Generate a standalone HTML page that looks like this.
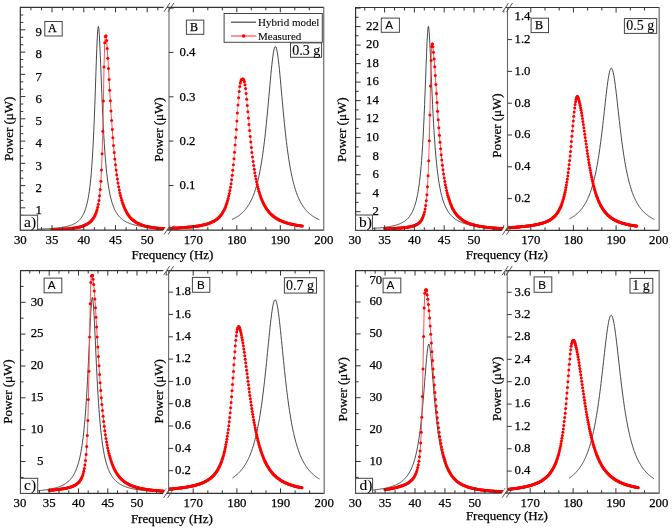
<!DOCTYPE html><html><head><meta charset="utf-8"><style>html,body{margin:0;padding:0;background:#fff;width:672px;height:530px;overflow:hidden}svg{display:block;will-change:transform} text{stroke:#000;stroke-width:0.25px}</style></head><body><svg width="672" height="530" viewBox="0 0 672 530" font-family='"Liberation Serif", serif' fill="#000" stroke-linecap="butt">
<rect width="672" height="530" fill="#fff"/>
<clipPath id="cAa"><rect x="20.3" y="7.3" width="148.7" height="222.8"/></clipPath>
<clipPath id="cBa"><rect x="169" y="7.3" width="154.7" height="222.8"/></clipPath>
<g clip-path="url(#cAa)">
<polyline points="20.3,229.5 20.8,229.5 21.3,229.5 21.8,229.5 22.3,229.5 22.8,229.5 23.3,229.5 23.8,229.5 24.3,229.4 24.8,229.4 25.3,229.4 25.8,229.4 26.3,229.4 26.8,229.4 27.3,229.4 27.8,229.4 28.3,229.4 28.8,229.4 29.3,229.3 29.8,229.3 30.3,229.3 30.8,229.3 31.3,229.3 31.8,229.3 32.3,229.3 32.8,229.3 33.3,229.3 33.8,229.2 34.3,229.2 34.8,229.2 35.3,229.2 35.8,229.2 36.3,229.2 36.8,229.2 37.3,229.1 37.8,229.1 38.3,229.1 38.8,229.1 39.3,229.1 39.8,229 40.3,229 40.8,229 41.3,229 41.8,229 42.3,229 42.8,228.9 43.3,228.9 43.8,228.9 44.3,228.9 44.8,228.8 45.3,228.8 45.8,228.8 46.3,228.8 46.8,228.7 47.3,228.7 47.8,228.7 48.3,228.7 48.8,228.6 49.3,228.6 49.8,228.6 50.3,228.5 50.8,228.5 51.3,228.5 51.8,228.4 52.3,228.4 52.8,228.3 53.3,228.3 53.8,228.3 54.3,228.2 54.8,228.2 55.3,228.1 55.8,228.1 56.3,228 56.8,228 57.3,227.9 57.8,227.9 58.3,227.8 58.8,227.8 59.3,227.7 59.8,227.6 60.3,227.6 60.8,227.5 61.3,227.4 61.8,227.4 62.3,227.3 62.8,227.2 63.3,227.1 63.8,227 64.3,226.9 64.8,226.8 65.3,226.7 65.8,226.6 66.3,226.5 66.8,226.4 67.3,226.3 67.8,226.2 68.3,226 68.8,225.9 69.3,225.8 69.8,225.6 70.3,225.4 70.8,225.3 71.3,225.1 71.8,224.9 72.3,224.7 72.8,224.5 73.3,224.3 73.8,224 74.3,223.8 74.8,223.5 75.3,223.2 75.8,222.9 76.3,222.6 76.8,222.2 77.3,221.9 77.8,221.5 78.3,221 78.8,220.6 79.3,220.1 79.8,219.6 80.3,219 80.8,218.4 81.3,217.7 81.8,217 82.3,216.2 82.8,215.3 83.3,214.4 83.8,213.4 84.3,212.2 84.8,211 85.3,209.6 85.8,208.1 86.3,206.4 86.8,204.5 87.3,202.4 87.8,200.1 88.3,197.5 88.8,194.5 89.3,191.2 89.8,187.4 90.3,183.1 90.8,178.2 91.3,172.7 91.8,166.3 92.3,159 92.8,150.7 93.3,141.2 93.8,130.5 94.3,118.6 94.8,105.4 95.3,91.1 95.8,76.3 96.3,61.7 96.8,48.2 97.3,37.1 97.8,29.6 98.3,26.5 98.4,26.4 98.8,28.3 99.3,34.6 99.8,44.1 100.3,55.5 100.8,68.1 101.3,80.9 101.8,93.4 102.3,105.2 102.8,116.3 103.3,126.3 103.8,135.5 104.3,143.7 104.8,151.1 105.3,157.7 105.8,163.6 106.3,168.9 106.8,173.7 107.3,177.9 107.8,181.8 108.3,185.2 108.8,188.3 109.3,191.1 109.8,193.7 110.3,196 110.8,198.1 111.3,200 111.8,201.8 112.3,203.4 112.8,204.9 113.3,206.2 113.8,207.5 114.3,208.7 114.8,209.7 115.3,210.7 115.8,211.7 116.3,212.5 116.8,213.3 117.3,214.1 117.8,214.8 118.3,215.4 118.8,216 119.3,216.6 119.8,217.1 120.3,217.7 120.8,218.1 121.3,218.6 121.8,219 122.3,219.4 122.8,219.8 123.3,220.2 123.8,220.5 124.3,220.8 124.8,221.1 125.3,221.4 125.8,221.7 126.3,222 126.8,222.2 127.3,222.5 127.8,222.7 128.3,222.9 128.8,223.1 129.3,223.3 129.8,223.5 130.3,223.7 130.8,223.9 131.3,224 131.8,224.2 132.3,224.4 132.8,224.5 133.3,224.7 133.8,224.8 134.3,224.9 134.8,225.1 135.3,225.2 135.8,225.3 136.3,225.4 136.8,225.5 137.3,225.6 137.8,225.7 138.3,225.8 138.8,225.9 139.3,226 139.8,226.1 140.3,226.2 140.8,226.3 141.3,226.4 141.8,226.4 142.3,226.5 142.8,226.6 143.3,226.6 143.8,226.7 144.3,226.8 144.8,226.8 145.3,226.9 145.8,227 146.3,227 146.8,227.1 147.3,227.1 147.8,227.2 148.3,227.3 148.8,227.3 149.3,227.4 149.8,227.4 150.3,227.4 150.8,227.5 151.3,227.5 151.8,227.6 152.3,227.6 152.8,227.7 153.3,227.7 153.8,227.7 154.3,227.8 154.8,227.8 155.3,227.9 155.8,227.9 156.3,227.9 156.8,228 157.3,228 157.8,228 158.3,228.1 158.8,228.1 159.3,228.1 159.8,228.2 160.3,228.2 160.8,228.2 161.3,228.2 161.8,228.3 162.3,228.3 162.8,228.3 163.3,228.3 163.8,228.4 164.3,228.4 164.8,228.4 165.3,228.4 165.8,228.5 166.3,228.5 166.8,228.5 167.3,228.5 167.8,228.5 168.3,228.6 168.8,228.6" fill="none" stroke="#333" stroke-width="0.9" stroke-linejoin="round" />
<polyline points="52,229.5 52.6,229.5 53.3,229.5 53.9,229.5 54.5,229.5 55.2,229.4 55.8,229.4 56.4,229.4 57.1,229.4 57.7,229.4 58.3,229.3 59,229.3 59.6,229.3 60.2,229.3 60.9,229.2 61.5,229.2 62.2,229.2 62.8,229.1 63.4,229.1 64.1,229 64.7,229 65.3,229 66,228.9 66.6,228.9 67.2,228.8 67.9,228.8 68.5,228.7 69.1,228.7 69.8,228.6 70.4,228.5 71,228.5 71.7,228.4 72.3,228.3 72.9,228.2 73.6,228.1 74.2,228 74.8,227.9 75.5,227.8 76.1,227.7 76.7,227.6 77.4,227.5 78,227.3 78.6,227.2 79.3,227 79.9,226.9 80.6,226.7 81.2,226.5 81.8,226.3 82.5,226.1 83.1,225.9 83.7,225.7 84.4,225.4 85,225.1 85.6,224.8 86.3,224.5 86.9,224.2 87.5,223.8 88.2,223.4 88.8,223 89.4,222.5 90.1,222 90.7,221.4 91.3,220.8 92,220.1 92.6,219.3 93.2,218.4 93.9,217.4 94.5,216.3 95.1,215 95.8,213.5 96.4,211.8 97,209.7 97.7,207.3 98.3,204.3 99,200.5 99.6,195.7 100.2,189.5 100.9,181.3 101.5,169.9 102.1,153.8 102.8,131.3 103.4,101 104,67 104.7,42.8 105.3,36.4 105.9,36.1 106,36.1 106.6,40.5 107.2,48.6 107.8,58.2 108.5,68.6 109.1,79.4 109.7,90.3 110.4,100.8 111,111 111.6,120.6 112.3,129.5 112.9,137.8 113.5,145.5 114.2,152.5 114.8,158.9 115.5,164.7 116.1,170 116.7,174.8 117.4,179.1 118,183.1 118.6,186.7 119.3,190 119.9,192.9 120.5,195.6 121.2,198.1 121.8,200.3 122.4,202.4 123.1,204.3 123.7,206 124.3,207.5 125,209 125.6,210.3 126.2,211.5 126.9,212.7 127.5,213.7 128.1,214.7 128.8,215.6 129.4,216.4 130,217.2 130.7,217.9 131.3,218.6 131.9,219.2 132.6,219.7 133.2,220.3 133.9,220.8 134.5,221.3 135.1,221.7 135.8,222.1 136.4,222.5 137,222.9 137.7,223.2 138.3,223.5 138.9,223.8 139.6,224.1 140.2,224.4 140.8,224.6 141.5,224.9 142.1,225.1 142.7,225.3 143.4,225.5 144,225.7 144.6,225.9 145.3,226 145.9,226.2 146.5,226.4 147.2,226.5 147.8,226.6 148.4,226.8 149.1,226.9 149.7,227 150.3,227.1 151,227.2 151.6,227.3 152.3,227.4 152.9,227.5 153.5,227.6 154.2,227.7 154.8,227.8 155.4,227.9 156.1,228 156.7,228 157.3,228.1 158,228.2 158.6,228.2 159.2,228.3 159.9,228.3 160.5,228.4 161.1,228.5 161.8,228.5 162.4,228.6 163,228.6 163.7,228.6 164.3,228.7 164.9,228.7 165.6,228.8 166.2,228.8 166.8,228.8 167.5,228.9 168.1,228.9 168.7,228.9" fill="none" stroke="#ff5050" stroke-width="1.0" stroke-linejoin="round" />
<g fill="#f00"><circle cx="52" cy="229.5" r="1.5"/><circle cx="52.6" cy="229.5" r="1.5"/><circle cx="53.3" cy="229.5" r="1.5"/><circle cx="53.9" cy="229.5" r="1.5"/><circle cx="54.5" cy="229.5" r="1.5"/><circle cx="55.2" cy="229.4" r="1.5"/><circle cx="55.8" cy="229.4" r="1.5"/><circle cx="56.4" cy="229.4" r="1.5"/><circle cx="57.1" cy="229.4" r="1.5"/><circle cx="57.7" cy="229.4" r="1.5"/><circle cx="58.3" cy="229.3" r="1.5"/><circle cx="59" cy="229.3" r="1.5"/><circle cx="59.6" cy="229.3" r="1.5"/><circle cx="60.2" cy="229.3" r="1.5"/><circle cx="60.9" cy="229.2" r="1.5"/><circle cx="61.5" cy="229.2" r="1.5"/><circle cx="62.2" cy="229.2" r="1.5"/><circle cx="62.8" cy="229.1" r="1.5"/><circle cx="63.4" cy="229.1" r="1.5"/><circle cx="64.1" cy="229" r="1.5"/><circle cx="64.7" cy="229" r="1.5"/><circle cx="65.3" cy="229" r="1.5"/><circle cx="66" cy="228.9" r="1.5"/><circle cx="66.6" cy="228.9" r="1.5"/><circle cx="67.2" cy="228.8" r="1.5"/><circle cx="67.9" cy="228.8" r="1.5"/><circle cx="68.5" cy="228.7" r="1.5"/><circle cx="69.1" cy="228.7" r="1.5"/><circle cx="69.8" cy="228.6" r="1.5"/><circle cx="70.4" cy="228.5" r="1.5"/><circle cx="71" cy="228.5" r="1.5"/><circle cx="71.7" cy="228.4" r="1.5"/><circle cx="72.3" cy="228.3" r="1.5"/><circle cx="72.9" cy="228.2" r="1.5"/><circle cx="73.6" cy="228.1" r="1.5"/><circle cx="74.2" cy="228" r="1.5"/><circle cx="74.8" cy="227.9" r="1.5"/><circle cx="75.5" cy="227.8" r="1.5"/><circle cx="76.1" cy="227.7" r="1.5"/><circle cx="76.7" cy="227.6" r="1.5"/><circle cx="77.4" cy="227.5" r="1.5"/><circle cx="78" cy="227.3" r="1.5"/><circle cx="78.6" cy="227.2" r="1.5"/><circle cx="79.3" cy="227" r="1.5"/><circle cx="79.9" cy="226.9" r="1.5"/><circle cx="80.6" cy="226.7" r="1.5"/><circle cx="81.2" cy="226.5" r="1.5"/><circle cx="81.8" cy="226.3" r="1.5"/><circle cx="82.5" cy="226.1" r="1.5"/><circle cx="83.1" cy="225.9" r="1.5"/><circle cx="83.7" cy="225.7" r="1.5"/><circle cx="84.4" cy="225.4" r="1.5"/><circle cx="85" cy="225.1" r="1.5"/><circle cx="85.6" cy="224.8" r="1.5"/><circle cx="86.3" cy="224.5" r="1.5"/><circle cx="86.9" cy="224.2" r="1.5"/><circle cx="87.5" cy="223.8" r="1.5"/><circle cx="88.2" cy="223.4" r="1.5"/><circle cx="88.8" cy="223" r="1.5"/><circle cx="89.4" cy="222.5" r="1.5"/><circle cx="90.1" cy="222" r="1.5"/><circle cx="90.7" cy="221.4" r="1.5"/><circle cx="91.3" cy="220.8" r="1.5"/><circle cx="92" cy="220.1" r="1.5"/><circle cx="92.6" cy="219.3" r="1.5"/><circle cx="93.2" cy="218.4" r="1.5"/><circle cx="93.9" cy="217.4" r="1.5"/><circle cx="94.5" cy="216.3" r="1.5"/><circle cx="95.1" cy="215" r="1.5"/><circle cx="95.8" cy="213.5" r="1.5"/><circle cx="96.4" cy="211.8" r="1.5"/><circle cx="97" cy="209.7" r="1.5"/><circle cx="97.7" cy="207.3" r="1.5"/><circle cx="98.3" cy="204.3" r="1.5"/><circle cx="99" cy="200.5" r="1.5"/><circle cx="99.6" cy="195.7" r="1.5"/><circle cx="100.2" cy="189.5" r="1.5"/><circle cx="100.9" cy="181.3" r="1.5"/><circle cx="101.5" cy="169.9" r="1.5"/><circle cx="102.1" cy="153.8" r="1.5"/><circle cx="102.8" cy="131.3" r="1.5"/><circle cx="103.4" cy="101" r="1.5"/><circle cx="104" cy="67" r="1.5"/><circle cx="104.7" cy="42.8" r="1.5"/><circle cx="105.3" cy="36.4" r="1.5"/><circle cx="105.9" cy="36.1" r="1.5"/><circle cx="106" cy="36.1" r="1.5"/><circle cx="106.6" cy="40.5" r="1.5"/><circle cx="107.2" cy="48.6" r="1.5"/><circle cx="107.8" cy="58.2" r="1.5"/><circle cx="108.5" cy="68.6" r="1.5"/><circle cx="109.1" cy="79.4" r="1.5"/><circle cx="109.7" cy="90.3" r="1.5"/><circle cx="110.4" cy="100.8" r="1.5"/><circle cx="111" cy="111" r="1.5"/><circle cx="111.6" cy="120.6" r="1.5"/><circle cx="112.3" cy="129.5" r="1.5"/><circle cx="112.9" cy="137.8" r="1.5"/><circle cx="113.5" cy="145.5" r="1.5"/><circle cx="114.2" cy="152.5" r="1.5"/><circle cx="114.8" cy="158.9" r="1.5"/><circle cx="115.5" cy="164.7" r="1.5"/><circle cx="116.1" cy="170" r="1.5"/><circle cx="116.7" cy="174.8" r="1.5"/><circle cx="117.4" cy="179.1" r="1.5"/><circle cx="118" cy="183.1" r="1.5"/><circle cx="118.6" cy="186.7" r="1.5"/><circle cx="119.3" cy="190" r="1.5"/><circle cx="119.9" cy="192.9" r="1.5"/><circle cx="120.5" cy="195.6" r="1.5"/><circle cx="121.2" cy="198.1" r="1.5"/><circle cx="121.8" cy="200.3" r="1.5"/><circle cx="122.4" cy="202.4" r="1.5"/><circle cx="123.1" cy="204.3" r="1.5"/><circle cx="123.7" cy="206" r="1.5"/><circle cx="124.3" cy="207.5" r="1.5"/><circle cx="125" cy="209" r="1.5"/><circle cx="125.6" cy="210.3" r="1.5"/><circle cx="126.2" cy="211.5" r="1.5"/><circle cx="126.9" cy="212.7" r="1.5"/><circle cx="127.5" cy="213.7" r="1.5"/><circle cx="128.1" cy="214.7" r="1.5"/><circle cx="128.8" cy="215.6" r="1.5"/><circle cx="129.4" cy="216.4" r="1.5"/><circle cx="130" cy="217.2" r="1.5"/><circle cx="130.7" cy="217.9" r="1.5"/><circle cx="131.3" cy="218.6" r="1.5"/><circle cx="131.9" cy="219.2" r="1.5"/><circle cx="132.6" cy="219.7" r="1.5"/><circle cx="133.2" cy="220.3" r="1.5"/><circle cx="133.9" cy="220.8" r="1.5"/><circle cx="134.5" cy="221.3" r="1.5"/><circle cx="135.1" cy="221.7" r="1.5"/><circle cx="135.8" cy="222.1" r="1.5"/><circle cx="136.4" cy="222.5" r="1.5"/><circle cx="137" cy="222.9" r="1.5"/><circle cx="137.7" cy="223.2" r="1.5"/><circle cx="138.3" cy="223.5" r="1.5"/><circle cx="138.9" cy="223.8" r="1.5"/><circle cx="139.6" cy="224.1" r="1.5"/><circle cx="140.2" cy="224.4" r="1.5"/><circle cx="140.8" cy="224.6" r="1.5"/><circle cx="141.5" cy="224.9" r="1.5"/><circle cx="142.1" cy="225.1" r="1.5"/><circle cx="142.7" cy="225.3" r="1.5"/><circle cx="143.4" cy="225.5" r="1.5"/><circle cx="144" cy="225.7" r="1.5"/><circle cx="144.6" cy="225.9" r="1.5"/><circle cx="145.3" cy="226" r="1.5"/><circle cx="145.9" cy="226.2" r="1.5"/><circle cx="146.5" cy="226.4" r="1.5"/><circle cx="147.2" cy="226.5" r="1.5"/><circle cx="147.8" cy="226.6" r="1.5"/><circle cx="148.4" cy="226.8" r="1.5"/><circle cx="149.1" cy="226.9" r="1.5"/><circle cx="149.7" cy="227" r="1.5"/><circle cx="150.3" cy="227.1" r="1.5"/><circle cx="151" cy="227.2" r="1.5"/><circle cx="151.6" cy="227.3" r="1.5"/><circle cx="152.3" cy="227.4" r="1.5"/><circle cx="152.9" cy="227.5" r="1.5"/><circle cx="153.5" cy="227.6" r="1.5"/><circle cx="154.2" cy="227.7" r="1.5"/><circle cx="154.8" cy="227.8" r="1.5"/><circle cx="155.4" cy="227.9" r="1.5"/><circle cx="156.1" cy="228" r="1.5"/><circle cx="156.7" cy="228" r="1.5"/><circle cx="157.3" cy="228.1" r="1.5"/><circle cx="158" cy="228.2" r="1.5"/><circle cx="158.6" cy="228.2" r="1.5"/><circle cx="159.2" cy="228.3" r="1.5"/><circle cx="159.9" cy="228.3" r="1.5"/><circle cx="160.5" cy="228.4" r="1.5"/><circle cx="161.1" cy="228.5" r="1.5"/><circle cx="161.8" cy="228.5" r="1.5"/><circle cx="162.4" cy="228.6" r="1.5"/><circle cx="163" cy="228.6" r="1.5"/><circle cx="163.7" cy="228.6" r="1.5"/><circle cx="164.3" cy="228.7" r="1.5"/><circle cx="164.9" cy="228.7" r="1.5"/><circle cx="165.6" cy="228.8" r="1.5"/><circle cx="166.2" cy="228.8" r="1.5"/><circle cx="166.8" cy="228.8" r="1.5"/><circle cx="167.5" cy="228.9" r="1.5"/><circle cx="168.1" cy="228.9" r="1.5"/><circle cx="168.7" cy="228.9" r="1.5"/></g>
</g>
<g clip-path="url(#cBa)">
<polyline points="231.9,219.5 232.4,219.3 232.9,219.1 233.4,218.8 233.9,218.6 234.4,218.3 234.9,218 235.4,217.8 235.9,217.5 236.4,217.2 236.9,216.9 237.4,216.6 237.9,216.2 238.4,215.9 238.9,215.5 239.4,215.2 239.9,214.8 240.4,214.4 240.9,214 241.4,213.6 241.9,213.1 242.4,212.7 242.9,212.2 243.4,211.7 243.9,211.2 244.4,210.6 244.9,210 245.4,209.5 245.9,208.8 246.4,208.2 246.9,207.5 247.4,206.8 247.9,206.1 248.4,205.3 248.9,204.5 249.4,203.7 249.9,202.8 250.4,201.9 250.9,200.9 251.4,199.9 251.9,198.8 252.4,197.7 252.9,196.5 253.4,195.3 253.9,194 254.4,192.6 254.9,191.1 255.4,189.6 255.9,188 256.4,186.3 256.9,184.5 257.4,182.6 257.9,180.6 258.4,178.5 258.9,176.3 259.4,173.9 259.9,171.4 260.4,168.8 260.9,166 261.4,163 261.9,159.9 262.4,156.6 262.9,153.1 263.4,149.5 263.9,145.6 264.4,141.5 264.9,137.3 265.4,132.8 265.9,128.1 266.4,123.3 266.9,118.2 267.4,113 267.9,107.7 268.4,102.2 268.9,96.6 269.4,91 269.9,85.4 270.4,79.9 270.9,74.5 271.4,69.3 271.9,64.5 272.4,60.1 272.9,56.2 273.4,52.8 273.9,50.1 274.4,48.1 274.9,46.9 275.4,46.5 275.4,46.5 275.9,46.9 276.4,48.1 276.9,50.1 277.4,52.8 277.9,56.2 278.4,60.1 278.9,64.5 279.4,69.3 279.9,74.5 280.4,79.9 280.9,85.4 281.4,91 281.9,96.6 282.4,102.2 282.9,107.7 283.4,113 283.9,118.2 284.4,123.3 284.9,128.1 285.4,132.8 285.9,137.3 286.4,141.5 286.9,145.6 287.4,149.5 287.9,153.1 288.4,156.6 288.9,159.9 289.4,163 289.9,166 290.4,168.8 290.9,171.4 291.4,173.9 291.9,176.3 292.4,178.5 292.9,180.6 293.4,182.6 293.9,184.5 294.4,186.3 294.9,188 295.4,189.6 295.9,191.1 296.4,192.6 296.9,194 297.4,195.3 297.9,196.5 298.4,197.7 298.9,198.8 299.4,199.9 299.9,200.9 300.4,201.9 300.9,202.8 301.4,203.7 301.9,204.5 302.4,205.3 302.9,206.1 303.4,206.8 303.9,207.5 304.4,208.2 304.9,208.8 305.4,209.5 305.9,210 306.4,210.6 306.9,211.2 307.4,211.7 307.9,212.2 308.4,212.7 308.9,213.1 309.4,213.6 309.9,214 310.4,214.4 310.9,214.8 311.4,215.2 311.9,215.5 312.4,215.9 312.9,216.2 313.4,216.6 313.9,216.9 314.4,217.2 314.9,217.5 315.4,217.8 315.9,218 316.4,218.3 316.9,218.6 317.4,218.8 317.9,219.1 318.4,219.3 318.9,219.5 319.4,219.7" fill="none" stroke="#333" stroke-width="0.9" stroke-linejoin="round" />
<polyline points="169,228.3 169.6,228.3 170.2,228.2 170.7,228.2 171.3,228.2 171.9,228.2 172.5,228.1 173.1,228.1 173.6,228.1 174.2,228.1 174.8,228 175.4,228 176,228 176.5,228 177.1,227.9 177.7,227.9 178.3,227.9 178.9,227.8 179.4,227.8 180,227.8 180.6,227.7 181.2,227.7 181.8,227.6 182.3,227.6 182.9,227.6 183.5,227.5 184.1,227.5 184.7,227.4 185.2,227.4 185.8,227.3 186.4,227.3 187,227.2 187.6,227.2 188.1,227.1 188.7,227.1 189.3,227 189.9,227 190.5,226.9 191,226.9 191.6,226.8 192.2,226.7 192.8,226.7 193.4,226.6 193.9,226.5 194.5,226.5 195.1,226.4 195.7,226.3 196.3,226.2 196.8,226.1 197.4,226 198,225.9 198.6,225.9 199.2,225.8 199.7,225.7 200.3,225.6 200.9,225.4 201.5,225.3 202.1,225.2 202.6,225.1 203.2,225 203.8,224.8 204.4,224.7 205,224.5 205.5,224.4 206.1,224.2 206.7,224.1 207.3,223.9 207.9,223.7 208.4,223.5 209,223.3 209.6,223.1 210.2,222.9 210.8,222.6 211.3,222.4 211.9,222.1 212.5,221.8 213.1,221.6 213.7,221.2 214.2,220.9 214.8,220.6 215.4,220.2 216,219.8 216.6,219.4 217.1,218.9 217.7,218.4 218.3,217.9 218.9,217.4 219.5,216.8 220,216.1 220.6,215.4 221.2,214.7 221.8,213.9 222.4,213 222.9,212.1 223.5,211 224.1,209.9 224.7,208.7 225.3,207.4 225.8,205.9 226.4,204.3 227,202.6 227.6,200.6 228.2,198.5 228.7,196.1 229.3,193.5 229.9,190.6 230.5,187.3 231.1,183.7 231.6,179.7 232.2,175.3 232.8,170.3 233.4,164.8 234,158.8 234.5,152.2 235.1,145.1 235.7,137.4 236.3,129.4 236.9,121.1 237.4,112.9 238,105 238.6,97.7 239.2,91.4 239.8,86.4 240.3,83 240.9,80.8 241.5,79.6 242.1,79.2 242.7,79.1 242.8,79.1 243.2,79.2 243.8,80 244.4,81.8 245,84.7 245.6,88.6 246.1,93.6 246.7,99.3 247.3,105.4 247.9,111.7 248.5,118.1 249,124.4 249.6,130.6 250.2,136.5 250.8,142.1 251.4,147.4 251.9,152.4 252.5,157.1 253.1,161.4 253.7,165.5 254.3,169.3 254.8,172.8 255.4,176 256,179 256.6,181.8 257.2,184.4 257.7,186.8 258.3,189.1 258.9,191.2 259.5,193.1 260.1,194.9 260.6,196.6 261.2,198.2 261.8,199.7 262.4,201.1 263,202.4 263.5,203.6 264.1,204.7 264.7,205.8 265.3,206.8 265.9,207.7 266.4,208.6 267,209.5 267.6,210.3 268.2,211 268.8,211.7 269.3,212.4 269.9,213.1 270.5,213.7 271.1,214.2 271.7,214.8 272.2,215.3 272.8,215.8 273.4,216.3 274,216.7 274.6,217.1 275.1,217.6 275.7,217.9 276.3,218.3 276.9,218.7 277.5,219 278,219.3 278.6,219.6 279.2,219.9 279.8,220.2 280.4,220.5 280.9,220.8 281.5,221 282.1,221.3 282.7,221.5 283.3,221.7 283.8,221.9 284.4,222.1 285,222.3 285.6,222.5 286.2,222.7 286.7,222.9 287.3,223.1 287.9,223.2 288.5,223.4 289.1,223.6 289.6,223.7 290.2,223.9 290.8,224 291.4,224.1 292,224.3 292.5,224.4 293.1,224.5 293.7,224.6 294.3,224.8 294.9,224.9 295.4,225 296,225.1 296.6,225.2 297.2,225.3 297.8,225.4 298.3,225.5 298.9,225.6 299.5,225.6 300.1,225.7 300.7,225.8 301.2,225.9 301.8,226 302.4,226" fill="none" stroke="#ff5050" stroke-width="0.6" stroke-linejoin="round" />
<g fill="#f00"><circle cx="169" cy="228.3" r="1.5"/><circle cx="169.6" cy="228.3" r="1.5"/><circle cx="170.2" cy="228.2" r="1.5"/><circle cx="170.7" cy="228.2" r="1.5"/><circle cx="171.3" cy="228.2" r="1.5"/><circle cx="171.9" cy="228.2" r="1.5"/><circle cx="172.5" cy="228.1" r="1.5"/><circle cx="173.1" cy="228.1" r="1.5"/><circle cx="173.6" cy="228.1" r="1.5"/><circle cx="174.2" cy="228.1" r="1.5"/><circle cx="174.8" cy="228" r="1.5"/><circle cx="175.4" cy="228" r="1.5"/><circle cx="176" cy="228" r="1.5"/><circle cx="176.5" cy="228" r="1.5"/><circle cx="177.1" cy="227.9" r="1.5"/><circle cx="177.7" cy="227.9" r="1.5"/><circle cx="178.3" cy="227.9" r="1.5"/><circle cx="178.9" cy="227.8" r="1.5"/><circle cx="179.4" cy="227.8" r="1.5"/><circle cx="180" cy="227.8" r="1.5"/><circle cx="180.6" cy="227.7" r="1.5"/><circle cx="181.2" cy="227.7" r="1.5"/><circle cx="181.8" cy="227.6" r="1.5"/><circle cx="182.3" cy="227.6" r="1.5"/><circle cx="182.9" cy="227.6" r="1.5"/><circle cx="183.5" cy="227.5" r="1.5"/><circle cx="184.1" cy="227.5" r="1.5"/><circle cx="184.7" cy="227.4" r="1.5"/><circle cx="185.2" cy="227.4" r="1.5"/><circle cx="185.8" cy="227.3" r="1.5"/><circle cx="186.4" cy="227.3" r="1.5"/><circle cx="187" cy="227.2" r="1.5"/><circle cx="187.6" cy="227.2" r="1.5"/><circle cx="188.1" cy="227.1" r="1.5"/><circle cx="188.7" cy="227.1" r="1.5"/><circle cx="189.3" cy="227" r="1.5"/><circle cx="189.9" cy="227" r="1.5"/><circle cx="190.5" cy="226.9" r="1.5"/><circle cx="191" cy="226.9" r="1.5"/><circle cx="191.6" cy="226.8" r="1.5"/><circle cx="192.2" cy="226.7" r="1.5"/><circle cx="192.8" cy="226.7" r="1.5"/><circle cx="193.4" cy="226.6" r="1.5"/><circle cx="193.9" cy="226.5" r="1.5"/><circle cx="194.5" cy="226.5" r="1.5"/><circle cx="195.1" cy="226.4" r="1.5"/><circle cx="195.7" cy="226.3" r="1.5"/><circle cx="196.3" cy="226.2" r="1.5"/><circle cx="196.8" cy="226.1" r="1.5"/><circle cx="197.4" cy="226" r="1.5"/><circle cx="198" cy="225.9" r="1.5"/><circle cx="198.6" cy="225.9" r="1.5"/><circle cx="199.2" cy="225.8" r="1.5"/><circle cx="199.7" cy="225.7" r="1.5"/><circle cx="200.3" cy="225.6" r="1.5"/><circle cx="200.9" cy="225.4" r="1.5"/><circle cx="201.5" cy="225.3" r="1.5"/><circle cx="202.1" cy="225.2" r="1.5"/><circle cx="202.6" cy="225.1" r="1.5"/><circle cx="203.2" cy="225" r="1.5"/><circle cx="203.8" cy="224.8" r="1.5"/><circle cx="204.4" cy="224.7" r="1.5"/><circle cx="205" cy="224.5" r="1.5"/><circle cx="205.5" cy="224.4" r="1.5"/><circle cx="206.1" cy="224.2" r="1.5"/><circle cx="206.7" cy="224.1" r="1.5"/><circle cx="207.3" cy="223.9" r="1.5"/><circle cx="207.9" cy="223.7" r="1.5"/><circle cx="208.4" cy="223.5" r="1.5"/><circle cx="209" cy="223.3" r="1.5"/><circle cx="209.6" cy="223.1" r="1.5"/><circle cx="210.2" cy="222.9" r="1.5"/><circle cx="210.8" cy="222.6" r="1.5"/><circle cx="211.3" cy="222.4" r="1.5"/><circle cx="211.9" cy="222.1" r="1.5"/><circle cx="212.5" cy="221.8" r="1.5"/><circle cx="213.1" cy="221.6" r="1.5"/><circle cx="213.7" cy="221.2" r="1.5"/><circle cx="214.2" cy="220.9" r="1.5"/><circle cx="214.8" cy="220.6" r="1.5"/><circle cx="215.4" cy="220.2" r="1.5"/><circle cx="216" cy="219.8" r="1.5"/><circle cx="216.6" cy="219.4" r="1.5"/><circle cx="217.1" cy="218.9" r="1.5"/><circle cx="217.7" cy="218.4" r="1.5"/><circle cx="218.3" cy="217.9" r="1.5"/><circle cx="218.9" cy="217.4" r="1.5"/><circle cx="219.5" cy="216.8" r="1.5"/><circle cx="220" cy="216.1" r="1.5"/><circle cx="220.6" cy="215.4" r="1.5"/><circle cx="221.2" cy="214.7" r="1.5"/><circle cx="221.8" cy="213.9" r="1.5"/><circle cx="222.4" cy="213" r="1.5"/><circle cx="222.9" cy="212.1" r="1.5"/><circle cx="223.5" cy="211" r="1.5"/><circle cx="224.1" cy="209.9" r="1.5"/><circle cx="224.7" cy="208.7" r="1.5"/><circle cx="225.3" cy="207.4" r="1.5"/><circle cx="225.8" cy="205.9" r="1.5"/><circle cx="226.4" cy="204.3" r="1.5"/><circle cx="227" cy="202.6" r="1.5"/><circle cx="227.6" cy="200.6" r="1.5"/><circle cx="228.2" cy="198.5" r="1.5"/><circle cx="228.7" cy="196.1" r="1.5"/><circle cx="229.3" cy="193.5" r="1.5"/><circle cx="229.9" cy="190.6" r="1.5"/><circle cx="230.5" cy="187.3" r="1.5"/><circle cx="231.1" cy="183.7" r="1.5"/><circle cx="231.6" cy="179.7" r="1.5"/><circle cx="232.2" cy="175.3" r="1.5"/><circle cx="232.8" cy="170.3" r="1.5"/><circle cx="233.4" cy="164.8" r="1.5"/><circle cx="234" cy="158.8" r="1.5"/><circle cx="234.5" cy="152.2" r="1.5"/><circle cx="235.1" cy="145.1" r="1.5"/><circle cx="235.7" cy="137.4" r="1.5"/><circle cx="236.3" cy="129.4" r="1.5"/><circle cx="236.9" cy="121.1" r="1.5"/><circle cx="237.4" cy="112.9" r="1.5"/><circle cx="238" cy="105" r="1.5"/><circle cx="238.6" cy="97.7" r="1.5"/><circle cx="239.2" cy="91.4" r="1.5"/><circle cx="239.8" cy="86.4" r="1.5"/><circle cx="240.3" cy="83" r="1.5"/><circle cx="240.9" cy="80.8" r="1.5"/><circle cx="241.5" cy="79.6" r="1.5"/><circle cx="242.1" cy="79.2" r="1.5"/><circle cx="242.7" cy="79.1" r="1.5"/><circle cx="242.8" cy="79.1" r="1.5"/><circle cx="243.2" cy="79.2" r="1.5"/><circle cx="243.8" cy="80" r="1.5"/><circle cx="244.4" cy="81.8" r="1.5"/><circle cx="245" cy="84.7" r="1.5"/><circle cx="245.6" cy="88.6" r="1.5"/><circle cx="246.1" cy="93.6" r="1.5"/><circle cx="246.7" cy="99.3" r="1.5"/><circle cx="247.3" cy="105.4" r="1.5"/><circle cx="247.9" cy="111.7" r="1.5"/><circle cx="248.5" cy="118.1" r="1.5"/><circle cx="249" cy="124.4" r="1.5"/><circle cx="249.6" cy="130.6" r="1.5"/><circle cx="250.2" cy="136.5" r="1.5"/><circle cx="250.8" cy="142.1" r="1.5"/><circle cx="251.4" cy="147.4" r="1.5"/><circle cx="251.9" cy="152.4" r="1.5"/><circle cx="252.5" cy="157.1" r="1.5"/><circle cx="253.1" cy="161.4" r="1.5"/><circle cx="253.7" cy="165.5" r="1.5"/><circle cx="254.3" cy="169.3" r="1.5"/><circle cx="254.8" cy="172.8" r="1.5"/><circle cx="255.4" cy="176" r="1.5"/><circle cx="256" cy="179" r="1.5"/><circle cx="256.6" cy="181.8" r="1.5"/><circle cx="257.2" cy="184.4" r="1.5"/><circle cx="257.7" cy="186.8" r="1.5"/><circle cx="258.3" cy="189.1" r="1.5"/><circle cx="258.9" cy="191.2" r="1.5"/><circle cx="259.5" cy="193.1" r="1.5"/><circle cx="260.1" cy="194.9" r="1.5"/><circle cx="260.6" cy="196.6" r="1.5"/><circle cx="261.2" cy="198.2" r="1.5"/><circle cx="261.8" cy="199.7" r="1.5"/><circle cx="262.4" cy="201.1" r="1.5"/><circle cx="263" cy="202.4" r="1.5"/><circle cx="263.5" cy="203.6" r="1.5"/><circle cx="264.1" cy="204.7" r="1.5"/><circle cx="264.7" cy="205.8" r="1.5"/><circle cx="265.3" cy="206.8" r="1.5"/><circle cx="265.9" cy="207.7" r="1.5"/><circle cx="266.4" cy="208.6" r="1.5"/><circle cx="267" cy="209.5" r="1.5"/><circle cx="267.6" cy="210.3" r="1.5"/><circle cx="268.2" cy="211" r="1.5"/><circle cx="268.8" cy="211.7" r="1.5"/><circle cx="269.3" cy="212.4" r="1.5"/><circle cx="269.9" cy="213.1" r="1.5"/><circle cx="270.5" cy="213.7" r="1.5"/><circle cx="271.1" cy="214.2" r="1.5"/><circle cx="271.7" cy="214.8" r="1.5"/><circle cx="272.2" cy="215.3" r="1.5"/><circle cx="272.8" cy="215.8" r="1.5"/><circle cx="273.4" cy="216.3" r="1.5"/><circle cx="274" cy="216.7" r="1.5"/><circle cx="274.6" cy="217.1" r="1.5"/><circle cx="275.1" cy="217.6" r="1.5"/><circle cx="275.7" cy="217.9" r="1.5"/><circle cx="276.3" cy="218.3" r="1.5"/><circle cx="276.9" cy="218.7" r="1.5"/><circle cx="277.5" cy="219" r="1.5"/><circle cx="278" cy="219.3" r="1.5"/><circle cx="278.6" cy="219.6" r="1.5"/><circle cx="279.2" cy="219.9" r="1.5"/><circle cx="279.8" cy="220.2" r="1.5"/><circle cx="280.4" cy="220.5" r="1.5"/><circle cx="280.9" cy="220.8" r="1.5"/><circle cx="281.5" cy="221" r="1.5"/><circle cx="282.1" cy="221.3" r="1.5"/><circle cx="282.7" cy="221.5" r="1.5"/><circle cx="283.3" cy="221.7" r="1.5"/><circle cx="283.8" cy="221.9" r="1.5"/><circle cx="284.4" cy="222.1" r="1.5"/><circle cx="285" cy="222.3" r="1.5"/><circle cx="285.6" cy="222.5" r="1.5"/><circle cx="286.2" cy="222.7" r="1.5"/><circle cx="286.7" cy="222.9" r="1.5"/><circle cx="287.3" cy="223.1" r="1.5"/><circle cx="287.9" cy="223.2" r="1.5"/><circle cx="288.5" cy="223.4" r="1.5"/><circle cx="289.1" cy="223.6" r="1.5"/><circle cx="289.6" cy="223.7" r="1.5"/><circle cx="290.2" cy="223.9" r="1.5"/><circle cx="290.8" cy="224" r="1.5"/><circle cx="291.4" cy="224.1" r="1.5"/><circle cx="292" cy="224.3" r="1.5"/><circle cx="292.5" cy="224.4" r="1.5"/><circle cx="293.1" cy="224.5" r="1.5"/><circle cx="293.7" cy="224.6" r="1.5"/><circle cx="294.3" cy="224.8" r="1.5"/><circle cx="294.9" cy="224.9" r="1.5"/><circle cx="295.4" cy="225" r="1.5"/><circle cx="296" cy="225.1" r="1.5"/><circle cx="296.6" cy="225.2" r="1.5"/><circle cx="297.2" cy="225.3" r="1.5"/><circle cx="297.8" cy="225.4" r="1.5"/><circle cx="298.3" cy="225.5" r="1.5"/><circle cx="298.9" cy="225.6" r="1.5"/><circle cx="299.5" cy="225.6" r="1.5"/><circle cx="300.1" cy="225.7" r="1.5"/><circle cx="300.7" cy="225.8" r="1.5"/><circle cx="301.2" cy="225.9" r="1.5"/><circle cx="301.8" cy="226" r="1.5"/><circle cx="302.4" cy="226" r="1.5"/></g>
</g>
<line x1="20.3" y1="7.3" x2="323.7" y2="7.3" stroke="#333" stroke-width="1.2"/>
<line x1="20.3" y1="230.1" x2="323.7" y2="230.1" stroke="#333" stroke-width="1.2"/>
<line x1="20.3" y1="6.7" x2="20.3" y2="230.7" stroke="#333" stroke-width="1.2"/>
<line x1="169" y1="7.3" x2="169" y2="230.1" stroke="#666" stroke-width="1.1"/>
<line x1="323.7" y1="6.7" x2="323.7" y2="230.7" stroke="#777" stroke-width="1.3"/>
<line x1="30.9" y1="230.1" x2="30.9" y2="227.1" stroke="#333" stroke-width="1.0"/>
<line x1="30.9" y1="7.3" x2="30.9" y2="10.3" stroke="#333" stroke-width="1.0"/>
<line x1="41.5" y1="230.1" x2="41.5" y2="227.1" stroke="#333" stroke-width="1.0"/>
<line x1="41.5" y1="7.3" x2="41.5" y2="10.3" stroke="#333" stroke-width="1.0"/>
<line x1="52" y1="230.1" x2="52" y2="225.1" stroke="#333" stroke-width="1.0"/>
<line x1="52" y1="7.3" x2="52" y2="12.3" stroke="#333" stroke-width="1.0"/>
<line x1="62.6" y1="230.1" x2="62.6" y2="227.1" stroke="#333" stroke-width="1.0"/>
<line x1="62.6" y1="7.3" x2="62.6" y2="10.3" stroke="#333" stroke-width="1.0"/>
<line x1="73.2" y1="230.1" x2="73.2" y2="227.1" stroke="#333" stroke-width="1.0"/>
<line x1="73.2" y1="7.3" x2="73.2" y2="10.3" stroke="#333" stroke-width="1.0"/>
<line x1="83.8" y1="230.1" x2="83.8" y2="225.1" stroke="#333" stroke-width="1.0"/>
<line x1="83.8" y1="7.3" x2="83.8" y2="12.3" stroke="#333" stroke-width="1.0"/>
<line x1="94.3" y1="230.1" x2="94.3" y2="227.1" stroke="#333" stroke-width="1.0"/>
<line x1="94.3" y1="7.3" x2="94.3" y2="10.3" stroke="#333" stroke-width="1.0"/>
<line x1="104.9" y1="230.1" x2="104.9" y2="227.1" stroke="#333" stroke-width="1.0"/>
<line x1="104.9" y1="7.3" x2="104.9" y2="10.3" stroke="#333" stroke-width="1.0"/>
<line x1="115.5" y1="230.1" x2="115.5" y2="225.1" stroke="#333" stroke-width="1.0"/>
<line x1="115.5" y1="7.3" x2="115.5" y2="12.3" stroke="#333" stroke-width="1.0"/>
<line x1="126.1" y1="230.1" x2="126.1" y2="227.1" stroke="#333" stroke-width="1.0"/>
<line x1="126.1" y1="7.3" x2="126.1" y2="10.3" stroke="#333" stroke-width="1.0"/>
<line x1="136.6" y1="230.1" x2="136.6" y2="227.1" stroke="#333" stroke-width="1.0"/>
<line x1="136.6" y1="7.3" x2="136.6" y2="10.3" stroke="#333" stroke-width="1.0"/>
<line x1="147.2" y1="230.1" x2="147.2" y2="225.1" stroke="#333" stroke-width="1.0"/>
<line x1="147.2" y1="7.3" x2="147.2" y2="12.3" stroke="#333" stroke-width="1.0"/>
<line x1="157.8" y1="230.1" x2="157.8" y2="227.1" stroke="#333" stroke-width="1.0"/>
<line x1="157.8" y1="7.3" x2="157.8" y2="10.3" stroke="#333" stroke-width="1.0"/>
<text x="20.3" y="243.9" font-size="12.8" text-anchor="middle" >30</text>
<text x="52" y="243.9" font-size="12.8" text-anchor="middle" >35</text>
<text x="83.8" y="243.9" font-size="12.8" text-anchor="middle" >40</text>
<text x="115.5" y="243.9" font-size="12.8" text-anchor="middle" >45</text>
<text x="147.2" y="243.9" font-size="12.8" text-anchor="middle" >50</text>
<line x1="193.3" y1="230.1" x2="193.3" y2="225.1" stroke="#333" stroke-width="1.0"/>
<line x1="193.3" y1="7.3" x2="193.3" y2="12.3" stroke="#333" stroke-width="1.0"/>
<line x1="207.8" y1="230.1" x2="207.8" y2="227.1" stroke="#333" stroke-width="1.0"/>
<line x1="207.8" y1="7.3" x2="207.8" y2="10.3" stroke="#333" stroke-width="1.0"/>
<line x1="222.3" y1="230.1" x2="222.3" y2="227.1" stroke="#333" stroke-width="1.0"/>
<line x1="222.3" y1="7.3" x2="222.3" y2="10.3" stroke="#333" stroke-width="1.0"/>
<line x1="236.8" y1="230.1" x2="236.8" y2="225.1" stroke="#333" stroke-width="1.0"/>
<line x1="236.8" y1="7.3" x2="236.8" y2="12.3" stroke="#333" stroke-width="1.0"/>
<line x1="251.3" y1="230.1" x2="251.3" y2="227.1" stroke="#333" stroke-width="1.0"/>
<line x1="251.3" y1="7.3" x2="251.3" y2="10.3" stroke="#333" stroke-width="1.0"/>
<line x1="265.8" y1="230.1" x2="265.8" y2="227.1" stroke="#333" stroke-width="1.0"/>
<line x1="265.8" y1="7.3" x2="265.8" y2="10.3" stroke="#333" stroke-width="1.0"/>
<line x1="280.3" y1="230.1" x2="280.3" y2="225.1" stroke="#333" stroke-width="1.0"/>
<line x1="280.3" y1="7.3" x2="280.3" y2="12.3" stroke="#333" stroke-width="1.0"/>
<line x1="294.8" y1="230.1" x2="294.8" y2="227.1" stroke="#333" stroke-width="1.0"/>
<line x1="294.8" y1="7.3" x2="294.8" y2="10.3" stroke="#333" stroke-width="1.0"/>
<line x1="309.3" y1="230.1" x2="309.3" y2="227.1" stroke="#333" stroke-width="1.0"/>
<line x1="309.3" y1="7.3" x2="309.3" y2="10.3" stroke="#333" stroke-width="1.0"/>
<text x="193.3" y="243.9" font-size="12.8" text-anchor="middle" >170</text>
<text x="236.8" y="243.9" font-size="12.8" text-anchor="middle" >180</text>
<text x="280.3" y="243.9" font-size="12.8" text-anchor="middle" >190</text>
<text x="323.8" y="243.9" font-size="12.8" text-anchor="middle" >200</text>
<line x1="20.3" y1="222.7" x2="23.3" y2="222.7" stroke="#333" stroke-width="1.0"/>
<line x1="20.3" y1="215.3" x2="23.3" y2="215.3" stroke="#333" stroke-width="1.0"/>
<line x1="20.3" y1="207.8" x2="25.3" y2="207.8" stroke="#333" stroke-width="1.0"/>
<line x1="20.3" y1="200.4" x2="23.3" y2="200.4" stroke="#333" stroke-width="1.0"/>
<line x1="20.3" y1="193" x2="23.3" y2="193" stroke="#333" stroke-width="1.0"/>
<line x1="20.3" y1="185.6" x2="25.3" y2="185.6" stroke="#333" stroke-width="1.0"/>
<line x1="20.3" y1="178.2" x2="23.3" y2="178.2" stroke="#333" stroke-width="1.0"/>
<line x1="20.3" y1="170.8" x2="23.3" y2="170.8" stroke="#333" stroke-width="1.0"/>
<line x1="20.3" y1="163.3" x2="25.3" y2="163.3" stroke="#333" stroke-width="1.0"/>
<line x1="20.3" y1="155.9" x2="23.3" y2="155.9" stroke="#333" stroke-width="1.0"/>
<line x1="20.3" y1="148.5" x2="23.3" y2="148.5" stroke="#333" stroke-width="1.0"/>
<line x1="20.3" y1="141.1" x2="25.3" y2="141.1" stroke="#333" stroke-width="1.0"/>
<line x1="20.3" y1="133.7" x2="23.3" y2="133.7" stroke="#333" stroke-width="1.0"/>
<line x1="20.3" y1="126.3" x2="23.3" y2="126.3" stroke="#333" stroke-width="1.0"/>
<line x1="20.3" y1="118.8" x2="25.3" y2="118.8" stroke="#333" stroke-width="1.0"/>
<line x1="20.3" y1="111.4" x2="23.3" y2="111.4" stroke="#333" stroke-width="1.0"/>
<line x1="20.3" y1="104" x2="23.3" y2="104" stroke="#333" stroke-width="1.0"/>
<line x1="20.3" y1="96.6" x2="25.3" y2="96.6" stroke="#333" stroke-width="1.0"/>
<line x1="20.3" y1="89.2" x2="23.3" y2="89.2" stroke="#333" stroke-width="1.0"/>
<line x1="20.3" y1="81.8" x2="23.3" y2="81.8" stroke="#333" stroke-width="1.0"/>
<line x1="20.3" y1="74.3" x2="25.3" y2="74.3" stroke="#333" stroke-width="1.0"/>
<line x1="20.3" y1="66.9" x2="23.3" y2="66.9" stroke="#333" stroke-width="1.0"/>
<line x1="20.3" y1="59.5" x2="23.3" y2="59.5" stroke="#333" stroke-width="1.0"/>
<line x1="20.3" y1="52.1" x2="25.3" y2="52.1" stroke="#333" stroke-width="1.0"/>
<line x1="20.3" y1="44.7" x2="23.3" y2="44.7" stroke="#333" stroke-width="1.0"/>
<line x1="20.3" y1="37.3" x2="23.3" y2="37.3" stroke="#333" stroke-width="1.0"/>
<line x1="20.3" y1="29.8" x2="25.3" y2="29.8" stroke="#333" stroke-width="1.0"/>
<line x1="20.3" y1="22.4" x2="23.3" y2="22.4" stroke="#333" stroke-width="1.0"/>
<line x1="20.3" y1="15" x2="23.3" y2="15" stroke="#333" stroke-width="1.0"/>
<text x="41.8" y="214.1" font-size="12.8" text-anchor="end" >1</text>
<text x="41.8" y="191.8" font-size="12.8" text-anchor="end" >2</text>
<text x="41.8" y="169.6" font-size="12.8" text-anchor="end" >3</text>
<text x="41.8" y="147.3" font-size="12.8" text-anchor="end" >4</text>
<text x="41.8" y="125" font-size="12.8" text-anchor="end" >5</text>
<text x="41.8" y="102.8" font-size="12.8" text-anchor="end" >6</text>
<text x="41.8" y="80.5" font-size="12.8" text-anchor="end" >7</text>
<text x="41.8" y="58.3" font-size="12.8" text-anchor="end" >8</text>
<text x="41.8" y="36" font-size="12.8" text-anchor="end" >9</text>
<line x1="169" y1="185.5" x2="173.5" y2="185.5" stroke="#333" stroke-width="1.0"/>
<line x1="169" y1="141.1" x2="173.5" y2="141.1" stroke="#333" stroke-width="1.0"/>
<line x1="169" y1="96.8" x2="173.5" y2="96.8" stroke="#333" stroke-width="1.0"/>
<line x1="169" y1="52.4" x2="173.5" y2="52.4" stroke="#333" stroke-width="1.0"/>
<line x1="169" y1="8.1" x2="173.5" y2="8.1" stroke="#333" stroke-width="1.0"/>
<text x="179.5" y="189.4" font-size="12.8" text-anchor="start" >0.1</text>
<text x="179.5" y="145" font-size="12.8" text-anchor="start" >0.2</text>
<text x="179.5" y="100.7" font-size="12.8" text-anchor="start" >0.3</text>
<text x="179.5" y="56.3" font-size="12.8" text-anchor="start" >0.4</text>
<line x1="163" y1="11.3" x2="168" y2="3.3" stroke="#fff" stroke-width="3"/>
<line x1="164" y1="11.8" x2="170" y2="2.8" stroke="#444" stroke-width="0.9"/>
<line x1="168" y1="11.8" x2="174" y2="2.8" stroke="#444" stroke-width="0.9"/>
<line x1="163" y1="234.1" x2="168" y2="226.1" stroke="#fff" stroke-width="3"/>
<line x1="164" y1="234.6" x2="170" y2="225.6" stroke="#444" stroke-width="0.9"/>
<line x1="168" y1="234.6" x2="174" y2="225.6" stroke="#444" stroke-width="0.9"/>
<rect x="44.8" y="21.5" width="17.4" height="14.5" fill="#fff" stroke="#444" stroke-width="1.0"/>
<rect x="186.4" y="20.1" width="17.4" height="14.2" fill="#fff" stroke="#444" stroke-width="1.0"/>
<rect x="20.5" y="215.2" width="17.1" height="14.9" fill="#fff" stroke="#444" stroke-width="1.0"/>
<rect x="290.5" y="42.9" width="31.1" height="14.4" fill="#fff" stroke="#444" stroke-width="1.0"/>
<text x="52.4" y="32.3" font-size="12" text-anchor="middle" font-family='"Liberation Serif", serif'>A</text>
<text x="193.9" y="30.7" font-size="12" text-anchor="middle" font-family='"Liberation Serif", serif'>B</text>
<text x="24" y="226.6" font-size="15.5" text-anchor="start" font-family='"Liberation Serif", serif' style='stroke-width:0.1px'>a)</text>
<text x="306.2" y="54.7" font-size="14" text-anchor="middle" font-family='"Liberation Serif", serif' style='stroke-width:0.1px'>0.3 g</text>
<text x="131.5" y="258.5" font-size="13" text-anchor="start" >Frequency (Hz)</text>
<text transform="translate(12.8,128.8) rotate(-90)" font-size="13" text-anchor="middle">Power (&#956;W)</text>
<text transform="translate(163.3,129.5) rotate(-90)" font-size="13" text-anchor="middle">Power (&#956;W)</text>
<clipPath id="cAb"><rect x="355.6" y="7.5" width="151.9" height="222.8"/></clipPath>
<clipPath id="cBb"><rect x="507.5" y="7.5" width="151.7" height="222.8"/></clipPath>
<g clip-path="url(#cAb)">
<polyline points="355.6,229.1 356.1,229.1 356.6,229.1 357.1,229.1 357.6,229.1 358.1,229 358.6,229 359.1,229 359.6,229 360.1,229 360.6,229 361.1,228.9 361.6,228.9 362.1,228.9 362.6,228.9 363.1,228.9 363.6,228.8 364.1,228.8 364.6,228.8 365.1,228.8 365.6,228.8 366.1,228.7 366.6,228.7 367.1,228.7 367.6,228.7 368.1,228.6 368.6,228.6 369.1,228.6 369.6,228.6 370.1,228.5 370.6,228.5 371.1,228.5 371.6,228.4 372.1,228.4 372.6,228.4 373.1,228.4 373.6,228.3 374.1,228.3 374.6,228.3 375.1,228.2 375.6,228.2 376.1,228.1 376.6,228.1 377.1,228.1 377.6,228 378.1,228 378.6,227.9 379.1,227.9 379.6,227.9 380.1,227.8 380.6,227.8 381.1,227.7 381.6,227.7 382.1,227.6 382.6,227.6 383.1,227.5 383.6,227.4 384.1,227.4 384.6,227.3 385.1,227.3 385.6,227.2 386.1,227.1 386.6,227.1 387.1,227 387.6,226.9 388.1,226.8 388.6,226.8 389.1,226.7 389.6,226.6 390.1,226.5 390.6,226.4 391.1,226.3 391.6,226.2 392.1,226.1 392.6,226 393.1,225.9 393.6,225.8 394.1,225.6 394.6,225.5 395.1,225.4 395.6,225.2 396.1,225.1 396.6,224.9 397.1,224.8 397.6,224.6 398.1,224.4 398.6,224.2 399.1,224.1 399.6,223.9 400.1,223.6 400.6,223.4 401.1,223.2 401.6,222.9 402.1,222.7 402.6,222.4 403.1,222.1 403.6,221.8 404.1,221.5 404.6,221.2 405.1,220.8 405.6,220.4 406.1,220 406.6,219.6 407.1,219.1 407.6,218.6 408.1,218.1 408.6,217.5 409.1,216.9 409.6,216.3 410.1,215.6 410.6,214.9 411.1,214.1 411.6,213.2 412.1,212.3 412.6,211.3 413.1,210.2 413.6,209 414.1,207.7 414.6,206.3 415.1,204.7 415.6,203 416.1,201.2 416.6,199.1 417.1,196.9 417.6,194.4 418.1,191.6 418.6,188.5 419.1,185 419.6,181.2 420.1,176.8 420.6,172 421.1,166.5 421.6,160.4 422.1,153.5 422.6,145.7 423.1,137 423.6,127.2 424.1,116.5 424.6,104.7 425.1,92 425.6,78.8 426.1,65.4 426.6,52.5 427.1,41.2 427.6,32.4 428.1,27.2 428.4,26.3 428.6,26.8 429.1,31.3 429.6,39 430.1,48.8 430.6,59.8 431.1,71.3 431.6,82.9 432.1,94.1 432.6,104.7 433.1,114.7 433.6,123.8 434.1,132.2 434.6,139.8 435.1,146.7 435.6,153 436.1,158.7 436.6,163.8 437.1,168.5 437.6,172.7 438.1,176.5 438.6,180 439.1,183.2 439.6,186.1 440.1,188.7 440.6,191.1 441.1,193.3 441.6,195.4 442.1,197.3 442.6,199 443.1,200.6 443.6,202.1 444.1,203.5 444.6,204.7 445.1,205.9 445.6,207 446.1,208.1 446.6,209 447.1,209.9 447.6,210.8 448.1,211.6 448.6,212.3 449.1,213 449.6,213.7 450.1,214.3 450.6,214.9 451.1,215.4 451.6,216 452.1,216.5 452.6,216.9 453.1,217.4 453.6,217.8 454.1,218.2 454.6,218.6 455.1,219 455.6,219.3 456.1,219.6 456.6,220 457.1,220.3 457.6,220.5 458.1,220.8 458.6,221.1 459.1,221.3 459.6,221.6 460.1,221.8 460.6,222 461.1,222.2 461.6,222.4 462.1,222.6 462.6,222.8 463.1,223 463.6,223.2 464.1,223.4 464.6,223.5 465.1,223.7 465.6,223.8 466.1,224 466.6,224.1 467.1,224.3 467.6,224.4 468.1,224.5 468.6,224.6 469.1,224.8 469.6,224.9 470.1,225 470.6,225.1 471.1,225.2 471.6,225.3 472.1,225.4 472.6,225.5 473.1,225.6 473.6,225.7 474.1,225.8 474.6,225.8 475.1,225.9 475.6,226 476.1,226.1 476.6,226.1 477.1,226.2 477.6,226.3 478.1,226.4 478.6,226.4 479.1,226.5 479.6,226.6 480.1,226.6 480.6,226.7 481.1,226.7 481.6,226.8 482.1,226.8 482.6,226.9 483.1,227 483.6,227 484.1,227.1 484.6,227.1 485.1,227.2 485.6,227.2 486.1,227.2 486.6,227.3 487.1,227.3 487.6,227.4 488.1,227.4 488.6,227.5 489.1,227.5 489.6,227.5 490.1,227.6 490.6,227.6 491.1,227.7 491.6,227.7 492.1,227.7 492.6,227.8 493.1,227.8 493.6,227.8 494.1,227.9 494.6,227.9 495.1,227.9 495.6,227.9 496.1,228 496.6,228 497.1,228 497.6,228.1 498.1,228.1 498.6,228.1 499.1,228.1 499.6,228.2 500.1,228.2 500.6,228.2 501.1,228.2 501.6,228.3 502.1,228.3 502.6,228.3 503.1,228.3 503.6,228.4 504.1,228.4 504.6,228.4 505.1,228.4 505.6,228.4 506.1,228.5 506.6,228.5 507.1,228.5" fill="none" stroke="#333" stroke-width="0.9" stroke-linejoin="round" />
<polyline points="384.6,228.6 385.2,228.6 385.8,228.6 386.4,228.6 387,228.6 387.6,228.6 388.2,228.5 388.8,228.5 389.4,228.5 390,228.5 390.6,228.5 391.2,228.4 391.8,228.4 392.3,228.4 392.9,228.4 393.5,228.3 394.1,228.3 394.7,228.3 395.3,228.3 395.9,228.2 396.5,228.2 397.1,228.2 397.7,228.1 398.3,228.1 398.9,228.1 399.5,228 400.1,228 400.7,227.9 401.3,227.9 401.9,227.8 402.5,227.8 403.1,227.7 403.7,227.7 404.3,227.6 404.9,227.5 405.5,227.5 406.1,227.4 406.7,227.3 407.2,227.2 407.8,227.1 408.4,227 409,226.9 409.6,226.8 410.2,226.7 410.8,226.6 411.4,226.4 412,226.3 412.6,226.1 413.2,226 413.8,225.8 414.4,225.6 415,225.3 415.6,225.1 416.2,224.8 416.8,224.5 417.4,224.1 418,223.7 418.6,223.3 419.2,222.8 419.8,222.2 420.4,221.5 421,220.7 421.6,219.8 422.1,218.8 422.7,217.5 423.3,216 423.9,214.2 424.5,211.9 425.1,209.1 425.7,205.5 426.3,200.8 426.9,194.8 427.5,186.7 428.1,175.7 428.7,160.8 429.3,140.7 429.9,115 430.5,85.9 431.1,60.4 431.7,46.6 432.3,43.9 432.4,43.9 432.9,46.7 433.5,52.3 434.1,59 434.7,66.8 435.3,75.4 435.9,84.4 436.5,93.5 437,102.5 437.6,111.3 438.2,119.8 438.8,127.7 439.4,135.2 440,142.2 440.6,148.7 441.2,154.7 441.8,160.1 442.4,165.2 443,169.8 443.6,174 444.2,177.9 444.8,181.4 445.4,184.7 446,187.6 446.6,190.4 447.2,192.9 447.8,195.2 448.4,197.3 449,199.2 449.6,201 450.2,202.7 450.8,204.2 451.4,205.7 451.9,207 452.5,208.2 453.1,209.3 453.7,210.4 454.3,211.4 454.9,212.3 455.5,213.2 456.1,214 456.7,214.7 457.3,215.4 457.9,216.1 458.5,216.7 459.1,217.3 459.7,217.8 460.3,218.3 460.9,218.8 461.5,219.3 462.1,219.7 462.7,220.1 463.3,220.5 463.9,220.9 464.5,221.2 465.1,221.6 465.7,221.9 466.3,222.2 466.8,222.5 467.4,222.7 468,223 468.6,223.2 469.2,223.5 469.8,223.7 470.4,223.9 471,224.1 471.6,224.3 472.2,224.5 472.8,224.6 473.4,224.8 474,225 474.6,225.1 475.2,225.3 475.8,225.4 476.4,225.6 477,225.7 477.6,225.8 478.2,225.9 478.8,226.1 479.4,226.2 480,226.3 480.6,226.4 481.2,226.5 481.7,226.6 482.3,226.7 482.9,226.8 483.5,226.8 484.1,226.9 484.7,227 485.3,227.1 485.9,227.2 486.5,227.2 487.1,227.3 487.7,227.4 488.3,227.4 488.9,227.5 489.5,227.6 490.1,227.6 490.7,227.7 491.3,227.7 491.9,227.8 492.5,227.8 493.1,227.9 493.7,227.9 494.3,228 494.9,228 495.5,228.1 496.1,228.1 496.6,228.2 497.2,228.2 497.8,228.3 498.4,228.3 499,228.3 499.6,228.4 500.2,228.4 500.8,228.4 501.4,228.5 502,228.5 502.6,228.5 503.2,228.6 503.8,228.6 504.4,228.6 505,228.7 505.6,228.7 506.2,228.7 506.8,228.7 507.4,228.8" fill="none" stroke="#ff5050" stroke-width="1.0" stroke-linejoin="round" />
<g fill="#f00"><circle cx="384.6" cy="228.6" r="1.5"/><circle cx="385.2" cy="228.6" r="1.5"/><circle cx="385.8" cy="228.6" r="1.5"/><circle cx="386.4" cy="228.6" r="1.5"/><circle cx="387" cy="228.6" r="1.5"/><circle cx="387.6" cy="228.6" r="1.5"/><circle cx="388.2" cy="228.5" r="1.5"/><circle cx="388.8" cy="228.5" r="1.5"/><circle cx="389.4" cy="228.5" r="1.5"/><circle cx="390" cy="228.5" r="1.5"/><circle cx="390.6" cy="228.5" r="1.5"/><circle cx="391.2" cy="228.4" r="1.5"/><circle cx="391.8" cy="228.4" r="1.5"/><circle cx="392.3" cy="228.4" r="1.5"/><circle cx="392.9" cy="228.4" r="1.5"/><circle cx="393.5" cy="228.3" r="1.5"/><circle cx="394.1" cy="228.3" r="1.5"/><circle cx="394.7" cy="228.3" r="1.5"/><circle cx="395.3" cy="228.3" r="1.5"/><circle cx="395.9" cy="228.2" r="1.5"/><circle cx="396.5" cy="228.2" r="1.5"/><circle cx="397.1" cy="228.2" r="1.5"/><circle cx="397.7" cy="228.1" r="1.5"/><circle cx="398.3" cy="228.1" r="1.5"/><circle cx="398.9" cy="228.1" r="1.5"/><circle cx="399.5" cy="228" r="1.5"/><circle cx="400.1" cy="228" r="1.5"/><circle cx="400.7" cy="227.9" r="1.5"/><circle cx="401.3" cy="227.9" r="1.5"/><circle cx="401.9" cy="227.8" r="1.5"/><circle cx="402.5" cy="227.8" r="1.5"/><circle cx="403.1" cy="227.7" r="1.5"/><circle cx="403.7" cy="227.7" r="1.5"/><circle cx="404.3" cy="227.6" r="1.5"/><circle cx="404.9" cy="227.5" r="1.5"/><circle cx="405.5" cy="227.5" r="1.5"/><circle cx="406.1" cy="227.4" r="1.5"/><circle cx="406.7" cy="227.3" r="1.5"/><circle cx="407.2" cy="227.2" r="1.5"/><circle cx="407.8" cy="227.1" r="1.5"/><circle cx="408.4" cy="227" r="1.5"/><circle cx="409" cy="226.9" r="1.5"/><circle cx="409.6" cy="226.8" r="1.5"/><circle cx="410.2" cy="226.7" r="1.5"/><circle cx="410.8" cy="226.6" r="1.5"/><circle cx="411.4" cy="226.4" r="1.5"/><circle cx="412" cy="226.3" r="1.5"/><circle cx="412.6" cy="226.1" r="1.5"/><circle cx="413.2" cy="226" r="1.5"/><circle cx="413.8" cy="225.8" r="1.5"/><circle cx="414.4" cy="225.6" r="1.5"/><circle cx="415" cy="225.3" r="1.5"/><circle cx="415.6" cy="225.1" r="1.5"/><circle cx="416.2" cy="224.8" r="1.5"/><circle cx="416.8" cy="224.5" r="1.5"/><circle cx="417.4" cy="224.1" r="1.5"/><circle cx="418" cy="223.7" r="1.5"/><circle cx="418.6" cy="223.3" r="1.5"/><circle cx="419.2" cy="222.8" r="1.5"/><circle cx="419.8" cy="222.2" r="1.5"/><circle cx="420.4" cy="221.5" r="1.5"/><circle cx="421" cy="220.7" r="1.5"/><circle cx="421.6" cy="219.8" r="1.5"/><circle cx="422.1" cy="218.8" r="1.5"/><circle cx="422.7" cy="217.5" r="1.5"/><circle cx="423.3" cy="216" r="1.5"/><circle cx="423.9" cy="214.2" r="1.5"/><circle cx="424.5" cy="211.9" r="1.5"/><circle cx="425.1" cy="209.1" r="1.5"/><circle cx="425.7" cy="205.5" r="1.5"/><circle cx="426.3" cy="200.8" r="1.5"/><circle cx="426.9" cy="194.8" r="1.5"/><circle cx="427.5" cy="186.7" r="1.5"/><circle cx="428.1" cy="175.7" r="1.5"/><circle cx="428.7" cy="160.8" r="1.5"/><circle cx="429.3" cy="140.7" r="1.5"/><circle cx="429.9" cy="115" r="1.5"/><circle cx="430.5" cy="85.9" r="1.5"/><circle cx="431.1" cy="60.4" r="1.5"/><circle cx="431.7" cy="46.6" r="1.5"/><circle cx="432.3" cy="43.9" r="1.5"/><circle cx="432.4" cy="43.9" r="1.5"/><circle cx="432.9" cy="46.7" r="1.5"/><circle cx="433.5" cy="52.3" r="1.5"/><circle cx="434.1" cy="59" r="1.5"/><circle cx="434.7" cy="66.8" r="1.5"/><circle cx="435.3" cy="75.4" r="1.5"/><circle cx="435.9" cy="84.4" r="1.5"/><circle cx="436.5" cy="93.5" r="1.5"/><circle cx="437" cy="102.5" r="1.5"/><circle cx="437.6" cy="111.3" r="1.5"/><circle cx="438.2" cy="119.8" r="1.5"/><circle cx="438.8" cy="127.7" r="1.5"/><circle cx="439.4" cy="135.2" r="1.5"/><circle cx="440" cy="142.2" r="1.5"/><circle cx="440.6" cy="148.7" r="1.5"/><circle cx="441.2" cy="154.7" r="1.5"/><circle cx="441.8" cy="160.1" r="1.5"/><circle cx="442.4" cy="165.2" r="1.5"/><circle cx="443" cy="169.8" r="1.5"/><circle cx="443.6" cy="174" r="1.5"/><circle cx="444.2" cy="177.9" r="1.5"/><circle cx="444.8" cy="181.4" r="1.5"/><circle cx="445.4" cy="184.7" r="1.5"/><circle cx="446" cy="187.6" r="1.5"/><circle cx="446.6" cy="190.4" r="1.5"/><circle cx="447.2" cy="192.9" r="1.5"/><circle cx="447.8" cy="195.2" r="1.5"/><circle cx="448.4" cy="197.3" r="1.5"/><circle cx="449" cy="199.2" r="1.5"/><circle cx="449.6" cy="201" r="1.5"/><circle cx="450.2" cy="202.7" r="1.5"/><circle cx="450.8" cy="204.2" r="1.5"/><circle cx="451.4" cy="205.7" r="1.5"/><circle cx="451.9" cy="207" r="1.5"/><circle cx="452.5" cy="208.2" r="1.5"/><circle cx="453.1" cy="209.3" r="1.5"/><circle cx="453.7" cy="210.4" r="1.5"/><circle cx="454.3" cy="211.4" r="1.5"/><circle cx="454.9" cy="212.3" r="1.5"/><circle cx="455.5" cy="213.2" r="1.5"/><circle cx="456.1" cy="214" r="1.5"/><circle cx="456.7" cy="214.7" r="1.5"/><circle cx="457.3" cy="215.4" r="1.5"/><circle cx="457.9" cy="216.1" r="1.5"/><circle cx="458.5" cy="216.7" r="1.5"/><circle cx="459.1" cy="217.3" r="1.5"/><circle cx="459.7" cy="217.8" r="1.5"/><circle cx="460.3" cy="218.3" r="1.5"/><circle cx="460.9" cy="218.8" r="1.5"/><circle cx="461.5" cy="219.3" r="1.5"/><circle cx="462.1" cy="219.7" r="1.5"/><circle cx="462.7" cy="220.1" r="1.5"/><circle cx="463.3" cy="220.5" r="1.5"/><circle cx="463.9" cy="220.9" r="1.5"/><circle cx="464.5" cy="221.2" r="1.5"/><circle cx="465.1" cy="221.6" r="1.5"/><circle cx="465.7" cy="221.9" r="1.5"/><circle cx="466.3" cy="222.2" r="1.5"/><circle cx="466.8" cy="222.5" r="1.5"/><circle cx="467.4" cy="222.7" r="1.5"/><circle cx="468" cy="223" r="1.5"/><circle cx="468.6" cy="223.2" r="1.5"/><circle cx="469.2" cy="223.5" r="1.5"/><circle cx="469.8" cy="223.7" r="1.5"/><circle cx="470.4" cy="223.9" r="1.5"/><circle cx="471" cy="224.1" r="1.5"/><circle cx="471.6" cy="224.3" r="1.5"/><circle cx="472.2" cy="224.5" r="1.5"/><circle cx="472.8" cy="224.6" r="1.5"/><circle cx="473.4" cy="224.8" r="1.5"/><circle cx="474" cy="225" r="1.5"/><circle cx="474.6" cy="225.1" r="1.5"/><circle cx="475.2" cy="225.3" r="1.5"/><circle cx="475.8" cy="225.4" r="1.5"/><circle cx="476.4" cy="225.6" r="1.5"/><circle cx="477" cy="225.7" r="1.5"/><circle cx="477.6" cy="225.8" r="1.5"/><circle cx="478.2" cy="225.9" r="1.5"/><circle cx="478.8" cy="226.1" r="1.5"/><circle cx="479.4" cy="226.2" r="1.5"/><circle cx="480" cy="226.3" r="1.5"/><circle cx="480.6" cy="226.4" r="1.5"/><circle cx="481.2" cy="226.5" r="1.5"/><circle cx="481.7" cy="226.6" r="1.5"/><circle cx="482.3" cy="226.7" r="1.5"/><circle cx="482.9" cy="226.8" r="1.5"/><circle cx="483.5" cy="226.8" r="1.5"/><circle cx="484.1" cy="226.9" r="1.5"/><circle cx="484.7" cy="227" r="1.5"/><circle cx="485.3" cy="227.1" r="1.5"/><circle cx="485.9" cy="227.2" r="1.5"/><circle cx="486.5" cy="227.2" r="1.5"/><circle cx="487.1" cy="227.3" r="1.5"/><circle cx="487.7" cy="227.4" r="1.5"/><circle cx="488.3" cy="227.4" r="1.5"/><circle cx="488.9" cy="227.5" r="1.5"/><circle cx="489.5" cy="227.6" r="1.5"/><circle cx="490.1" cy="227.6" r="1.5"/><circle cx="490.7" cy="227.7" r="1.5"/><circle cx="491.3" cy="227.7" r="1.5"/><circle cx="491.9" cy="227.8" r="1.5"/><circle cx="492.5" cy="227.8" r="1.5"/><circle cx="493.1" cy="227.9" r="1.5"/><circle cx="493.7" cy="227.9" r="1.5"/><circle cx="494.3" cy="228" r="1.5"/><circle cx="494.9" cy="228" r="1.5"/><circle cx="495.5" cy="228.1" r="1.5"/><circle cx="496.1" cy="228.1" r="1.5"/><circle cx="496.6" cy="228.2" r="1.5"/><circle cx="497.2" cy="228.2" r="1.5"/><circle cx="497.8" cy="228.3" r="1.5"/><circle cx="498.4" cy="228.3" r="1.5"/><circle cx="499" cy="228.3" r="1.5"/><circle cx="499.6" cy="228.4" r="1.5"/><circle cx="500.2" cy="228.4" r="1.5"/><circle cx="500.8" cy="228.4" r="1.5"/><circle cx="501.4" cy="228.5" r="1.5"/><circle cx="502" cy="228.5" r="1.5"/><circle cx="502.6" cy="228.5" r="1.5"/><circle cx="503.2" cy="228.6" r="1.5"/><circle cx="503.8" cy="228.6" r="1.5"/><circle cx="504.4" cy="228.6" r="1.5"/><circle cx="505" cy="228.7" r="1.5"/><circle cx="505.6" cy="228.7" r="1.5"/><circle cx="506.2" cy="228.7" r="1.5"/><circle cx="506.8" cy="228.7" r="1.5"/><circle cx="507.4" cy="228.8" r="1.5"/></g>
</g>
<g clip-path="url(#cBb)">
<polyline points="569.3,218.9 569.8,218.6 570.3,218.4 570.8,218.1 571.3,217.8 571.8,217.5 572.3,217.2 572.8,216.9 573.3,216.6 573.8,216.2 574.3,215.9 574.8,215.5 575.3,215.1 575.8,214.7 576.3,214.3 576.8,213.9 577.3,213.5 577.8,213 578.3,212.6 578.8,212.1 579.3,211.5 579.8,211 580.3,210.5 580.8,209.9 581.3,209.3 581.8,208.7 582.3,208 582.8,207.3 583.3,206.6 583.8,205.9 584.3,205.1 584.8,204.3 585.3,203.5 585.8,202.6 586.3,201.6 586.8,200.7 587.3,199.7 587.8,198.6 588.3,197.5 588.8,196.3 589.3,195.1 589.8,193.8 590.3,192.5 590.8,191 591.3,189.5 591.8,188 592.3,186.3 592.8,184.6 593.3,182.8 593.8,180.9 594.3,178.8 594.8,176.7 595.3,174.5 595.8,172.1 596.3,169.7 596.8,167.1 597.3,164.3 597.8,161.5 598.3,158.5 598.8,155.3 599.3,152 599.8,148.5 600.3,144.9 600.8,141.2 601.3,137.3 601.8,133.3 602.3,129.1 602.8,124.8 603.3,120.4 603.8,115.9 604.3,111.4 604.8,106.9 605.3,102.4 605.8,97.9 606.3,93.5 606.8,89.3 607.3,85.3 607.8,81.6 608.3,78.3 608.8,75.3 609.3,72.8 609.8,70.8 610.3,69.3 610.8,68.4 611.3,68.1 611.3,68.1 611.8,68.4 612.3,69.3 612.8,70.8 613.3,72.8 613.8,75.3 614.3,78.3 614.8,81.6 615.3,85.3 615.8,89.3 616.3,93.5 616.8,97.9 617.3,102.4 617.8,106.9 618.3,111.4 618.8,115.9 619.3,120.4 619.8,124.8 620.3,129.1 620.8,133.3 621.3,137.3 621.8,141.2 622.3,144.9 622.8,148.5 623.3,152 623.8,155.3 624.3,158.5 624.8,161.5 625.3,164.3 625.8,167.1 626.3,169.7 626.8,172.1 627.3,174.5 627.8,176.7 628.3,178.8 628.8,180.9 629.3,182.8 629.8,184.6 630.3,186.3 630.8,188 631.3,189.5 631.8,191 632.3,192.5 632.8,193.8 633.3,195.1 633.8,196.3 634.3,197.5 634.8,198.6 635.3,199.7 635.8,200.7 636.3,201.6 636.8,202.6 637.3,203.5 637.8,204.3 638.3,205.1 638.8,205.9 639.3,206.6 639.8,207.3 640.3,208 640.8,208.7 641.3,209.3 641.8,209.9 642.3,210.5 642.8,211 643.3,211.5 643.8,212.1 644.3,212.6 644.8,213 645.3,213.5 645.8,213.9 646.3,214.3 646.8,214.7 647.3,215.1 647.8,215.5 648.3,215.9 648.8,216.2 649.3,216.6 649.8,216.9 650.3,217.2 650.8,217.5 651.3,217.8 651.8,218.1 652.3,218.4 652.8,218.6 653.3,218.9 653.8,219.1 654.3,219.4" fill="none" stroke="#333" stroke-width="0.9" stroke-linejoin="round" />
<polyline points="507.5,227.7 508,227.7 508.4,227.6 508.9,227.6 509.3,227.6 509.8,227.6 510.3,227.5 510.7,227.5 511.2,227.5 511.6,227.4 512.1,227.4 512.6,227.4 513,227.4 513.5,227.3 513.9,227.3 514.4,227.3 514.9,227.2 515.3,227.2 515.8,227.2 516.2,227.1 516.7,227.1 517.2,227 517.6,227 518.1,227 518.5,226.9 519,226.9 519.5,226.9 519.9,226.8 520.4,226.8 520.8,226.7 521.3,226.7 521.8,226.6 522.2,226.6 522.7,226.5 523.1,226.5 523.6,226.5 524.1,226.4 524.5,226.4 525,226.3 525.4,226.2 525.9,226.2 526.4,226.1 526.8,226.1 527.3,226 527.7,226 528.2,225.9 528.7,225.9 529.1,225.8 529.6,225.7 530,225.7 530.5,225.6 531,225.5 531.4,225.5 531.9,225.4 532.3,225.3 532.8,225.2 533.3,225.2 533.7,225.1 534.2,225 534.6,224.9 535.1,224.8 535.6,224.7 536,224.7 536.5,224.6 536.9,224.5 537.4,224.4 537.9,224.3 538.3,224.2 538.8,224.1 539.2,224 539.7,223.8 540.2,223.7 540.6,223.6 541.1,223.5 541.5,223.4 542,223.2 542.5,223.1 542.9,223 543.4,222.8 543.8,222.7 544.3,222.5 544.8,222.3 545.2,222.2 545.7,222 546.1,221.8 546.6,221.6 547.1,221.4 547.5,221.2 548,220.9 548.4,220.7 548.9,220.5 549.4,220.2 549.8,219.9 550.3,219.7 550.7,219.4 551.2,219 551.7,218.7 552.1,218.4 552.6,218 553,217.6 553.5,217.2 554,216.8 554.4,216.4 554.9,215.9 555.3,215.4 555.8,214.9 556.3,214.3 556.7,213.7 557.2,213.1 557.6,212.4 558.1,211.7 558.6,210.9 559,210.1 559.5,209.2 559.9,208.3 560.4,207.3 560.9,206.2 561.3,205.1 561.8,203.9 562.2,202.6 562.7,201.1 563.2,199.6 563.6,198 564.1,196.2 564.5,194.3 565,192.2 565.5,190 565.9,187.6 566.4,185 566.8,182.2 567.3,179.2 567.8,176 568.2,172.5 568.7,168.8 569.1,164.8 569.6,160.6 570.1,156.1 570.5,151.4 571,146.5 571.4,141.4 571.9,136.3 572.4,131.1 572.8,126 573.3,121 573.7,116.3 574.2,111.9 574.7,108 575.1,104.5 575.6,101.7 576,99.4 576.5,97.8 577,96.9 577.4,96.6 577.4,96.6 577.9,97.2 578.3,98.3 578.8,99.7 579.3,101.5 579.7,103.5 580.2,105.6 580.6,107.9 581.1,110.3 581.6,112.8 582,115.5 582.5,118.4 582.9,121.4 583.4,124.5 583.9,127.7 584.3,130.9 584.8,134.2 585.2,137.5 585.7,140.8 586.2,144.1 586.6,147.3 587.1,150.5 587.5,153.6 588,156.6 588.5,159.5 588.9,162.4 589.4,165.1 589.8,167.7 590.3,170.3 590.8,172.7 591.2,175.1 591.7,177.3 592.1,179.5 592.6,181.5 593.1,183.5 593.5,185.4 594,187.1 594.4,188.8 594.9,190.5 595.4,192 595.8,193.5 596.3,194.9 596.7,196.2 597.2,197.5 597.7,198.7 598.1,199.9 598.6,201 599,202 599.5,203 600,204 600.4,204.9 600.9,205.7 601.3,206.6 601.8,207.4 602.3,208.1 602.7,208.8 603.2,209.5 603.6,210.2 604.1,210.8 604.6,211.4 605,212 605.5,212.5 605.9,213.1 606.4,213.6 606.9,214.1 607.3,214.5 607.8,215 608.2,215.4 608.7,215.8 609.2,216.2 609.6,216.6 610.1,217 610.5,217.3 611,217.7 611.5,218 611.9,218.3 612.4,218.6 612.8,218.9 613.3,219.2 613.8,219.4 614.2,219.7 614.7,220 615.1,220.2 615.6,220.4 616.1,220.7 616.5,220.9 617,221.1 617.4,221.3 617.9,221.5 618.4,221.7 618.8,221.9 619.3,222.1 619.7,222.2 620.2,222.4 620.7,222.6 621.1,222.7 621.6,222.9 622,223 622.5,223.2 623,223.3 623.4,223.4 623.9,223.6 624.3,223.7 624.8,223.8 625.3,223.9 625.7,224.1 626.2,224.2 626.6,224.3 627.1,224.4 627.6,224.5 628,224.6 628.5,224.7 628.9,224.8 629.4,224.9 629.9,225 630.3,225.1 630.8,225.2 631.2,225.2 631.7,225.3 632.2,225.4 632.6,225.5 633.1,225.6 633.5,225.6 634,225.7 634.5,225.8 634.9,225.8 635.4,225.9 635.8,226 636.3,226 636.8,226.1" fill="none" stroke="#ff5050" stroke-width="0.6" stroke-linejoin="round" />
<g fill="#f00"><circle cx="507.5" cy="227.7" r="1.5"/><circle cx="508" cy="227.7" r="1.5"/><circle cx="508.4" cy="227.6" r="1.5"/><circle cx="508.9" cy="227.6" r="1.5"/><circle cx="509.3" cy="227.6" r="1.5"/><circle cx="509.8" cy="227.6" r="1.5"/><circle cx="510.3" cy="227.5" r="1.5"/><circle cx="510.7" cy="227.5" r="1.5"/><circle cx="511.2" cy="227.5" r="1.5"/><circle cx="511.6" cy="227.4" r="1.5"/><circle cx="512.1" cy="227.4" r="1.5"/><circle cx="512.6" cy="227.4" r="1.5"/><circle cx="513" cy="227.4" r="1.5"/><circle cx="513.5" cy="227.3" r="1.5"/><circle cx="513.9" cy="227.3" r="1.5"/><circle cx="514.4" cy="227.3" r="1.5"/><circle cx="514.9" cy="227.2" r="1.5"/><circle cx="515.3" cy="227.2" r="1.5"/><circle cx="515.8" cy="227.2" r="1.5"/><circle cx="516.2" cy="227.1" r="1.5"/><circle cx="516.7" cy="227.1" r="1.5"/><circle cx="517.2" cy="227" r="1.5"/><circle cx="517.6" cy="227" r="1.5"/><circle cx="518.1" cy="227" r="1.5"/><circle cx="518.5" cy="226.9" r="1.5"/><circle cx="519" cy="226.9" r="1.5"/><circle cx="519.5" cy="226.9" r="1.5"/><circle cx="519.9" cy="226.8" r="1.5"/><circle cx="520.4" cy="226.8" r="1.5"/><circle cx="520.8" cy="226.7" r="1.5"/><circle cx="521.3" cy="226.7" r="1.5"/><circle cx="521.8" cy="226.6" r="1.5"/><circle cx="522.2" cy="226.6" r="1.5"/><circle cx="522.7" cy="226.5" r="1.5"/><circle cx="523.1" cy="226.5" r="1.5"/><circle cx="523.6" cy="226.5" r="1.5"/><circle cx="524.1" cy="226.4" r="1.5"/><circle cx="524.5" cy="226.4" r="1.5"/><circle cx="525" cy="226.3" r="1.5"/><circle cx="525.4" cy="226.2" r="1.5"/><circle cx="525.9" cy="226.2" r="1.5"/><circle cx="526.4" cy="226.1" r="1.5"/><circle cx="526.8" cy="226.1" r="1.5"/><circle cx="527.3" cy="226" r="1.5"/><circle cx="527.7" cy="226" r="1.5"/><circle cx="528.2" cy="225.9" r="1.5"/><circle cx="528.7" cy="225.9" r="1.5"/><circle cx="529.1" cy="225.8" r="1.5"/><circle cx="529.6" cy="225.7" r="1.5"/><circle cx="530" cy="225.7" r="1.5"/><circle cx="530.5" cy="225.6" r="1.5"/><circle cx="531" cy="225.5" r="1.5"/><circle cx="531.4" cy="225.5" r="1.5"/><circle cx="531.9" cy="225.4" r="1.5"/><circle cx="532.3" cy="225.3" r="1.5"/><circle cx="532.8" cy="225.2" r="1.5"/><circle cx="533.3" cy="225.2" r="1.5"/><circle cx="533.7" cy="225.1" r="1.5"/><circle cx="534.2" cy="225" r="1.5"/><circle cx="534.6" cy="224.9" r="1.5"/><circle cx="535.1" cy="224.8" r="1.5"/><circle cx="535.6" cy="224.7" r="1.5"/><circle cx="536" cy="224.7" r="1.5"/><circle cx="536.5" cy="224.6" r="1.5"/><circle cx="536.9" cy="224.5" r="1.5"/><circle cx="537.4" cy="224.4" r="1.5"/><circle cx="537.9" cy="224.3" r="1.5"/><circle cx="538.3" cy="224.2" r="1.5"/><circle cx="538.8" cy="224.1" r="1.5"/><circle cx="539.2" cy="224" r="1.5"/><circle cx="539.7" cy="223.8" r="1.5"/><circle cx="540.2" cy="223.7" r="1.5"/><circle cx="540.6" cy="223.6" r="1.5"/><circle cx="541.1" cy="223.5" r="1.5"/><circle cx="541.5" cy="223.4" r="1.5"/><circle cx="542" cy="223.2" r="1.5"/><circle cx="542.5" cy="223.1" r="1.5"/><circle cx="542.9" cy="223" r="1.5"/><circle cx="543.4" cy="222.8" r="1.5"/><circle cx="543.8" cy="222.7" r="1.5"/><circle cx="544.3" cy="222.5" r="1.5"/><circle cx="544.8" cy="222.3" r="1.5"/><circle cx="545.2" cy="222.2" r="1.5"/><circle cx="545.7" cy="222" r="1.5"/><circle cx="546.1" cy="221.8" r="1.5"/><circle cx="546.6" cy="221.6" r="1.5"/><circle cx="547.1" cy="221.4" r="1.5"/><circle cx="547.5" cy="221.2" r="1.5"/><circle cx="548" cy="220.9" r="1.5"/><circle cx="548.4" cy="220.7" r="1.5"/><circle cx="548.9" cy="220.5" r="1.5"/><circle cx="549.4" cy="220.2" r="1.5"/><circle cx="549.8" cy="219.9" r="1.5"/><circle cx="550.3" cy="219.7" r="1.5"/><circle cx="550.7" cy="219.4" r="1.5"/><circle cx="551.2" cy="219" r="1.5"/><circle cx="551.7" cy="218.7" r="1.5"/><circle cx="552.1" cy="218.4" r="1.5"/><circle cx="552.6" cy="218" r="1.5"/><circle cx="553" cy="217.6" r="1.5"/><circle cx="553.5" cy="217.2" r="1.5"/><circle cx="554" cy="216.8" r="1.5"/><circle cx="554.4" cy="216.4" r="1.5"/><circle cx="554.9" cy="215.9" r="1.5"/><circle cx="555.3" cy="215.4" r="1.5"/><circle cx="555.8" cy="214.9" r="1.5"/><circle cx="556.3" cy="214.3" r="1.5"/><circle cx="556.7" cy="213.7" r="1.5"/><circle cx="557.2" cy="213.1" r="1.5"/><circle cx="557.6" cy="212.4" r="1.5"/><circle cx="558.1" cy="211.7" r="1.5"/><circle cx="558.6" cy="210.9" r="1.5"/><circle cx="559" cy="210.1" r="1.5"/><circle cx="559.5" cy="209.2" r="1.5"/><circle cx="559.9" cy="208.3" r="1.5"/><circle cx="560.4" cy="207.3" r="1.5"/><circle cx="560.9" cy="206.2" r="1.5"/><circle cx="561.3" cy="205.1" r="1.5"/><circle cx="561.8" cy="203.9" r="1.5"/><circle cx="562.2" cy="202.6" r="1.5"/><circle cx="562.7" cy="201.1" r="1.5"/><circle cx="563.2" cy="199.6" r="1.5"/><circle cx="563.6" cy="198" r="1.5"/><circle cx="564.1" cy="196.2" r="1.5"/><circle cx="564.5" cy="194.3" r="1.5"/><circle cx="565" cy="192.2" r="1.5"/><circle cx="565.5" cy="190" r="1.5"/><circle cx="565.9" cy="187.6" r="1.5"/><circle cx="566.4" cy="185" r="1.5"/><circle cx="566.8" cy="182.2" r="1.5"/><circle cx="567.3" cy="179.2" r="1.5"/><circle cx="567.8" cy="176" r="1.5"/><circle cx="568.2" cy="172.5" r="1.5"/><circle cx="568.7" cy="168.8" r="1.5"/><circle cx="569.1" cy="164.8" r="1.5"/><circle cx="569.6" cy="160.6" r="1.5"/><circle cx="570.1" cy="156.1" r="1.5"/><circle cx="570.5" cy="151.4" r="1.5"/><circle cx="571" cy="146.5" r="1.5"/><circle cx="571.4" cy="141.4" r="1.5"/><circle cx="571.9" cy="136.3" r="1.5"/><circle cx="572.4" cy="131.1" r="1.5"/><circle cx="572.8" cy="126" r="1.5"/><circle cx="573.3" cy="121" r="1.5"/><circle cx="573.7" cy="116.3" r="1.5"/><circle cx="574.2" cy="111.9" r="1.5"/><circle cx="574.7" cy="108" r="1.5"/><circle cx="575.1" cy="104.5" r="1.5"/><circle cx="575.6" cy="101.7" r="1.5"/><circle cx="576" cy="99.4" r="1.5"/><circle cx="576.5" cy="97.8" r="1.5"/><circle cx="577" cy="96.9" r="1.5"/><circle cx="577.4" cy="96.6" r="1.5"/><circle cx="577.4" cy="96.6" r="1.5"/><circle cx="577.9" cy="97.2" r="1.5"/><circle cx="578.3" cy="98.3" r="1.5"/><circle cx="578.8" cy="99.7" r="1.5"/><circle cx="579.3" cy="101.5" r="1.5"/><circle cx="579.7" cy="103.5" r="1.5"/><circle cx="580.2" cy="105.6" r="1.5"/><circle cx="580.6" cy="107.9" r="1.5"/><circle cx="581.1" cy="110.3" r="1.5"/><circle cx="581.6" cy="112.8" r="1.5"/><circle cx="582" cy="115.5" r="1.5"/><circle cx="582.5" cy="118.4" r="1.5"/><circle cx="582.9" cy="121.4" r="1.5"/><circle cx="583.4" cy="124.5" r="1.5"/><circle cx="583.9" cy="127.7" r="1.5"/><circle cx="584.3" cy="130.9" r="1.5"/><circle cx="584.8" cy="134.2" r="1.5"/><circle cx="585.2" cy="137.5" r="1.5"/><circle cx="585.7" cy="140.8" r="1.5"/><circle cx="586.2" cy="144.1" r="1.5"/><circle cx="586.6" cy="147.3" r="1.5"/><circle cx="587.1" cy="150.5" r="1.5"/><circle cx="587.5" cy="153.6" r="1.5"/><circle cx="588" cy="156.6" r="1.5"/><circle cx="588.5" cy="159.5" r="1.5"/><circle cx="588.9" cy="162.4" r="1.5"/><circle cx="589.4" cy="165.1" r="1.5"/><circle cx="589.8" cy="167.7" r="1.5"/><circle cx="590.3" cy="170.3" r="1.5"/><circle cx="590.8" cy="172.7" r="1.5"/><circle cx="591.2" cy="175.1" r="1.5"/><circle cx="591.7" cy="177.3" r="1.5"/><circle cx="592.1" cy="179.5" r="1.5"/><circle cx="592.6" cy="181.5" r="1.5"/><circle cx="593.1" cy="183.5" r="1.5"/><circle cx="593.5" cy="185.4" r="1.5"/><circle cx="594" cy="187.1" r="1.5"/><circle cx="594.4" cy="188.8" r="1.5"/><circle cx="594.9" cy="190.5" r="1.5"/><circle cx="595.4" cy="192" r="1.5"/><circle cx="595.8" cy="193.5" r="1.5"/><circle cx="596.3" cy="194.9" r="1.5"/><circle cx="596.7" cy="196.2" r="1.5"/><circle cx="597.2" cy="197.5" r="1.5"/><circle cx="597.7" cy="198.7" r="1.5"/><circle cx="598.1" cy="199.9" r="1.5"/><circle cx="598.6" cy="201" r="1.5"/><circle cx="599" cy="202" r="1.5"/><circle cx="599.5" cy="203" r="1.5"/><circle cx="600" cy="204" r="1.5"/><circle cx="600.4" cy="204.9" r="1.5"/><circle cx="600.9" cy="205.7" r="1.5"/><circle cx="601.3" cy="206.6" r="1.5"/><circle cx="601.8" cy="207.4" r="1.5"/><circle cx="602.3" cy="208.1" r="1.5"/><circle cx="602.7" cy="208.8" r="1.5"/><circle cx="603.2" cy="209.5" r="1.5"/><circle cx="603.6" cy="210.2" r="1.5"/><circle cx="604.1" cy="210.8" r="1.5"/><circle cx="604.6" cy="211.4" r="1.5"/><circle cx="605" cy="212" r="1.5"/><circle cx="605.5" cy="212.5" r="1.5"/><circle cx="605.9" cy="213.1" r="1.5"/><circle cx="606.4" cy="213.6" r="1.5"/><circle cx="606.9" cy="214.1" r="1.5"/><circle cx="607.3" cy="214.5" r="1.5"/><circle cx="607.8" cy="215" r="1.5"/><circle cx="608.2" cy="215.4" r="1.5"/><circle cx="608.7" cy="215.8" r="1.5"/><circle cx="609.2" cy="216.2" r="1.5"/><circle cx="609.6" cy="216.6" r="1.5"/><circle cx="610.1" cy="217" r="1.5"/><circle cx="610.5" cy="217.3" r="1.5"/><circle cx="611" cy="217.7" r="1.5"/><circle cx="611.5" cy="218" r="1.5"/><circle cx="611.9" cy="218.3" r="1.5"/><circle cx="612.4" cy="218.6" r="1.5"/><circle cx="612.8" cy="218.9" r="1.5"/><circle cx="613.3" cy="219.2" r="1.5"/><circle cx="613.8" cy="219.4" r="1.5"/><circle cx="614.2" cy="219.7" r="1.5"/><circle cx="614.7" cy="220" r="1.5"/><circle cx="615.1" cy="220.2" r="1.5"/><circle cx="615.6" cy="220.4" r="1.5"/><circle cx="616.1" cy="220.7" r="1.5"/><circle cx="616.5" cy="220.9" r="1.5"/><circle cx="617" cy="221.1" r="1.5"/><circle cx="617.4" cy="221.3" r="1.5"/><circle cx="617.9" cy="221.5" r="1.5"/><circle cx="618.4" cy="221.7" r="1.5"/><circle cx="618.8" cy="221.9" r="1.5"/><circle cx="619.3" cy="222.1" r="1.5"/><circle cx="619.7" cy="222.2" r="1.5"/><circle cx="620.2" cy="222.4" r="1.5"/><circle cx="620.7" cy="222.6" r="1.5"/><circle cx="621.1" cy="222.7" r="1.5"/><circle cx="621.6" cy="222.9" r="1.5"/><circle cx="622" cy="223" r="1.5"/><circle cx="622.5" cy="223.2" r="1.5"/><circle cx="623" cy="223.3" r="1.5"/><circle cx="623.4" cy="223.4" r="1.5"/><circle cx="623.9" cy="223.6" r="1.5"/><circle cx="624.3" cy="223.7" r="1.5"/><circle cx="624.8" cy="223.8" r="1.5"/><circle cx="625.3" cy="223.9" r="1.5"/><circle cx="625.7" cy="224.1" r="1.5"/><circle cx="626.2" cy="224.2" r="1.5"/><circle cx="626.6" cy="224.3" r="1.5"/><circle cx="627.1" cy="224.4" r="1.5"/><circle cx="627.6" cy="224.5" r="1.5"/><circle cx="628" cy="224.6" r="1.5"/><circle cx="628.5" cy="224.7" r="1.5"/><circle cx="628.9" cy="224.8" r="1.5"/><circle cx="629.4" cy="224.9" r="1.5"/><circle cx="629.9" cy="225" r="1.5"/><circle cx="630.3" cy="225.1" r="1.5"/><circle cx="630.8" cy="225.2" r="1.5"/><circle cx="631.2" cy="225.2" r="1.5"/><circle cx="631.7" cy="225.3" r="1.5"/><circle cx="632.2" cy="225.4" r="1.5"/><circle cx="632.6" cy="225.5" r="1.5"/><circle cx="633.1" cy="225.6" r="1.5"/><circle cx="633.5" cy="225.6" r="1.5"/><circle cx="634" cy="225.7" r="1.5"/><circle cx="634.5" cy="225.8" r="1.5"/><circle cx="634.9" cy="225.8" r="1.5"/><circle cx="635.4" cy="225.9" r="1.5"/><circle cx="635.8" cy="226" r="1.5"/><circle cx="636.3" cy="226" r="1.5"/><circle cx="636.8" cy="226.1" r="1.5"/></g>
</g>
<line x1="355.6" y1="7.5" x2="659.2" y2="7.5" stroke="#333" stroke-width="1.2"/>
<line x1="355.6" y1="230.3" x2="659.2" y2="230.3" stroke="#333" stroke-width="1.2"/>
<line x1="355.6" y1="6.9" x2="355.6" y2="230.9" stroke="#333" stroke-width="1.2"/>
<line x1="507.5" y1="7.5" x2="507.5" y2="230.3" stroke="#666" stroke-width="1.1"/>
<line x1="659.2" y1="6.9" x2="659.2" y2="230.9" stroke="#777" stroke-width="1.3"/>
<line x1="364.7" y1="230.3" x2="364.7" y2="227.3" stroke="#333" stroke-width="1.0"/>
<line x1="364.7" y1="7.5" x2="364.7" y2="10.5" stroke="#333" stroke-width="1.0"/>
<line x1="374.7" y1="230.3" x2="374.7" y2="227.3" stroke="#333" stroke-width="1.0"/>
<line x1="374.7" y1="7.5" x2="374.7" y2="10.5" stroke="#333" stroke-width="1.0"/>
<line x1="384.6" y1="230.3" x2="384.6" y2="225.3" stroke="#333" stroke-width="1.0"/>
<line x1="384.6" y1="7.5" x2="384.6" y2="12.5" stroke="#333" stroke-width="1.0"/>
<line x1="394.5" y1="230.3" x2="394.5" y2="227.3" stroke="#333" stroke-width="1.0"/>
<line x1="394.5" y1="7.5" x2="394.5" y2="10.5" stroke="#333" stroke-width="1.0"/>
<line x1="404.5" y1="230.3" x2="404.5" y2="227.3" stroke="#333" stroke-width="1.0"/>
<line x1="404.5" y1="7.5" x2="404.5" y2="10.5" stroke="#333" stroke-width="1.0"/>
<line x1="414.4" y1="230.3" x2="414.4" y2="225.3" stroke="#333" stroke-width="1.0"/>
<line x1="414.4" y1="7.5" x2="414.4" y2="12.5" stroke="#333" stroke-width="1.0"/>
<line x1="424.3" y1="230.3" x2="424.3" y2="227.3" stroke="#333" stroke-width="1.0"/>
<line x1="424.3" y1="7.5" x2="424.3" y2="10.5" stroke="#333" stroke-width="1.0"/>
<line x1="434.3" y1="230.3" x2="434.3" y2="227.3" stroke="#333" stroke-width="1.0"/>
<line x1="434.3" y1="7.5" x2="434.3" y2="10.5" stroke="#333" stroke-width="1.0"/>
<line x1="444.2" y1="230.3" x2="444.2" y2="225.3" stroke="#333" stroke-width="1.0"/>
<line x1="444.2" y1="7.5" x2="444.2" y2="12.5" stroke="#333" stroke-width="1.0"/>
<line x1="454.1" y1="230.3" x2="454.1" y2="227.3" stroke="#333" stroke-width="1.0"/>
<line x1="454.1" y1="7.5" x2="454.1" y2="10.5" stroke="#333" stroke-width="1.0"/>
<line x1="464.1" y1="230.3" x2="464.1" y2="227.3" stroke="#333" stroke-width="1.0"/>
<line x1="464.1" y1="7.5" x2="464.1" y2="10.5" stroke="#333" stroke-width="1.0"/>
<line x1="474" y1="230.3" x2="474" y2="225.3" stroke="#333" stroke-width="1.0"/>
<line x1="474" y1="7.5" x2="474" y2="12.5" stroke="#333" stroke-width="1.0"/>
<line x1="483.9" y1="230.3" x2="483.9" y2="227.3" stroke="#333" stroke-width="1.0"/>
<line x1="483.9" y1="7.5" x2="483.9" y2="10.5" stroke="#333" stroke-width="1.0"/>
<line x1="493.9" y1="230.3" x2="493.9" y2="227.3" stroke="#333" stroke-width="1.0"/>
<line x1="493.9" y1="7.5" x2="493.9" y2="10.5" stroke="#333" stroke-width="1.0"/>
<line x1="503.8" y1="230.3" x2="503.8" y2="225.3" stroke="#333" stroke-width="1.0"/>
<line x1="503.8" y1="7.5" x2="503.8" y2="12.5" stroke="#333" stroke-width="1.0"/>
<text x="354.8" y="244" font-size="12.8" text-anchor="middle" >30</text>
<text x="384.6" y="244" font-size="12.8" text-anchor="middle" >35</text>
<text x="414.4" y="244" font-size="12.8" text-anchor="middle" >40</text>
<text x="444.2" y="244" font-size="12.8" text-anchor="middle" >45</text>
<text x="474" y="244" font-size="12.8" text-anchor="middle" >50</text>
<line x1="530.8" y1="230.3" x2="530.8" y2="225.3" stroke="#333" stroke-width="1.0"/>
<line x1="530.8" y1="7.5" x2="530.8" y2="12.5" stroke="#333" stroke-width="1.0"/>
<line x1="545" y1="230.3" x2="545" y2="227.3" stroke="#333" stroke-width="1.0"/>
<line x1="545" y1="7.5" x2="545" y2="10.5" stroke="#333" stroke-width="1.0"/>
<line x1="559.2" y1="230.3" x2="559.2" y2="227.3" stroke="#333" stroke-width="1.0"/>
<line x1="559.2" y1="7.5" x2="559.2" y2="10.5" stroke="#333" stroke-width="1.0"/>
<line x1="573.4" y1="230.3" x2="573.4" y2="225.3" stroke="#333" stroke-width="1.0"/>
<line x1="573.4" y1="7.5" x2="573.4" y2="12.5" stroke="#333" stroke-width="1.0"/>
<line x1="587.6" y1="230.3" x2="587.6" y2="227.3" stroke="#333" stroke-width="1.0"/>
<line x1="587.6" y1="7.5" x2="587.6" y2="10.5" stroke="#333" stroke-width="1.0"/>
<line x1="601.8" y1="230.3" x2="601.8" y2="227.3" stroke="#333" stroke-width="1.0"/>
<line x1="601.8" y1="7.5" x2="601.8" y2="10.5" stroke="#333" stroke-width="1.0"/>
<line x1="616.1" y1="230.3" x2="616.1" y2="225.3" stroke="#333" stroke-width="1.0"/>
<line x1="616.1" y1="7.5" x2="616.1" y2="12.5" stroke="#333" stroke-width="1.0"/>
<line x1="630.3" y1="230.3" x2="630.3" y2="227.3" stroke="#333" stroke-width="1.0"/>
<line x1="630.3" y1="7.5" x2="630.3" y2="10.5" stroke="#333" stroke-width="1.0"/>
<line x1="644.5" y1="230.3" x2="644.5" y2="227.3" stroke="#333" stroke-width="1.0"/>
<line x1="644.5" y1="7.5" x2="644.5" y2="10.5" stroke="#333" stroke-width="1.0"/>
<text x="530.8" y="244" font-size="12.8" text-anchor="middle" >170</text>
<text x="573.4" y="244" font-size="12.8" text-anchor="middle" >180</text>
<text x="616.1" y="244" font-size="12.8" text-anchor="middle" >190</text>
<text x="658.7" y="244" font-size="12.8" text-anchor="middle" >200</text>
<line x1="355.6" y1="220.9" x2="358.6" y2="220.9" stroke="#333" stroke-width="1.0"/>
<line x1="355.6" y1="211.7" x2="360.6" y2="211.7" stroke="#333" stroke-width="1.0"/>
<line x1="355.6" y1="202.4" x2="358.6" y2="202.4" stroke="#333" stroke-width="1.0"/>
<line x1="355.6" y1="193.2" x2="360.6" y2="193.2" stroke="#333" stroke-width="1.0"/>
<line x1="355.6" y1="183.9" x2="358.6" y2="183.9" stroke="#333" stroke-width="1.0"/>
<line x1="355.6" y1="174.7" x2="360.6" y2="174.7" stroke="#333" stroke-width="1.0"/>
<line x1="355.6" y1="165.4" x2="358.6" y2="165.4" stroke="#333" stroke-width="1.0"/>
<line x1="355.6" y1="156.2" x2="360.6" y2="156.2" stroke="#333" stroke-width="1.0"/>
<line x1="355.6" y1="146.9" x2="358.6" y2="146.9" stroke="#333" stroke-width="1.0"/>
<line x1="355.6" y1="137.6" x2="360.6" y2="137.6" stroke="#333" stroke-width="1.0"/>
<line x1="355.6" y1="128.4" x2="358.6" y2="128.4" stroke="#333" stroke-width="1.0"/>
<line x1="355.6" y1="119.1" x2="360.6" y2="119.1" stroke="#333" stroke-width="1.0"/>
<line x1="355.6" y1="109.9" x2="358.6" y2="109.9" stroke="#333" stroke-width="1.0"/>
<line x1="355.6" y1="100.6" x2="360.6" y2="100.6" stroke="#333" stroke-width="1.0"/>
<line x1="355.6" y1="91.4" x2="358.6" y2="91.4" stroke="#333" stroke-width="1.0"/>
<line x1="355.6" y1="82.1" x2="360.6" y2="82.1" stroke="#333" stroke-width="1.0"/>
<line x1="355.6" y1="72.9" x2="358.6" y2="72.9" stroke="#333" stroke-width="1.0"/>
<line x1="355.6" y1="63.6" x2="360.6" y2="63.6" stroke="#333" stroke-width="1.0"/>
<line x1="355.6" y1="54.4" x2="358.6" y2="54.4" stroke="#333" stroke-width="1.0"/>
<line x1="355.6" y1="45.1" x2="360.6" y2="45.1" stroke="#333" stroke-width="1.0"/>
<line x1="355.6" y1="35.8" x2="358.6" y2="35.8" stroke="#333" stroke-width="1.0"/>
<line x1="355.6" y1="26.6" x2="360.6" y2="26.6" stroke="#333" stroke-width="1.0"/>
<line x1="355.6" y1="17.3" x2="358.6" y2="17.3" stroke="#333" stroke-width="1.0"/>
<line x1="355.6" y1="8.1" x2="360.6" y2="8.1" stroke="#333" stroke-width="1.0"/>
<text x="378.8" y="215" font-size="12.8" text-anchor="end" >2</text>
<text x="378.8" y="196.5" font-size="12.8" text-anchor="end" >4</text>
<text x="378.8" y="178" font-size="12.8" text-anchor="end" >6</text>
<text x="378.8" y="159.5" font-size="12.8" text-anchor="end" >8</text>
<text x="378.8" y="140.9" font-size="12.8" text-anchor="end" >10</text>
<text x="378.8" y="122.4" font-size="12.8" text-anchor="end" >12</text>
<text x="378.8" y="103.9" font-size="12.8" text-anchor="end" >14</text>
<text x="378.8" y="85.4" font-size="12.8" text-anchor="end" >16</text>
<text x="378.8" y="66.9" font-size="12.8" text-anchor="end" >18</text>
<text x="378.8" y="48.4" font-size="12.8" text-anchor="end" >20</text>
<text x="378.8" y="29.9" font-size="12.8" text-anchor="end" >22</text>
<line x1="507.5" y1="198.6" x2="512" y2="198.6" stroke="#333" stroke-width="1.0"/>
<line x1="507.5" y1="166.8" x2="512" y2="166.8" stroke="#333" stroke-width="1.0"/>
<line x1="507.5" y1="135" x2="512" y2="135" stroke="#333" stroke-width="1.0"/>
<line x1="507.5" y1="103.2" x2="512" y2="103.2" stroke="#333" stroke-width="1.0"/>
<line x1="507.5" y1="71.4" x2="512" y2="71.4" stroke="#333" stroke-width="1.0"/>
<line x1="507.5" y1="39.6" x2="512" y2="39.6" stroke="#333" stroke-width="1.0"/>
<text x="514.5" y="201.9" font-size="12.8" text-anchor="start" >0.2</text>
<text x="514.5" y="170.1" font-size="12.8" text-anchor="start" >0.4</text>
<text x="514.5" y="138.3" font-size="12.8" text-anchor="start" >0.6</text>
<text x="514.5" y="106.5" font-size="12.8" text-anchor="start" >0.8</text>
<text x="514.5" y="74.7" font-size="12.8" text-anchor="start" >1.0</text>
<text x="514.5" y="42.9" font-size="12.8" text-anchor="start" >1.2</text>
<text x="514.5" y="19.9" font-size="12.8" text-anchor="start" >1.4</text>
<line x1="501.5" y1="11.5" x2="506.5" y2="3.5" stroke="#fff" stroke-width="3"/>
<line x1="502.5" y1="12" x2="508.5" y2="3" stroke="#444" stroke-width="0.9"/>
<line x1="506.5" y1="12" x2="512.5" y2="3" stroke="#444" stroke-width="0.9"/>
<line x1="501.5" y1="234.3" x2="506.5" y2="226.3" stroke="#fff" stroke-width="3"/>
<line x1="502.5" y1="234.8" x2="508.5" y2="225.8" stroke="#444" stroke-width="0.9"/>
<line x1="506.5" y1="234.8" x2="512.5" y2="225.8" stroke="#444" stroke-width="0.9"/>
<rect x="381.3" y="18.1" width="18.1" height="14.2" fill="#fff" stroke="#444" stroke-width="1.0"/>
<rect x="531.1" y="18.2" width="17.4" height="14.4" fill="#fff" stroke="#444" stroke-width="1.0"/>
<rect x="355.6" y="215" width="16.8" height="15.3" fill="#fff" stroke="#444" stroke-width="1.0"/>
<rect x="624.4" y="18.6" width="32.3" height="14.8" fill="#fff" stroke="#444" stroke-width="1.0"/>
<text x="389.2" y="28.7" font-size="11.7" text-anchor="middle" font-family='"Liberation Sans", sans-serif' style='stroke-width:0.1px'>A</text>
<text x="539" y="28.7" font-size="12" text-anchor="middle" font-family='"Liberation Serif", serif'>B</text>
<text x="358.9" y="226.8" font-size="15.5" text-anchor="start" font-family='"Liberation Serif", serif' style='stroke-width:0.1px'>b)</text>
<text x="640.2" y="30.4" font-size="14" text-anchor="middle" font-family='"Liberation Serif", serif' style='stroke-width:0.1px'>0.5 g</text>
<text x="465.8" y="258.5" font-size="13" text-anchor="start" >Frequency (Hz)</text>
<text transform="translate(346.2,129.7) rotate(-90)" font-size="13" text-anchor="middle">Power (&#956;W)</text>
<text transform="translate(500.9,125.5) rotate(-90)" font-size="13" text-anchor="middle">Power (&#956;W)</text>
<clipPath id="cAc"><rect x="20.5" y="270.6" width="148.1" height="222.8"/></clipPath>
<clipPath id="cBc"><rect x="168.6" y="270.6" width="155.6" height="222.8"/></clipPath>
<g clip-path="url(#cAc)">
<polyline points="20.5,491.8 21,491.8 21.5,491.8 22,491.8 22.5,491.7 23,491.7 23.5,491.7 24,491.7 24.5,491.6 25,491.6 25.5,491.6 26,491.6 26.5,491.5 27,491.5 27.5,491.5 28,491.5 28.5,491.4 29,491.4 29.5,491.4 30,491.3 30.5,491.3 31,491.3 31.5,491.2 32,491.2 32.5,491.2 33,491.1 33.5,491.1 34,491.1 34.5,491 35,491 35.5,490.9 36,490.9 36.5,490.9 37,490.8 37.5,490.8 38,490.7 38.5,490.7 39,490.6 39.5,490.6 40,490.5 40.5,490.5 41,490.4 41.5,490.4 42,490.3 42.5,490.3 43,490.2 43.5,490.1 44,490.1 44.5,490 45,489.9 45.5,489.9 46,489.8 46.5,489.7 47,489.7 47.5,489.6 48,489.5 48.5,489.4 49,489.3 49.5,489.2 50,489.2 50.5,489.1 51,489 51.5,488.9 52,488.8 52.5,488.6 53,488.5 53.5,488.4 54,488.3 54.5,488.2 55,488 55.5,487.9 56,487.8 56.5,487.6 57,487.5 57.5,487.3 58,487.1 58.5,487 59,486.8 59.5,486.6 60,486.4 60.5,486.2 61,486 61.5,485.8 62,485.5 62.5,485.3 63,485.1 63.5,484.8 64,484.5 64.5,484.2 65,483.9 65.5,483.6 66,483.3 66.5,482.9 67,482.5 67.5,482.1 68,481.7 68.5,481.3 69,480.8 69.5,480.3 70,479.8 70.5,479.2 71,478.6 71.5,478 72,477.3 72.5,476.6 73,475.9 73.5,475.1 74,474.2 74.5,473.3 75,472.3 75.5,471.2 76,470.1 76.5,468.8 77,467.5 77.5,466 78,464.5 78.5,462.8 79,460.9 79.5,458.9 80,456.7 80.5,454.3 81,451.7 81.5,448.8 82,445.6 82.5,442.1 83,438.3 83.5,434.1 84,429.4 84.5,424.2 85,418.5 85.5,412.3 86,405.3 86.5,397.7 87,389.4 87.5,380.4 88,370.6 88.5,360.3 89,349.6 89.5,338.7 90,327.9 90.5,317.9 91,309.1 91.5,302.3 92,298.2 92.3,297.2 92.5,297.4 93,300.3 93.5,306.1 94,314.2 94.5,323.8 95,334.3 95.5,345.2 96,356.1 96.5,366.6 97,376.6 97.5,385.9 98,394.5 98.5,402.4 99,409.6 99.5,416.1 100,422 100.5,427.4 101,432.3 101.5,436.7 102,440.6 102.5,444.3 103,447.6 103.5,450.5 104,453.3 104.5,455.8 105,458 105.5,460.1 106,462 106.5,463.8 107,465.4 107.5,466.9 108,468.3 108.5,469.6 109,470.8 109.5,471.9 110,472.9 110.5,473.8 111,474.7 111.5,475.6 112,476.3 112.5,477.1 113,477.8 113.5,478.4 114,479 114.5,479.6 115,480.1 115.5,480.6 116,481.1 116.5,481.5 117,482 117.5,482.4 118,482.7 118.5,483.1 119,483.5 119.5,483.8 120,484.1 120.5,484.4 121,484.7 121.5,484.9 122,485.2 122.5,485.5 123,485.7 123.5,485.9 124,486.1 124.5,486.3 125,486.5 125.5,486.7 126,486.9 126.5,487.1 127,487.2 127.5,487.4 128,487.6 128.5,487.7 129,487.8 129.5,488 130,488.1 130.5,488.2 131,488.4 131.5,488.5 132,488.6 132.5,488.7 133,488.8 133.5,488.9 134,489 134.5,489.1 135,489.2 135.5,489.3 136,489.4 136.5,489.5 137,489.5 137.5,489.6 138,489.7 138.5,489.8 139,489.9 139.5,489.9 140,490 140.5,490.1 141,490.1 141.5,490.2 142,490.2 142.5,490.3 143,490.4 143.5,490.4 144,490.5 144.5,490.5 145,490.6 145.5,490.6 146,490.7 146.5,490.7 147,490.8 147.5,490.8 148,490.8 148.5,490.9 149,490.9 149.5,491 150,491 150.5,491.1 151,491.1 151.5,491.1 152,491.2 152.5,491.2 153,491.2 153.5,491.3 154,491.3 154.5,491.3 155,491.4 155.5,491.4 156,491.4 156.5,491.4 157,491.5 157.5,491.5 158,491.5 158.5,491.6 159,491.6 159.5,491.6 160,491.6 160.5,491.7 161,491.7 161.5,491.7 162,491.7 162.5,491.7 163,491.8 163.5,491.8 164,491.8 164.5,491.8 165,491.9 165.5,491.9 166,491.9 166.5,491.9 167,491.9 167.5,491.9 168,492 168.5,492" fill="none" stroke="#333" stroke-width="0.9" stroke-linejoin="round" />
<polyline points="49.2,490.3 49.8,490.2 50.4,490.2 51,490.1 51.6,490.1 52.2,490 52.8,490 53.3,489.9 53.9,489.9 54.5,489.8 55.1,489.7 55.7,489.7 56.3,489.6 56.9,489.6 57.4,489.5 58,489.4 58.6,489.4 59.2,489.3 59.8,489.2 60.4,489.1 61,489.1 61.5,489 62.1,488.9 62.7,488.8 63.3,488.7 63.9,488.6 64.5,488.5 65,488.4 65.6,488.3 66.2,488.2 66.8,488 67.4,487.9 68,487.8 68.6,487.6 69.1,487.5 69.7,487.3 70.3,487.1 70.9,486.9 71.5,486.7 72.1,486.5 72.6,486.3 73.2,486 73.8,485.8 74.4,485.5 75,485.2 75.6,484.8 76.2,484.5 76.7,484 77.3,483.6 77.9,483.1 78.5,482.5 79.1,481.9 79.7,481.1 80.3,480.3 80.8,479.4 81.4,478.2 82,476.9 82.6,475.4 83.2,473.5 83.8,471.3 84.3,468.5 84.9,464.9 85.5,460.4 86.1,454.5 86.7,446.5 87.3,435.6 87.9,420.5 88.4,399.6 89,371.3 89.6,337 90.2,303.7 90.8,282.5 91.4,275.9 92,275.3 92.4,275.3 92.5,275.7 93.1,279.2 93.7,284.4 94.3,291 94.9,298.9 95.5,307.7 96,317.2 96.6,327.1 97.2,337 97.8,346.9 98.4,356.5 99,365.7 99.6,374.5 100.1,382.8 100.7,390.5 101.3,397.7 101.9,404.4 102.5,410.5 103.1,416.2 103.7,421.4 104.2,426.3 104.8,430.7 105.4,434.8 106,438.5 106.6,441.9 107.2,445.1 107.7,448 108.3,450.7 108.9,453.2 109.5,455.5 110.1,457.6 110.7,459.6 111.3,461.4 111.8,463.1 112.4,464.6 113,466.1 113.6,467.5 114.2,468.7 114.8,469.9 115.4,471 115.9,472 116.5,473 117.1,473.9 117.7,474.8 118.3,475.6 118.9,476.3 119.4,477 120,477.7 120.6,478.3 121.2,478.9 121.8,479.5 122.4,480 123,480.5 123.5,481 124.1,481.4 124.7,481.9 125.3,482.3 125.9,482.7 126.5,483 127.1,483.4 127.6,483.7 128.2,484 128.8,484.3 129.4,484.6 130,484.9 130.6,485.2 131.1,485.4 131.7,485.7 132.3,485.9 132.9,486.1 133.5,486.3 134.1,486.5 134.7,486.7 135.2,486.9 135.8,487.1 136.4,487.3 137,487.4 137.6,487.6 138.2,487.7 138.8,487.9 139.3,488 139.9,488.2 140.5,488.3 141.1,488.4 141.7,488.5 142.3,488.7 142.8,488.8 143.4,488.9 144,489 144.6,489.1 145.2,489.2 145.8,489.3 146.4,489.4 146.9,489.5 147.5,489.6 148.1,489.6 148.7,489.7 149.3,489.8 149.9,489.9 150.5,490 151,490 151.6,490.1 152.2,490.2 152.8,490.2 153.4,490.3 154,490.4 154.5,490.4 155.1,490.5 155.7,490.5 156.3,490.6 156.9,490.6 157.5,490.7 158.1,490.7 158.6,490.8 159.2,490.8 159.8,490.9 160.4,490.9 161,491 161.6,491 162.2,491.1 162.7,491.1 163.3,491.1 163.9,491.2 164.5,491.2 165.1,491.3 165.7,491.3 166.2,491.3 166.8,491.4 167.4,491.4 168,491.4 168.6,491.5" fill="none" stroke="#ff5050" stroke-width="1.0" stroke-linejoin="round" />
<g fill="#f00"><circle cx="49.2" cy="490.3" r="1.5"/><circle cx="49.8" cy="490.2" r="1.5"/><circle cx="50.4" cy="490.2" r="1.5"/><circle cx="51" cy="490.1" r="1.5"/><circle cx="51.6" cy="490.1" r="1.5"/><circle cx="52.2" cy="490" r="1.5"/><circle cx="52.8" cy="490" r="1.5"/><circle cx="53.3" cy="489.9" r="1.5"/><circle cx="53.9" cy="489.9" r="1.5"/><circle cx="54.5" cy="489.8" r="1.5"/><circle cx="55.1" cy="489.7" r="1.5"/><circle cx="55.7" cy="489.7" r="1.5"/><circle cx="56.3" cy="489.6" r="1.5"/><circle cx="56.9" cy="489.6" r="1.5"/><circle cx="57.4" cy="489.5" r="1.5"/><circle cx="58" cy="489.4" r="1.5"/><circle cx="58.6" cy="489.4" r="1.5"/><circle cx="59.2" cy="489.3" r="1.5"/><circle cx="59.8" cy="489.2" r="1.5"/><circle cx="60.4" cy="489.1" r="1.5"/><circle cx="61" cy="489.1" r="1.5"/><circle cx="61.5" cy="489" r="1.5"/><circle cx="62.1" cy="488.9" r="1.5"/><circle cx="62.7" cy="488.8" r="1.5"/><circle cx="63.3" cy="488.7" r="1.5"/><circle cx="63.9" cy="488.6" r="1.5"/><circle cx="64.5" cy="488.5" r="1.5"/><circle cx="65" cy="488.4" r="1.5"/><circle cx="65.6" cy="488.3" r="1.5"/><circle cx="66.2" cy="488.2" r="1.5"/><circle cx="66.8" cy="488" r="1.5"/><circle cx="67.4" cy="487.9" r="1.5"/><circle cx="68" cy="487.8" r="1.5"/><circle cx="68.6" cy="487.6" r="1.5"/><circle cx="69.1" cy="487.5" r="1.5"/><circle cx="69.7" cy="487.3" r="1.5"/><circle cx="70.3" cy="487.1" r="1.5"/><circle cx="70.9" cy="486.9" r="1.5"/><circle cx="71.5" cy="486.7" r="1.5"/><circle cx="72.1" cy="486.5" r="1.5"/><circle cx="72.6" cy="486.3" r="1.5"/><circle cx="73.2" cy="486" r="1.5"/><circle cx="73.8" cy="485.8" r="1.5"/><circle cx="74.4" cy="485.5" r="1.5"/><circle cx="75" cy="485.2" r="1.5"/><circle cx="75.6" cy="484.8" r="1.5"/><circle cx="76.2" cy="484.5" r="1.5"/><circle cx="76.7" cy="484" r="1.5"/><circle cx="77.3" cy="483.6" r="1.5"/><circle cx="77.9" cy="483.1" r="1.5"/><circle cx="78.5" cy="482.5" r="1.5"/><circle cx="79.1" cy="481.9" r="1.5"/><circle cx="79.7" cy="481.1" r="1.5"/><circle cx="80.3" cy="480.3" r="1.5"/><circle cx="80.8" cy="479.4" r="1.5"/><circle cx="81.4" cy="478.2" r="1.5"/><circle cx="82" cy="476.9" r="1.5"/><circle cx="82.6" cy="475.4" r="1.5"/><circle cx="83.2" cy="473.5" r="1.5"/><circle cx="83.8" cy="471.3" r="1.5"/><circle cx="84.3" cy="468.5" r="1.5"/><circle cx="84.9" cy="464.9" r="1.5"/><circle cx="85.5" cy="460.4" r="1.5"/><circle cx="86.1" cy="454.5" r="1.5"/><circle cx="86.7" cy="446.5" r="1.5"/><circle cx="87.3" cy="435.6" r="1.5"/><circle cx="87.9" cy="420.5" r="1.5"/><circle cx="88.4" cy="399.6" r="1.5"/><circle cx="89" cy="371.3" r="1.5"/><circle cx="89.6" cy="337" r="1.5"/><circle cx="90.2" cy="303.7" r="1.5"/><circle cx="90.8" cy="282.5" r="1.5"/><circle cx="91.4" cy="275.9" r="1.5"/><circle cx="92" cy="275.3" r="1.5"/><circle cx="92.4" cy="275.3" r="1.5"/><circle cx="92.5" cy="275.7" r="1.5"/><circle cx="93.1" cy="279.2" r="1.5"/><circle cx="93.7" cy="284.4" r="1.5"/><circle cx="94.3" cy="291" r="1.5"/><circle cx="94.9" cy="298.9" r="1.5"/><circle cx="95.5" cy="307.7" r="1.5"/><circle cx="96" cy="317.2" r="1.5"/><circle cx="96.6" cy="327.1" r="1.5"/><circle cx="97.2" cy="337" r="1.5"/><circle cx="97.8" cy="346.9" r="1.5"/><circle cx="98.4" cy="356.5" r="1.5"/><circle cx="99" cy="365.7" r="1.5"/><circle cx="99.6" cy="374.5" r="1.5"/><circle cx="100.1" cy="382.8" r="1.5"/><circle cx="100.7" cy="390.5" r="1.5"/><circle cx="101.3" cy="397.7" r="1.5"/><circle cx="101.9" cy="404.4" r="1.5"/><circle cx="102.5" cy="410.5" r="1.5"/><circle cx="103.1" cy="416.2" r="1.5"/><circle cx="103.7" cy="421.4" r="1.5"/><circle cx="104.2" cy="426.3" r="1.5"/><circle cx="104.8" cy="430.7" r="1.5"/><circle cx="105.4" cy="434.8" r="1.5"/><circle cx="106" cy="438.5" r="1.5"/><circle cx="106.6" cy="441.9" r="1.5"/><circle cx="107.2" cy="445.1" r="1.5"/><circle cx="107.7" cy="448" r="1.5"/><circle cx="108.3" cy="450.7" r="1.5"/><circle cx="108.9" cy="453.2" r="1.5"/><circle cx="109.5" cy="455.5" r="1.5"/><circle cx="110.1" cy="457.6" r="1.5"/><circle cx="110.7" cy="459.6" r="1.5"/><circle cx="111.3" cy="461.4" r="1.5"/><circle cx="111.8" cy="463.1" r="1.5"/><circle cx="112.4" cy="464.6" r="1.5"/><circle cx="113" cy="466.1" r="1.5"/><circle cx="113.6" cy="467.5" r="1.5"/><circle cx="114.2" cy="468.7" r="1.5"/><circle cx="114.8" cy="469.9" r="1.5"/><circle cx="115.4" cy="471" r="1.5"/><circle cx="115.9" cy="472" r="1.5"/><circle cx="116.5" cy="473" r="1.5"/><circle cx="117.1" cy="473.9" r="1.5"/><circle cx="117.7" cy="474.8" r="1.5"/><circle cx="118.3" cy="475.6" r="1.5"/><circle cx="118.9" cy="476.3" r="1.5"/><circle cx="119.4" cy="477" r="1.5"/><circle cx="120" cy="477.7" r="1.5"/><circle cx="120.6" cy="478.3" r="1.5"/><circle cx="121.2" cy="478.9" r="1.5"/><circle cx="121.8" cy="479.5" r="1.5"/><circle cx="122.4" cy="480" r="1.5"/><circle cx="123" cy="480.5" r="1.5"/><circle cx="123.5" cy="481" r="1.5"/><circle cx="124.1" cy="481.4" r="1.5"/><circle cx="124.7" cy="481.9" r="1.5"/><circle cx="125.3" cy="482.3" r="1.5"/><circle cx="125.9" cy="482.7" r="1.5"/><circle cx="126.5" cy="483" r="1.5"/><circle cx="127.1" cy="483.4" r="1.5"/><circle cx="127.6" cy="483.7" r="1.5"/><circle cx="128.2" cy="484" r="1.5"/><circle cx="128.8" cy="484.3" r="1.5"/><circle cx="129.4" cy="484.6" r="1.5"/><circle cx="130" cy="484.9" r="1.5"/><circle cx="130.6" cy="485.2" r="1.5"/><circle cx="131.1" cy="485.4" r="1.5"/><circle cx="131.7" cy="485.7" r="1.5"/><circle cx="132.3" cy="485.9" r="1.5"/><circle cx="132.9" cy="486.1" r="1.5"/><circle cx="133.5" cy="486.3" r="1.5"/><circle cx="134.1" cy="486.5" r="1.5"/><circle cx="134.7" cy="486.7" r="1.5"/><circle cx="135.2" cy="486.9" r="1.5"/><circle cx="135.8" cy="487.1" r="1.5"/><circle cx="136.4" cy="487.3" r="1.5"/><circle cx="137" cy="487.4" r="1.5"/><circle cx="137.6" cy="487.6" r="1.5"/><circle cx="138.2" cy="487.7" r="1.5"/><circle cx="138.8" cy="487.9" r="1.5"/><circle cx="139.3" cy="488" r="1.5"/><circle cx="139.9" cy="488.2" r="1.5"/><circle cx="140.5" cy="488.3" r="1.5"/><circle cx="141.1" cy="488.4" r="1.5"/><circle cx="141.7" cy="488.5" r="1.5"/><circle cx="142.3" cy="488.7" r="1.5"/><circle cx="142.8" cy="488.8" r="1.5"/><circle cx="143.4" cy="488.9" r="1.5"/><circle cx="144" cy="489" r="1.5"/><circle cx="144.6" cy="489.1" r="1.5"/><circle cx="145.2" cy="489.2" r="1.5"/><circle cx="145.8" cy="489.3" r="1.5"/><circle cx="146.4" cy="489.4" r="1.5"/><circle cx="146.9" cy="489.5" r="1.5"/><circle cx="147.5" cy="489.6" r="1.5"/><circle cx="148.1" cy="489.6" r="1.5"/><circle cx="148.7" cy="489.7" r="1.5"/><circle cx="149.3" cy="489.8" r="1.5"/><circle cx="149.9" cy="489.9" r="1.5"/><circle cx="150.5" cy="490" r="1.5"/><circle cx="151" cy="490" r="1.5"/><circle cx="151.6" cy="490.1" r="1.5"/><circle cx="152.2" cy="490.2" r="1.5"/><circle cx="152.8" cy="490.2" r="1.5"/><circle cx="153.4" cy="490.3" r="1.5"/><circle cx="154" cy="490.4" r="1.5"/><circle cx="154.5" cy="490.4" r="1.5"/><circle cx="155.1" cy="490.5" r="1.5"/><circle cx="155.7" cy="490.5" r="1.5"/><circle cx="156.3" cy="490.6" r="1.5"/><circle cx="156.9" cy="490.6" r="1.5"/><circle cx="157.5" cy="490.7" r="1.5"/><circle cx="158.1" cy="490.7" r="1.5"/><circle cx="158.6" cy="490.8" r="1.5"/><circle cx="159.2" cy="490.8" r="1.5"/><circle cx="159.8" cy="490.9" r="1.5"/><circle cx="160.4" cy="490.9" r="1.5"/><circle cx="161" cy="491" r="1.5"/><circle cx="161.6" cy="491" r="1.5"/><circle cx="162.2" cy="491.1" r="1.5"/><circle cx="162.7" cy="491.1" r="1.5"/><circle cx="163.3" cy="491.1" r="1.5"/><circle cx="163.9" cy="491.2" r="1.5"/><circle cx="164.5" cy="491.2" r="1.5"/><circle cx="165.1" cy="491.3" r="1.5"/><circle cx="165.7" cy="491.3" r="1.5"/><circle cx="166.2" cy="491.3" r="1.5"/><circle cx="166.8" cy="491.4" r="1.5"/><circle cx="167.4" cy="491.4" r="1.5"/><circle cx="168" cy="491.4" r="1.5"/><circle cx="168.6" cy="491.5" r="1.5"/></g>
</g>
<g clip-path="url(#cBc)">
<polyline points="232.5,477.9 233,477.6 233.5,477.2 234,476.9 234.5,476.5 235,476.1 235.5,475.7 236,475.3 236.5,474.9 237,474.5 237.5,474 238,473.6 238.5,473.1 239,472.6 239.5,472.1 240,471.6 240.5,471 241,470.4 241.5,469.8 242,469.2 242.5,468.6 243,467.9 243.5,467.2 244,466.5 244.5,465.7 245,465 245.5,464.2 246,463.3 246.5,462.4 247,461.5 247.5,460.6 248,459.6 248.5,458.5 249,457.4 249.5,456.3 250,455.1 250.5,453.9 251,452.6 251.5,451.2 252,449.8 252.5,448.3 253,446.7 253.5,445.1 254,443.4 254.5,441.6 255,439.7 255.5,437.8 256,435.7 256.5,433.6 257,431.3 257.5,428.9 258,426.4 258.5,423.8 259,421.1 259.5,418.2 260,415.2 260.5,412 261,408.7 261.5,405.3 262,401.7 262.5,397.9 263,394 263.5,390 264,385.7 264.5,381.4 265,376.9 265.5,372.2 266,367.4 266.5,362.5 267,357.6 267.5,352.6 268,347.5 268.5,342.5 269,337.4 269.5,332.5 270,327.8 270.5,323.2 271,318.8 271.5,314.8 272,311.2 272.5,307.9 273,305.2 273.5,303 274,301.3 274.5,300.3 275,299.8 275.1,299.8 275.5,300 276,300.8 276.5,302.2 277,304.2 277.5,306.8 278,309.8 278.5,313.3 279,317.2 279.5,321.4 280,325.9 280.5,330.6 281,335.5 281.5,340.4 282,345.5 282.5,350.5 283,355.6 283.5,360.6 284,365.5 284.5,370.3 285,375 285.5,379.6 286,384 286.5,388.3 287,392.4 287.5,396.4 288,400.2 288.5,403.9 289,407.4 289.5,410.7 290,413.9 290.5,417 291,419.9 291.5,422.7 292,425.4 292.5,427.9 293,430.4 293.5,432.7 294,434.9 294.5,437 295,439 295.5,440.9 296,442.7 296.5,444.4 297,446.1 297.5,447.7 298,449.2 298.5,450.6 299,452 299.5,453.3 300,454.6 300.5,455.8 301,457 301.5,458.1 302,459.1 302.5,460.2 303,461.1 303.5,462.1 304,463 304.5,463.8 305,464.6 305.5,465.4 306,466.2 306.5,466.9 307,467.6 307.5,468.3 308,469 308.5,469.6 309,470.2 309.5,470.8 310,471.3 310.5,471.9 311,472.4 311.5,472.9 312,473.4 312.5,473.9 313,474.3 313.5,474.8 314,475.2 314.5,475.6 315,476 315.5,476.4 316,476.7 316.5,477.1 317,477.4 317.5,477.8 318,478.1 318.5,478.4 319,478.7 319.5,479" fill="none" stroke="#333" stroke-width="0.9" stroke-linejoin="round" />
<polyline points="168.6,489.2 169.1,489.1 169.5,489.1 170,489.1 170.5,489 170.9,489 171.4,488.9 171.9,488.9 172.4,488.8 172.8,488.8 173.3,488.8 173.8,488.7 174.2,488.7 174.7,488.6 175.2,488.6 175.6,488.5 176.1,488.5 176.6,488.4 177.1,488.4 177.5,488.3 178,488.3 178.5,488.2 178.9,488.1 179.4,488.1 179.9,488 180.3,488 180.8,487.9 181.3,487.9 181.8,487.8 182.2,487.7 182.7,487.7 183.2,487.6 183.6,487.5 184.1,487.5 184.6,487.4 185,487.3 185.5,487.2 186,487.2 186.5,487.1 186.9,487 187.4,486.9 187.9,486.8 188.3,486.8 188.8,486.7 189.3,486.6 189.7,486.5 190.2,486.4 190.7,486.3 191.2,486.2 191.6,486.1 192.1,486 192.6,485.9 193,485.8 193.5,485.7 194,485.6 194.4,485.5 194.9,485.3 195.4,485.2 195.9,485.1 196.3,485 196.8,484.8 197.3,484.7 197.7,484.6 198.2,484.4 198.7,484.3 199.1,484.1 199.6,483.9 200.1,483.8 200.6,483.6 201,483.4 201.5,483.3 202,483.1 202.4,482.9 202.9,482.7 203.4,482.5 203.8,482.3 204.3,482 204.8,481.8 205.3,481.6 205.7,481.3 206.2,481.1 206.7,480.8 207.1,480.5 207.6,480.3 208.1,480 208.5,479.6 209,479.3 209.5,479 210,478.6 210.4,478.3 210.9,477.9 211.4,477.5 211.8,477.1 212.3,476.6 212.8,476.2 213.2,475.7 213.7,475.2 214.2,474.7 214.7,474.1 215.1,473.5 215.6,472.9 216.1,472.3 216.5,471.6 217,470.9 217.5,470.2 217.9,469.4 218.4,468.5 218.9,467.6 219.4,466.7 219.8,465.7 220.3,464.6 220.8,463.5 221.2,462.3 221.7,461 222.2,459.6 222.6,458.2 223.1,456.6 223.6,454.9 224.1,453.1 224.5,451.2 225,449.1 225.5,446.9 225.9,444.5 226.4,441.9 226.9,439.2 227.3,436.2 227.8,433 228.3,429.5 228.8,425.7 229.2,421.7 229.7,417.4 230.2,412.7 230.6,407.7 231.1,402.4 231.6,396.7 232,390.8 232.5,384.5 233,378 233.5,371.4 233.9,364.7 234.4,358.1 234.9,351.7 235.3,345.7 235.8,340.3 236.3,335.8 236.7,332.1 237.2,329.6 237.7,327.9 238.2,327.1 238.6,326.8 238.9,326.8 239.1,327 239.6,327.9 240,329.3 240.5,331.1 241,333 241.4,335.1 241.9,337.5 242.4,340 242.9,342.8 243.3,345.8 243.8,349 244.3,352.3 244.7,355.7 245.2,359.2 245.7,362.8 246.1,366.5 246.6,370.2 247.1,373.8 247.6,377.5 248,381.2 248.5,384.8 249,388.4 249.4,391.9 249.9,395.4 250.4,398.8 250.8,402.1 251.3,405.3 251.8,408.4 252.3,411.4 252.7,414.3 253.2,417.1 253.7,419.9 254.1,422.5 254.6,425 255.1,427.5 255.5,429.8 256,432.1 256.5,434.3 257,436.3 257.4,438.3 257.9,440.3 258.4,442.1 258.8,443.9 259.3,445.6 259.8,447.2 260.3,448.7 260.7,450.2 261.2,451.7 261.7,453 262.1,454.4 262.6,455.6 263.1,456.8 263.5,458 264,459.1 264.5,460.2 265,461.2 265.4,462.2 265.9,463.1 266.4,464.1 266.8,464.9 267.3,465.8 267.8,466.6 268.2,467.3 268.7,468.1 269.2,468.8 269.7,469.5 270.1,470.2 270.6,470.8 271.1,471.4 271.5,472 272,472.6 272.5,473.1 272.9,473.7 273.4,474.2 273.9,474.7 274.4,475.2 274.8,475.6 275.3,476.1 275.8,476.5 276.2,476.9 276.7,477.3 277.2,477.7 277.6,478.1 278.1,478.4 278.6,478.8 279.1,479.1 279.5,479.4 280,479.8 280.5,480.1 280.9,480.4 281.4,480.7 281.9,480.9 282.3,481.2 282.8,481.5 283.3,481.7 283.8,482 284.2,482.2 284.7,482.4 285.2,482.7 285.6,482.9 286.1,483.1 286.6,483.3 287,483.5 287.5,483.7 288,483.9 288.5,484.1 288.9,484.3 289.4,484.4 289.9,484.6 290.3,484.8 290.8,484.9 291.3,485.1 291.7,485.2 292.2,485.4 292.7,485.5 293.2,485.7 293.6,485.8 294.1,485.9 294.6,486.1 295,486.2 295.5,486.3 296,486.4 296.4,486.5 296.9,486.7 297.4,486.8 297.9,486.9 298.3,487 298.8,487.1 299.3,487.2 299.7,487.3 300.2,487.4 300.7,487.5 301.1,487.6 301.6,487.7 302.1,487.7" fill="none" stroke="#ff5050" stroke-width="0.6" stroke-linejoin="round" />
<g fill="#f00"><circle cx="168.6" cy="489.2" r="1.5"/><circle cx="169.1" cy="489.1" r="1.5"/><circle cx="169.5" cy="489.1" r="1.5"/><circle cx="170" cy="489.1" r="1.5"/><circle cx="170.5" cy="489" r="1.5"/><circle cx="170.9" cy="489" r="1.5"/><circle cx="171.4" cy="488.9" r="1.5"/><circle cx="171.9" cy="488.9" r="1.5"/><circle cx="172.4" cy="488.8" r="1.5"/><circle cx="172.8" cy="488.8" r="1.5"/><circle cx="173.3" cy="488.8" r="1.5"/><circle cx="173.8" cy="488.7" r="1.5"/><circle cx="174.2" cy="488.7" r="1.5"/><circle cx="174.7" cy="488.6" r="1.5"/><circle cx="175.2" cy="488.6" r="1.5"/><circle cx="175.6" cy="488.5" r="1.5"/><circle cx="176.1" cy="488.5" r="1.5"/><circle cx="176.6" cy="488.4" r="1.5"/><circle cx="177.1" cy="488.4" r="1.5"/><circle cx="177.5" cy="488.3" r="1.5"/><circle cx="178" cy="488.3" r="1.5"/><circle cx="178.5" cy="488.2" r="1.5"/><circle cx="178.9" cy="488.1" r="1.5"/><circle cx="179.4" cy="488.1" r="1.5"/><circle cx="179.9" cy="488" r="1.5"/><circle cx="180.3" cy="488" r="1.5"/><circle cx="180.8" cy="487.9" r="1.5"/><circle cx="181.3" cy="487.9" r="1.5"/><circle cx="181.8" cy="487.8" r="1.5"/><circle cx="182.2" cy="487.7" r="1.5"/><circle cx="182.7" cy="487.7" r="1.5"/><circle cx="183.2" cy="487.6" r="1.5"/><circle cx="183.6" cy="487.5" r="1.5"/><circle cx="184.1" cy="487.5" r="1.5"/><circle cx="184.6" cy="487.4" r="1.5"/><circle cx="185" cy="487.3" r="1.5"/><circle cx="185.5" cy="487.2" r="1.5"/><circle cx="186" cy="487.2" r="1.5"/><circle cx="186.5" cy="487.1" r="1.5"/><circle cx="186.9" cy="487" r="1.5"/><circle cx="187.4" cy="486.9" r="1.5"/><circle cx="187.9" cy="486.8" r="1.5"/><circle cx="188.3" cy="486.8" r="1.5"/><circle cx="188.8" cy="486.7" r="1.5"/><circle cx="189.3" cy="486.6" r="1.5"/><circle cx="189.7" cy="486.5" r="1.5"/><circle cx="190.2" cy="486.4" r="1.5"/><circle cx="190.7" cy="486.3" r="1.5"/><circle cx="191.2" cy="486.2" r="1.5"/><circle cx="191.6" cy="486.1" r="1.5"/><circle cx="192.1" cy="486" r="1.5"/><circle cx="192.6" cy="485.9" r="1.5"/><circle cx="193" cy="485.8" r="1.5"/><circle cx="193.5" cy="485.7" r="1.5"/><circle cx="194" cy="485.6" r="1.5"/><circle cx="194.4" cy="485.5" r="1.5"/><circle cx="194.9" cy="485.3" r="1.5"/><circle cx="195.4" cy="485.2" r="1.5"/><circle cx="195.9" cy="485.1" r="1.5"/><circle cx="196.3" cy="485" r="1.5"/><circle cx="196.8" cy="484.8" r="1.5"/><circle cx="197.3" cy="484.7" r="1.5"/><circle cx="197.7" cy="484.6" r="1.5"/><circle cx="198.2" cy="484.4" r="1.5"/><circle cx="198.7" cy="484.3" r="1.5"/><circle cx="199.1" cy="484.1" r="1.5"/><circle cx="199.6" cy="483.9" r="1.5"/><circle cx="200.1" cy="483.8" r="1.5"/><circle cx="200.6" cy="483.6" r="1.5"/><circle cx="201" cy="483.4" r="1.5"/><circle cx="201.5" cy="483.3" r="1.5"/><circle cx="202" cy="483.1" r="1.5"/><circle cx="202.4" cy="482.9" r="1.5"/><circle cx="202.9" cy="482.7" r="1.5"/><circle cx="203.4" cy="482.5" r="1.5"/><circle cx="203.8" cy="482.3" r="1.5"/><circle cx="204.3" cy="482" r="1.5"/><circle cx="204.8" cy="481.8" r="1.5"/><circle cx="205.3" cy="481.6" r="1.5"/><circle cx="205.7" cy="481.3" r="1.5"/><circle cx="206.2" cy="481.1" r="1.5"/><circle cx="206.7" cy="480.8" r="1.5"/><circle cx="207.1" cy="480.5" r="1.5"/><circle cx="207.6" cy="480.3" r="1.5"/><circle cx="208.1" cy="480" r="1.5"/><circle cx="208.5" cy="479.6" r="1.5"/><circle cx="209" cy="479.3" r="1.5"/><circle cx="209.5" cy="479" r="1.5"/><circle cx="210" cy="478.6" r="1.5"/><circle cx="210.4" cy="478.3" r="1.5"/><circle cx="210.9" cy="477.9" r="1.5"/><circle cx="211.4" cy="477.5" r="1.5"/><circle cx="211.8" cy="477.1" r="1.5"/><circle cx="212.3" cy="476.6" r="1.5"/><circle cx="212.8" cy="476.2" r="1.5"/><circle cx="213.2" cy="475.7" r="1.5"/><circle cx="213.7" cy="475.2" r="1.5"/><circle cx="214.2" cy="474.7" r="1.5"/><circle cx="214.7" cy="474.1" r="1.5"/><circle cx="215.1" cy="473.5" r="1.5"/><circle cx="215.6" cy="472.9" r="1.5"/><circle cx="216.1" cy="472.3" r="1.5"/><circle cx="216.5" cy="471.6" r="1.5"/><circle cx="217" cy="470.9" r="1.5"/><circle cx="217.5" cy="470.2" r="1.5"/><circle cx="217.9" cy="469.4" r="1.5"/><circle cx="218.4" cy="468.5" r="1.5"/><circle cx="218.9" cy="467.6" r="1.5"/><circle cx="219.4" cy="466.7" r="1.5"/><circle cx="219.8" cy="465.7" r="1.5"/><circle cx="220.3" cy="464.6" r="1.5"/><circle cx="220.8" cy="463.5" r="1.5"/><circle cx="221.2" cy="462.3" r="1.5"/><circle cx="221.7" cy="461" r="1.5"/><circle cx="222.2" cy="459.6" r="1.5"/><circle cx="222.6" cy="458.2" r="1.5"/><circle cx="223.1" cy="456.6" r="1.5"/><circle cx="223.6" cy="454.9" r="1.5"/><circle cx="224.1" cy="453.1" r="1.5"/><circle cx="224.5" cy="451.2" r="1.5"/><circle cx="225" cy="449.1" r="1.5"/><circle cx="225.5" cy="446.9" r="1.5"/><circle cx="225.9" cy="444.5" r="1.5"/><circle cx="226.4" cy="441.9" r="1.5"/><circle cx="226.9" cy="439.2" r="1.5"/><circle cx="227.3" cy="436.2" r="1.5"/><circle cx="227.8" cy="433" r="1.5"/><circle cx="228.3" cy="429.5" r="1.5"/><circle cx="228.8" cy="425.7" r="1.5"/><circle cx="229.2" cy="421.7" r="1.5"/><circle cx="229.7" cy="417.4" r="1.5"/><circle cx="230.2" cy="412.7" r="1.5"/><circle cx="230.6" cy="407.7" r="1.5"/><circle cx="231.1" cy="402.4" r="1.5"/><circle cx="231.6" cy="396.7" r="1.5"/><circle cx="232" cy="390.8" r="1.5"/><circle cx="232.5" cy="384.5" r="1.5"/><circle cx="233" cy="378" r="1.5"/><circle cx="233.5" cy="371.4" r="1.5"/><circle cx="233.9" cy="364.7" r="1.5"/><circle cx="234.4" cy="358.1" r="1.5"/><circle cx="234.9" cy="351.7" r="1.5"/><circle cx="235.3" cy="345.7" r="1.5"/><circle cx="235.8" cy="340.3" r="1.5"/><circle cx="236.3" cy="335.8" r="1.5"/><circle cx="236.7" cy="332.1" r="1.5"/><circle cx="237.2" cy="329.6" r="1.5"/><circle cx="237.7" cy="327.9" r="1.5"/><circle cx="238.2" cy="327.1" r="1.5"/><circle cx="238.6" cy="326.8" r="1.5"/><circle cx="238.9" cy="326.8" r="1.5"/><circle cx="239.1" cy="327" r="1.5"/><circle cx="239.6" cy="327.9" r="1.5"/><circle cx="240" cy="329.3" r="1.5"/><circle cx="240.5" cy="331.1" r="1.5"/><circle cx="241" cy="333" r="1.5"/><circle cx="241.4" cy="335.1" r="1.5"/><circle cx="241.9" cy="337.5" r="1.5"/><circle cx="242.4" cy="340" r="1.5"/><circle cx="242.9" cy="342.8" r="1.5"/><circle cx="243.3" cy="345.8" r="1.5"/><circle cx="243.8" cy="349" r="1.5"/><circle cx="244.3" cy="352.3" r="1.5"/><circle cx="244.7" cy="355.7" r="1.5"/><circle cx="245.2" cy="359.2" r="1.5"/><circle cx="245.7" cy="362.8" r="1.5"/><circle cx="246.1" cy="366.5" r="1.5"/><circle cx="246.6" cy="370.2" r="1.5"/><circle cx="247.1" cy="373.8" r="1.5"/><circle cx="247.6" cy="377.5" r="1.5"/><circle cx="248" cy="381.2" r="1.5"/><circle cx="248.5" cy="384.8" r="1.5"/><circle cx="249" cy="388.4" r="1.5"/><circle cx="249.4" cy="391.9" r="1.5"/><circle cx="249.9" cy="395.4" r="1.5"/><circle cx="250.4" cy="398.8" r="1.5"/><circle cx="250.8" cy="402.1" r="1.5"/><circle cx="251.3" cy="405.3" r="1.5"/><circle cx="251.8" cy="408.4" r="1.5"/><circle cx="252.3" cy="411.4" r="1.5"/><circle cx="252.7" cy="414.3" r="1.5"/><circle cx="253.2" cy="417.1" r="1.5"/><circle cx="253.7" cy="419.9" r="1.5"/><circle cx="254.1" cy="422.5" r="1.5"/><circle cx="254.6" cy="425" r="1.5"/><circle cx="255.1" cy="427.5" r="1.5"/><circle cx="255.5" cy="429.8" r="1.5"/><circle cx="256" cy="432.1" r="1.5"/><circle cx="256.5" cy="434.3" r="1.5"/><circle cx="257" cy="436.3" r="1.5"/><circle cx="257.4" cy="438.3" r="1.5"/><circle cx="257.9" cy="440.3" r="1.5"/><circle cx="258.4" cy="442.1" r="1.5"/><circle cx="258.8" cy="443.9" r="1.5"/><circle cx="259.3" cy="445.6" r="1.5"/><circle cx="259.8" cy="447.2" r="1.5"/><circle cx="260.3" cy="448.7" r="1.5"/><circle cx="260.7" cy="450.2" r="1.5"/><circle cx="261.2" cy="451.7" r="1.5"/><circle cx="261.7" cy="453" r="1.5"/><circle cx="262.1" cy="454.4" r="1.5"/><circle cx="262.6" cy="455.6" r="1.5"/><circle cx="263.1" cy="456.8" r="1.5"/><circle cx="263.5" cy="458" r="1.5"/><circle cx="264" cy="459.1" r="1.5"/><circle cx="264.5" cy="460.2" r="1.5"/><circle cx="265" cy="461.2" r="1.5"/><circle cx="265.4" cy="462.2" r="1.5"/><circle cx="265.9" cy="463.1" r="1.5"/><circle cx="266.4" cy="464.1" r="1.5"/><circle cx="266.8" cy="464.9" r="1.5"/><circle cx="267.3" cy="465.8" r="1.5"/><circle cx="267.8" cy="466.6" r="1.5"/><circle cx="268.2" cy="467.3" r="1.5"/><circle cx="268.7" cy="468.1" r="1.5"/><circle cx="269.2" cy="468.8" r="1.5"/><circle cx="269.7" cy="469.5" r="1.5"/><circle cx="270.1" cy="470.2" r="1.5"/><circle cx="270.6" cy="470.8" r="1.5"/><circle cx="271.1" cy="471.4" r="1.5"/><circle cx="271.5" cy="472" r="1.5"/><circle cx="272" cy="472.6" r="1.5"/><circle cx="272.5" cy="473.1" r="1.5"/><circle cx="272.9" cy="473.7" r="1.5"/><circle cx="273.4" cy="474.2" r="1.5"/><circle cx="273.9" cy="474.7" r="1.5"/><circle cx="274.4" cy="475.2" r="1.5"/><circle cx="274.8" cy="475.6" r="1.5"/><circle cx="275.3" cy="476.1" r="1.5"/><circle cx="275.8" cy="476.5" r="1.5"/><circle cx="276.2" cy="476.9" r="1.5"/><circle cx="276.7" cy="477.3" r="1.5"/><circle cx="277.2" cy="477.7" r="1.5"/><circle cx="277.6" cy="478.1" r="1.5"/><circle cx="278.1" cy="478.4" r="1.5"/><circle cx="278.6" cy="478.8" r="1.5"/><circle cx="279.1" cy="479.1" r="1.5"/><circle cx="279.5" cy="479.4" r="1.5"/><circle cx="280" cy="479.8" r="1.5"/><circle cx="280.5" cy="480.1" r="1.5"/><circle cx="280.9" cy="480.4" r="1.5"/><circle cx="281.4" cy="480.7" r="1.5"/><circle cx="281.9" cy="480.9" r="1.5"/><circle cx="282.3" cy="481.2" r="1.5"/><circle cx="282.8" cy="481.5" r="1.5"/><circle cx="283.3" cy="481.7" r="1.5"/><circle cx="283.8" cy="482" r="1.5"/><circle cx="284.2" cy="482.2" r="1.5"/><circle cx="284.7" cy="482.4" r="1.5"/><circle cx="285.2" cy="482.7" r="1.5"/><circle cx="285.6" cy="482.9" r="1.5"/><circle cx="286.1" cy="483.1" r="1.5"/><circle cx="286.6" cy="483.3" r="1.5"/><circle cx="287" cy="483.5" r="1.5"/><circle cx="287.5" cy="483.7" r="1.5"/><circle cx="288" cy="483.9" r="1.5"/><circle cx="288.5" cy="484.1" r="1.5"/><circle cx="288.9" cy="484.3" r="1.5"/><circle cx="289.4" cy="484.4" r="1.5"/><circle cx="289.9" cy="484.6" r="1.5"/><circle cx="290.3" cy="484.8" r="1.5"/><circle cx="290.8" cy="484.9" r="1.5"/><circle cx="291.3" cy="485.1" r="1.5"/><circle cx="291.7" cy="485.2" r="1.5"/><circle cx="292.2" cy="485.4" r="1.5"/><circle cx="292.7" cy="485.5" r="1.5"/><circle cx="293.2" cy="485.7" r="1.5"/><circle cx="293.6" cy="485.8" r="1.5"/><circle cx="294.1" cy="485.9" r="1.5"/><circle cx="294.6" cy="486.1" r="1.5"/><circle cx="295" cy="486.2" r="1.5"/><circle cx="295.5" cy="486.3" r="1.5"/><circle cx="296" cy="486.4" r="1.5"/><circle cx="296.4" cy="486.5" r="1.5"/><circle cx="296.9" cy="486.7" r="1.5"/><circle cx="297.4" cy="486.8" r="1.5"/><circle cx="297.9" cy="486.9" r="1.5"/><circle cx="298.3" cy="487" r="1.5"/><circle cx="298.8" cy="487.1" r="1.5"/><circle cx="299.3" cy="487.2" r="1.5"/><circle cx="299.7" cy="487.3" r="1.5"/><circle cx="300.2" cy="487.4" r="1.5"/><circle cx="300.7" cy="487.5" r="1.5"/><circle cx="301.1" cy="487.6" r="1.5"/><circle cx="301.6" cy="487.7" r="1.5"/><circle cx="302.1" cy="487.7" r="1.5"/></g>
</g>
<line x1="20.5" y1="270.6" x2="324.2" y2="270.6" stroke="#333" stroke-width="1.2"/>
<line x1="20.5" y1="493.4" x2="324.2" y2="493.4" stroke="#333" stroke-width="1.2"/>
<line x1="20.5" y1="270" x2="20.5" y2="494" stroke="#333" stroke-width="1.2"/>
<line x1="168.6" y1="270.6" x2="168.6" y2="493.4" stroke="#666" stroke-width="1.1"/>
<line x1="324.2" y1="270" x2="324.2" y2="494" stroke="#777" stroke-width="1.3"/>
<line x1="29.8" y1="493.4" x2="29.8" y2="490.4" stroke="#333" stroke-width="1.0"/>
<line x1="29.8" y1="270.6" x2="29.8" y2="273.6" stroke="#333" stroke-width="1.0"/>
<line x1="39.5" y1="493.4" x2="39.5" y2="490.4" stroke="#333" stroke-width="1.0"/>
<line x1="39.5" y1="270.6" x2="39.5" y2="273.6" stroke="#333" stroke-width="1.0"/>
<line x1="49.2" y1="493.4" x2="49.2" y2="488.4" stroke="#333" stroke-width="1.0"/>
<line x1="49.2" y1="270.6" x2="49.2" y2="275.6" stroke="#333" stroke-width="1.0"/>
<line x1="59" y1="493.4" x2="59" y2="490.4" stroke="#333" stroke-width="1.0"/>
<line x1="59" y1="270.6" x2="59" y2="273.6" stroke="#333" stroke-width="1.0"/>
<line x1="68.8" y1="493.4" x2="68.8" y2="490.4" stroke="#333" stroke-width="1.0"/>
<line x1="68.8" y1="270.6" x2="68.8" y2="273.6" stroke="#333" stroke-width="1.0"/>
<line x1="78.5" y1="493.4" x2="78.5" y2="488.4" stroke="#333" stroke-width="1.0"/>
<line x1="78.5" y1="270.6" x2="78.5" y2="275.6" stroke="#333" stroke-width="1.0"/>
<line x1="88.2" y1="493.4" x2="88.2" y2="490.4" stroke="#333" stroke-width="1.0"/>
<line x1="88.2" y1="270.6" x2="88.2" y2="273.6" stroke="#333" stroke-width="1.0"/>
<line x1="98" y1="493.4" x2="98" y2="490.4" stroke="#333" stroke-width="1.0"/>
<line x1="98" y1="270.6" x2="98" y2="273.6" stroke="#333" stroke-width="1.0"/>
<line x1="107.8" y1="493.4" x2="107.8" y2="488.4" stroke="#333" stroke-width="1.0"/>
<line x1="107.8" y1="270.6" x2="107.8" y2="275.6" stroke="#333" stroke-width="1.0"/>
<line x1="117.5" y1="493.4" x2="117.5" y2="490.4" stroke="#333" stroke-width="1.0"/>
<line x1="117.5" y1="270.6" x2="117.5" y2="273.6" stroke="#333" stroke-width="1.0"/>
<line x1="127.2" y1="493.4" x2="127.2" y2="490.4" stroke="#333" stroke-width="1.0"/>
<line x1="127.2" y1="270.6" x2="127.2" y2="273.6" stroke="#333" stroke-width="1.0"/>
<line x1="137" y1="493.4" x2="137" y2="488.4" stroke="#333" stroke-width="1.0"/>
<line x1="137" y1="270.6" x2="137" y2="275.6" stroke="#333" stroke-width="1.0"/>
<line x1="146.8" y1="493.4" x2="146.8" y2="490.4" stroke="#333" stroke-width="1.0"/>
<line x1="146.8" y1="270.6" x2="146.8" y2="273.6" stroke="#333" stroke-width="1.0"/>
<line x1="156.5" y1="493.4" x2="156.5" y2="490.4" stroke="#333" stroke-width="1.0"/>
<line x1="156.5" y1="270.6" x2="156.5" y2="273.6" stroke="#333" stroke-width="1.0"/>
<line x1="166.2" y1="493.4" x2="166.2" y2="488.4" stroke="#333" stroke-width="1.0"/>
<line x1="166.2" y1="270.6" x2="166.2" y2="275.6" stroke="#333" stroke-width="1.0"/>
<text x="20" y="507.4" font-size="12.8" text-anchor="middle" >30</text>
<text x="49.2" y="507.4" font-size="12.8" text-anchor="middle" >35</text>
<text x="78.5" y="507.4" font-size="12.8" text-anchor="middle" >40</text>
<text x="107.8" y="507.4" font-size="12.8" text-anchor="middle" >45</text>
<text x="137" y="507.4" font-size="12.8" text-anchor="middle" >50</text>
<line x1="193.2" y1="493.4" x2="193.2" y2="488.4" stroke="#333" stroke-width="1.0"/>
<line x1="193.2" y1="270.6" x2="193.2" y2="275.6" stroke="#333" stroke-width="1.0"/>
<line x1="207.8" y1="493.4" x2="207.8" y2="490.4" stroke="#333" stroke-width="1.0"/>
<line x1="207.8" y1="270.6" x2="207.8" y2="273.6" stroke="#333" stroke-width="1.0"/>
<line x1="222.3" y1="493.4" x2="222.3" y2="490.4" stroke="#333" stroke-width="1.0"/>
<line x1="222.3" y1="270.6" x2="222.3" y2="273.6" stroke="#333" stroke-width="1.0"/>
<line x1="236.9" y1="493.4" x2="236.9" y2="488.4" stroke="#333" stroke-width="1.0"/>
<line x1="236.9" y1="270.6" x2="236.9" y2="275.6" stroke="#333" stroke-width="1.0"/>
<line x1="251.4" y1="493.4" x2="251.4" y2="490.4" stroke="#333" stroke-width="1.0"/>
<line x1="251.4" y1="270.6" x2="251.4" y2="273.6" stroke="#333" stroke-width="1.0"/>
<line x1="266" y1="493.4" x2="266" y2="490.4" stroke="#333" stroke-width="1.0"/>
<line x1="266" y1="270.6" x2="266" y2="273.6" stroke="#333" stroke-width="1.0"/>
<line x1="280.5" y1="493.4" x2="280.5" y2="488.4" stroke="#333" stroke-width="1.0"/>
<line x1="280.5" y1="270.6" x2="280.5" y2="275.6" stroke="#333" stroke-width="1.0"/>
<line x1="295.1" y1="493.4" x2="295.1" y2="490.4" stroke="#333" stroke-width="1.0"/>
<line x1="295.1" y1="270.6" x2="295.1" y2="273.6" stroke="#333" stroke-width="1.0"/>
<line x1="309.7" y1="493.4" x2="309.7" y2="490.4" stroke="#333" stroke-width="1.0"/>
<line x1="309.7" y1="270.6" x2="309.7" y2="273.6" stroke="#333" stroke-width="1.0"/>
<text x="193.2" y="507.4" font-size="12.8" text-anchor="middle" >170</text>
<text x="236.9" y="507.4" font-size="12.8" text-anchor="middle" >180</text>
<text x="280.5" y="507.4" font-size="12.8" text-anchor="middle" >190</text>
<text x="324.2" y="507.4" font-size="12.8" text-anchor="middle" >200</text>
<line x1="20.5" y1="477.5" x2="23.5" y2="477.5" stroke="#333" stroke-width="1.0"/>
<line x1="20.5" y1="461.5" x2="25.5" y2="461.5" stroke="#333" stroke-width="1.0"/>
<line x1="20.5" y1="445.6" x2="23.5" y2="445.6" stroke="#333" stroke-width="1.0"/>
<line x1="20.5" y1="429.7" x2="25.5" y2="429.7" stroke="#333" stroke-width="1.0"/>
<line x1="20.5" y1="413.8" x2="23.5" y2="413.8" stroke="#333" stroke-width="1.0"/>
<line x1="20.5" y1="397.8" x2="25.5" y2="397.8" stroke="#333" stroke-width="1.0"/>
<line x1="20.5" y1="381.9" x2="23.5" y2="381.9" stroke="#333" stroke-width="1.0"/>
<line x1="20.5" y1="366" x2="25.5" y2="366" stroke="#333" stroke-width="1.0"/>
<line x1="20.5" y1="350.1" x2="23.5" y2="350.1" stroke="#333" stroke-width="1.0"/>
<line x1="20.5" y1="334.1" x2="25.5" y2="334.1" stroke="#333" stroke-width="1.0"/>
<line x1="20.5" y1="318.2" x2="23.5" y2="318.2" stroke="#333" stroke-width="1.0"/>
<line x1="20.5" y1="302.3" x2="25.5" y2="302.3" stroke="#333" stroke-width="1.0"/>
<line x1="20.5" y1="286.4" x2="23.5" y2="286.4" stroke="#333" stroke-width="1.0"/>
<text x="43.5" y="464.8" font-size="12.8" text-anchor="end" >5</text>
<text x="43.5" y="433" font-size="12.8" text-anchor="end" >10</text>
<text x="43.5" y="401.1" font-size="12.8" text-anchor="end" >15</text>
<text x="43.5" y="369.3" font-size="12.8" text-anchor="end" >20</text>
<text x="43.5" y="337.4" font-size="12.8" text-anchor="end" >25</text>
<text x="43.5" y="305.6" font-size="12.8" text-anchor="end" >30</text>
<line x1="168.6" y1="470.7" x2="173.1" y2="470.7" stroke="#333" stroke-width="1.0"/>
<line x1="168.6" y1="448.4" x2="173.1" y2="448.4" stroke="#333" stroke-width="1.0"/>
<line x1="168.6" y1="426" x2="173.1" y2="426" stroke="#333" stroke-width="1.0"/>
<line x1="168.6" y1="403.7" x2="173.1" y2="403.7" stroke="#333" stroke-width="1.0"/>
<line x1="168.6" y1="381.4" x2="173.1" y2="381.4" stroke="#333" stroke-width="1.0"/>
<line x1="168.6" y1="359.1" x2="173.1" y2="359.1" stroke="#333" stroke-width="1.0"/>
<line x1="168.6" y1="336.8" x2="173.1" y2="336.8" stroke="#333" stroke-width="1.0"/>
<line x1="168.6" y1="314.4" x2="173.1" y2="314.4" stroke="#333" stroke-width="1.0"/>
<line x1="168.6" y1="292.1" x2="173.1" y2="292.1" stroke="#333" stroke-width="1.0"/>
<text x="175" y="474" font-size="12.8" text-anchor="start" >0.2</text>
<text x="175" y="451.7" font-size="12.8" text-anchor="start" >0.4</text>
<text x="175" y="429.3" font-size="12.8" text-anchor="start" >0.6</text>
<text x="175" y="407" font-size="12.8" text-anchor="start" >0.8</text>
<text x="175" y="384.7" font-size="12.8" text-anchor="start" >1.0</text>
<text x="175" y="362.4" font-size="12.8" text-anchor="start" >1.2</text>
<text x="175" y="340.1" font-size="12.8" text-anchor="start" >1.4</text>
<text x="175" y="317.7" font-size="12.8" text-anchor="start" >1.6</text>
<text x="175" y="295.4" font-size="12.8" text-anchor="start" >1.8</text>
<line x1="162.6" y1="274.6" x2="167.6" y2="266.6" stroke="#fff" stroke-width="3"/>
<line x1="163.6" y1="275.1" x2="169.6" y2="266.1" stroke="#444" stroke-width="0.9"/>
<line x1="167.6" y1="275.1" x2="173.6" y2="266.1" stroke="#444" stroke-width="0.9"/>
<line x1="162.6" y1="497.4" x2="167.6" y2="489.4" stroke="#fff" stroke-width="3"/>
<line x1="163.6" y1="497.9" x2="169.6" y2="488.9" stroke="#444" stroke-width="0.9"/>
<line x1="167.6" y1="497.9" x2="173.6" y2="488.9" stroke="#444" stroke-width="0.9"/>
<rect x="44.1" y="278.1" width="17.7" height="14.7" fill="#fff" stroke="#444" stroke-width="1.0"/>
<rect x="192.4" y="277.4" width="17.4" height="14.9" fill="#fff" stroke="#444" stroke-width="1.0"/>
<rect x="20.5" y="478.3" width="17.2" height="15.1" fill="#fff" stroke="#444" stroke-width="1.0"/>
<rect x="284.4" y="277.7" width="32.1" height="15.4" fill="#fff" stroke="#444" stroke-width="1.0"/>
<text x="51.6" y="289.2" font-size="11.7" text-anchor="middle" font-family='"Liberation Sans", sans-serif' style='stroke-width:0.1px'>A</text>
<text x="200.8" y="288.7" font-size="11.7" text-anchor="middle" font-family='"Liberation Sans", sans-serif' style='stroke-width:0.1px'>B</text>
<text x="24.1" y="489.7" font-size="15.5" text-anchor="start" font-family='"Liberation Serif", serif' style='stroke-width:0.1px'>c)</text>
<text x="300.1" y="289.5" font-size="14" text-anchor="middle" font-family='"Liberation Serif", serif' style='stroke-width:0.1px'>0.7 g</text>
<text x="130.9" y="523" font-size="13" text-anchor="start" >Frequency (Hz)</text>
<text transform="translate(12,391.5) rotate(-90)" font-size="13" text-anchor="middle">Power (&#956;W)</text>
<text transform="translate(162.8,391.3) rotate(-90)" font-size="13" text-anchor="middle">Power (&#956;W)</text>
<clipPath id="cAd"><rect x="355.6" y="270.6" width="151.6" height="222.6"/></clipPath>
<clipPath id="cBd"><rect x="507.2" y="270.6" width="152" height="222.6"/></clipPath>
<g clip-path="url(#cAd)">
<polyline points="355.6,491.4 356.1,491.4 356.6,491.3 357.1,491.3 357.6,491.3 358.1,491.3 358.6,491.2 359.1,491.2 359.6,491.2 360.1,491.1 360.6,491.1 361.1,491.1 361.6,491.1 362.1,491 362.6,491 363.1,491 363.6,490.9 364.1,490.9 364.6,490.8 365.1,490.8 365.6,490.8 366.1,490.7 366.6,490.7 367.1,490.7 367.6,490.6 368.1,490.6 368.6,490.5 369.1,490.5 369.6,490.4 370.1,490.4 370.6,490.3 371.1,490.3 371.6,490.2 372.1,490.2 372.6,490.1 373.1,490.1 373.6,490 374.1,490 374.6,489.9 375.1,489.9 375.6,489.8 376.1,489.7 376.6,489.7 377.1,489.6 377.6,489.5 378.1,489.5 378.6,489.4 379.1,489.3 379.6,489.2 380.1,489.2 380.6,489.1 381.1,489 381.6,488.9 382.1,488.8 382.6,488.7 383.1,488.7 383.6,488.6 384.1,488.5 384.6,488.4 385.1,488.3 385.6,488.1 386.1,488 386.6,487.9 387.1,487.8 387.6,487.7 388.1,487.6 388.6,487.4 389.1,487.3 389.6,487.1 390.1,487 390.6,486.8 391.1,486.7 391.6,486.5 392.1,486.4 392.6,486.2 393.1,486 393.6,485.8 394.1,485.6 394.6,485.4 395.1,485.2 395.6,485 396.1,484.8 396.6,484.5 397.1,484.3 397.6,484 398.1,483.8 398.6,483.5 399.1,483.2 399.6,482.9 400.1,482.6 400.6,482.2 401.1,481.9 401.6,481.5 402.1,481.1 402.6,480.7 403.1,480.3 403.6,479.8 404.1,479.4 404.6,478.9 405.1,478.4 405.6,477.8 406.1,477.2 406.6,476.6 407.1,476 407.6,475.3 408.1,474.6 408.6,473.8 409.1,473 409.6,472.1 410.1,471.2 410.6,470.2 411.1,469.2 411.6,468.1 412.1,466.9 412.6,465.6 413.1,464.3 413.6,462.9 414.1,461.3 414.6,459.6 415.1,457.9 415.6,455.9 416.1,453.9 416.6,451.7 417.1,449.3 417.6,446.7 418.1,443.9 418.6,440.9 419.1,437.7 419.6,434.2 420.1,430.4 420.6,426.3 421.1,421.9 421.6,417.3 422.1,412.2 422.6,406.9 423.1,401.3 423.6,395.3 424.1,389.2 424.6,382.8 425.1,376.4 425.6,370.1 426.1,363.9 426.6,358.2 427.1,353.1 427.6,348.9 428.1,345.8 428.6,344.2 428.8,344 429.1,344.4 429.6,346.2 430.1,349.3 430.6,353.5 431.1,358.4 431.6,364 432.1,369.9 432.6,376.1 433.1,382.3 433.6,388.4 434.1,394.4 434.6,400.2 435.1,405.7 435.6,411 436.1,415.9 436.6,420.5 437.1,424.8 437.6,428.9 438.1,432.6 438.6,436.1 439.1,439.4 439.6,442.4 440.1,445.2 440.6,447.8 441.1,450.2 441.6,452.5 442.1,454.6 442.6,456.5 443.1,458.3 443.6,460 444.1,461.6 444.6,463.1 445.1,464.5 445.6,465.8 446.1,467 446.6,468.1 447.1,469.2 447.6,470.2 448.1,471.1 448.6,472 449.1,472.9 449.6,473.7 450.1,474.4 450.6,475.1 451.1,475.8 451.6,476.4 452.1,477 452.6,477.6 453.1,478.1 453.6,478.7 454.1,479.1 454.6,479.6 455.1,480 455.6,480.5 456.1,480.9 456.6,481.3 457.1,481.6 457.6,482 458.1,482.3 458.6,482.6 459.1,482.9 459.6,483.2 460.1,483.5 460.6,483.8 461.1,484 461.6,484.3 462.1,484.5 462.6,484.8 463.1,485 463.6,485.2 464.1,485.4 464.6,485.6 465.1,485.8 465.6,486 466.1,486.1 466.6,486.3 467.1,486.5 467.6,486.6 468.1,486.8 468.6,486.9 469.1,487.1 469.6,487.2 470.1,487.4 470.6,487.5 471.1,487.6 471.6,487.7 472.1,487.8 472.6,488 473.1,488.1 473.6,488.2 474.1,488.3 474.6,488.4 475.1,488.5 475.6,488.6 476.1,488.7 476.6,488.8 477.1,488.8 477.6,488.9 478.1,489 478.6,489.1 479.1,489.2 479.6,489.2 480.1,489.3 480.6,489.4 481.1,489.5 481.6,489.5 482.1,489.6 482.6,489.7 483.1,489.7 483.6,489.8 484.1,489.8 484.6,489.9 485.1,489.9 485.6,490 486.1,490.1 486.6,490.1 487.1,490.2 487.6,490.2 488.1,490.3 488.6,490.3 489.1,490.4 489.6,490.4 490.1,490.4 490.6,490.5 491.1,490.5 491.6,490.6 492.1,490.6 492.6,490.7 493.1,490.7 493.6,490.7 494.1,490.8 494.6,490.8 495.1,490.8 495.6,490.9 496.1,490.9 496.6,490.9 497.1,491 497.6,491 498.1,491 498.6,491.1 499.1,491.1 499.6,491.1 500.1,491.2 500.6,491.2 501.1,491.2 501.6,491.2 502.1,491.3 502.6,491.3 503.1,491.3 503.6,491.4 504.1,491.4 504.6,491.4 505.1,491.4 505.6,491.4 506.1,491.5 506.6,491.5 507.1,491.5" fill="none" stroke="#333" stroke-width="0.9" stroke-linejoin="round" />
<polyline points="384.9,489.6 385.5,489.5 386.1,489.5 386.7,489.4 387.3,489.3 387.9,489.2 388.5,489.1 389.1,489 389.7,488.9 390.3,488.8 390.9,488.6 391.5,488.5 392.1,488.4 392.7,488.3 393.3,488.2 393.9,488 394.5,487.9 395.1,487.8 395.7,487.6 396.3,487.5 396.9,487.3 397.4,487.2 398,487 398.6,486.8 399.2,486.7 399.8,486.5 400.4,486.3 401,486.1 401.6,485.9 402.2,485.7 402.8,485.5 403.4,485.2 404,485 404.6,484.7 405.2,484.5 405.8,484.2 406.4,483.9 407,483.6 407.6,483.2 408.2,482.9 408.8,482.5 409.3,482.1 409.9,481.6 410.5,481.1 411.1,480.6 411.7,480 412.3,479.4 412.9,478.7 413.5,477.9 414.1,477 414.7,475.9 415.3,474.8 415.9,473.4 416.5,471.8 417.1,469.9 417.7,467.6 418.3,464.8 418.9,461.3 419.5,456.8 420.1,450.9 420.7,443 421.2,432.2 421.8,417.3 422.4,396.6 423,369 423.6,336.6 424.2,308.1 424.8,293.3 425.4,290 426,289.8 426.4,289.8 426.6,290.8 427.2,294.7 427.8,299.2 428.4,304.4 429,310.8 429.6,318 430.2,325.9 430.8,334.3 431.4,343 432,351.8 432.6,360.5 433.1,369.1 433.7,377.3 434.3,385.1 434.9,392.6 435.5,399.6 436.1,406.1 436.7,412.2 437.3,417.8 437.9,423 438.5,427.8 439.1,432.3 439.7,436.4 440.3,440.1 440.9,443.6 441.5,446.8 442.1,449.7 442.7,452.4 443.3,454.9 443.9,457.2 444.5,459.3 445,461.2 445.6,463.1 446.2,464.7 446.8,466.3 447.4,467.7 448,469.1 448.6,470.3 449.2,471.5 449.8,472.6 450.4,473.6 451,474.5 451.6,475.4 452.2,476.2 452.8,477 453.4,477.7 454,478.4 454.6,479 455.2,479.6 455.8,480.2 456.4,480.7 456.9,481.3 457.5,481.7 458.1,482.2 458.7,482.6 459.3,483 459.9,483.4 460.5,483.8 461.1,484.1 461.7,484.4 462.3,484.7 462.9,485 463.5,485.3 464.1,485.6 464.7,485.8 465.3,486.1 465.9,486.3 466.5,486.5 467.1,486.7 467.7,486.9 468.3,487.1 468.8,487.3 469.4,487.5 470,487.7 470.6,487.8 471.2,488 471.8,488.1 472.4,488.3 473,488.4 473.6,488.6 474.2,488.7 474.8,488.8 475.4,488.9 476,489 476.6,489.1 477.2,489.3 477.8,489.4 478.4,489.5 479,489.5 479.6,489.6 480.2,489.7 480.7,489.8 481.3,489.9 481.9,490 482.5,490.1 483.1,490.1 483.7,490.2 484.3,490.3 484.9,490.3 485.5,490.4 486.1,490.5 486.7,490.5 487.3,490.6 487.9,490.6 488.5,490.7 489.1,490.8 489.7,490.8 490.3,490.9 490.9,490.9 491.5,491 492.1,491 492.6,491 493.2,491.1 493.8,491.1 494.4,491.2 495,491.2 495.6,491.3 496.2,491.3 496.8,491.3 497.4,491.4 498,491.4 498.6,491.4 499.2,491.5 499.8,491.5 500.4,491.5 501,491.6 501.6,491.6 502.2,491.6 502.8,491.7 503.4,491.7 504,491.7 504.5,491.7 505.1,491.8 505.7,491.8 506.3,491.8 506.9,491.8" fill="none" stroke="#ff5050" stroke-width="1.0" stroke-linejoin="round" />
<g fill="#f00"><circle cx="384.9" cy="489.6" r="1.5"/><circle cx="385.5" cy="489.5" r="1.5"/><circle cx="386.1" cy="489.5" r="1.5"/><circle cx="386.7" cy="489.4" r="1.5"/><circle cx="387.3" cy="489.3" r="1.5"/><circle cx="387.9" cy="489.2" r="1.5"/><circle cx="388.5" cy="489.1" r="1.5"/><circle cx="389.1" cy="489" r="1.5"/><circle cx="389.7" cy="488.9" r="1.5"/><circle cx="390.3" cy="488.8" r="1.5"/><circle cx="390.9" cy="488.6" r="1.5"/><circle cx="391.5" cy="488.5" r="1.5"/><circle cx="392.1" cy="488.4" r="1.5"/><circle cx="392.7" cy="488.3" r="1.5"/><circle cx="393.3" cy="488.2" r="1.5"/><circle cx="393.9" cy="488" r="1.5"/><circle cx="394.5" cy="487.9" r="1.5"/><circle cx="395.1" cy="487.8" r="1.5"/><circle cx="395.7" cy="487.6" r="1.5"/><circle cx="396.3" cy="487.5" r="1.5"/><circle cx="396.9" cy="487.3" r="1.5"/><circle cx="397.4" cy="487.2" r="1.5"/><circle cx="398" cy="487" r="1.5"/><circle cx="398.6" cy="486.8" r="1.5"/><circle cx="399.2" cy="486.7" r="1.5"/><circle cx="399.8" cy="486.5" r="1.5"/><circle cx="400.4" cy="486.3" r="1.5"/><circle cx="401" cy="486.1" r="1.5"/><circle cx="401.6" cy="485.9" r="1.5"/><circle cx="402.2" cy="485.7" r="1.5"/><circle cx="402.8" cy="485.5" r="1.5"/><circle cx="403.4" cy="485.2" r="1.5"/><circle cx="404" cy="485" r="1.5"/><circle cx="404.6" cy="484.7" r="1.5"/><circle cx="405.2" cy="484.5" r="1.5"/><circle cx="405.8" cy="484.2" r="1.5"/><circle cx="406.4" cy="483.9" r="1.5"/><circle cx="407" cy="483.6" r="1.5"/><circle cx="407.6" cy="483.2" r="1.5"/><circle cx="408.2" cy="482.9" r="1.5"/><circle cx="408.8" cy="482.5" r="1.5"/><circle cx="409.3" cy="482.1" r="1.5"/><circle cx="409.9" cy="481.6" r="1.5"/><circle cx="410.5" cy="481.1" r="1.5"/><circle cx="411.1" cy="480.6" r="1.5"/><circle cx="411.7" cy="480" r="1.5"/><circle cx="412.3" cy="479.4" r="1.5"/><circle cx="412.9" cy="478.7" r="1.5"/><circle cx="413.5" cy="477.9" r="1.5"/><circle cx="414.1" cy="477" r="1.5"/><circle cx="414.7" cy="475.9" r="1.5"/><circle cx="415.3" cy="474.8" r="1.5"/><circle cx="415.9" cy="473.4" r="1.5"/><circle cx="416.5" cy="471.8" r="1.5"/><circle cx="417.1" cy="469.9" r="1.5"/><circle cx="417.7" cy="467.6" r="1.5"/><circle cx="418.3" cy="464.8" r="1.5"/><circle cx="418.9" cy="461.3" r="1.5"/><circle cx="419.5" cy="456.8" r="1.5"/><circle cx="420.1" cy="450.9" r="1.5"/><circle cx="420.7" cy="443" r="1.5"/><circle cx="421.2" cy="432.2" r="1.5"/><circle cx="421.8" cy="417.3" r="1.5"/><circle cx="422.4" cy="396.6" r="1.5"/><circle cx="423" cy="369" r="1.5"/><circle cx="423.6" cy="336.6" r="1.5"/><circle cx="424.2" cy="308.1" r="1.5"/><circle cx="424.8" cy="293.3" r="1.5"/><circle cx="425.4" cy="290" r="1.5"/><circle cx="426" cy="289.8" r="1.5"/><circle cx="426.4" cy="289.8" r="1.5"/><circle cx="426.6" cy="290.8" r="1.5"/><circle cx="427.2" cy="294.7" r="1.5"/><circle cx="427.8" cy="299.2" r="1.5"/><circle cx="428.4" cy="304.4" r="1.5"/><circle cx="429" cy="310.8" r="1.5"/><circle cx="429.6" cy="318" r="1.5"/><circle cx="430.2" cy="325.9" r="1.5"/><circle cx="430.8" cy="334.3" r="1.5"/><circle cx="431.4" cy="343" r="1.5"/><circle cx="432" cy="351.8" r="1.5"/><circle cx="432.6" cy="360.5" r="1.5"/><circle cx="433.1" cy="369.1" r="1.5"/><circle cx="433.7" cy="377.3" r="1.5"/><circle cx="434.3" cy="385.1" r="1.5"/><circle cx="434.9" cy="392.6" r="1.5"/><circle cx="435.5" cy="399.6" r="1.5"/><circle cx="436.1" cy="406.1" r="1.5"/><circle cx="436.7" cy="412.2" r="1.5"/><circle cx="437.3" cy="417.8" r="1.5"/><circle cx="437.9" cy="423" r="1.5"/><circle cx="438.5" cy="427.8" r="1.5"/><circle cx="439.1" cy="432.3" r="1.5"/><circle cx="439.7" cy="436.4" r="1.5"/><circle cx="440.3" cy="440.1" r="1.5"/><circle cx="440.9" cy="443.6" r="1.5"/><circle cx="441.5" cy="446.8" r="1.5"/><circle cx="442.1" cy="449.7" r="1.5"/><circle cx="442.7" cy="452.4" r="1.5"/><circle cx="443.3" cy="454.9" r="1.5"/><circle cx="443.9" cy="457.2" r="1.5"/><circle cx="444.5" cy="459.3" r="1.5"/><circle cx="445" cy="461.2" r="1.5"/><circle cx="445.6" cy="463.1" r="1.5"/><circle cx="446.2" cy="464.7" r="1.5"/><circle cx="446.8" cy="466.3" r="1.5"/><circle cx="447.4" cy="467.7" r="1.5"/><circle cx="448" cy="469.1" r="1.5"/><circle cx="448.6" cy="470.3" r="1.5"/><circle cx="449.2" cy="471.5" r="1.5"/><circle cx="449.8" cy="472.6" r="1.5"/><circle cx="450.4" cy="473.6" r="1.5"/><circle cx="451" cy="474.5" r="1.5"/><circle cx="451.6" cy="475.4" r="1.5"/><circle cx="452.2" cy="476.2" r="1.5"/><circle cx="452.8" cy="477" r="1.5"/><circle cx="453.4" cy="477.7" r="1.5"/><circle cx="454" cy="478.4" r="1.5"/><circle cx="454.6" cy="479" r="1.5"/><circle cx="455.2" cy="479.6" r="1.5"/><circle cx="455.8" cy="480.2" r="1.5"/><circle cx="456.4" cy="480.7" r="1.5"/><circle cx="456.9" cy="481.3" r="1.5"/><circle cx="457.5" cy="481.7" r="1.5"/><circle cx="458.1" cy="482.2" r="1.5"/><circle cx="458.7" cy="482.6" r="1.5"/><circle cx="459.3" cy="483" r="1.5"/><circle cx="459.9" cy="483.4" r="1.5"/><circle cx="460.5" cy="483.8" r="1.5"/><circle cx="461.1" cy="484.1" r="1.5"/><circle cx="461.7" cy="484.4" r="1.5"/><circle cx="462.3" cy="484.7" r="1.5"/><circle cx="462.9" cy="485" r="1.5"/><circle cx="463.5" cy="485.3" r="1.5"/><circle cx="464.1" cy="485.6" r="1.5"/><circle cx="464.7" cy="485.8" r="1.5"/><circle cx="465.3" cy="486.1" r="1.5"/><circle cx="465.9" cy="486.3" r="1.5"/><circle cx="466.5" cy="486.5" r="1.5"/><circle cx="467.1" cy="486.7" r="1.5"/><circle cx="467.7" cy="486.9" r="1.5"/><circle cx="468.3" cy="487.1" r="1.5"/><circle cx="468.8" cy="487.3" r="1.5"/><circle cx="469.4" cy="487.5" r="1.5"/><circle cx="470" cy="487.7" r="1.5"/><circle cx="470.6" cy="487.8" r="1.5"/><circle cx="471.2" cy="488" r="1.5"/><circle cx="471.8" cy="488.1" r="1.5"/><circle cx="472.4" cy="488.3" r="1.5"/><circle cx="473" cy="488.4" r="1.5"/><circle cx="473.6" cy="488.6" r="1.5"/><circle cx="474.2" cy="488.7" r="1.5"/><circle cx="474.8" cy="488.8" r="1.5"/><circle cx="475.4" cy="488.9" r="1.5"/><circle cx="476" cy="489" r="1.5"/><circle cx="476.6" cy="489.1" r="1.5"/><circle cx="477.2" cy="489.3" r="1.5"/><circle cx="477.8" cy="489.4" r="1.5"/><circle cx="478.4" cy="489.5" r="1.5"/><circle cx="479" cy="489.5" r="1.5"/><circle cx="479.6" cy="489.6" r="1.5"/><circle cx="480.2" cy="489.7" r="1.5"/><circle cx="480.7" cy="489.8" r="1.5"/><circle cx="481.3" cy="489.9" r="1.5"/><circle cx="481.9" cy="490" r="1.5"/><circle cx="482.5" cy="490.1" r="1.5"/><circle cx="483.1" cy="490.1" r="1.5"/><circle cx="483.7" cy="490.2" r="1.5"/><circle cx="484.3" cy="490.3" r="1.5"/><circle cx="484.9" cy="490.3" r="1.5"/><circle cx="485.5" cy="490.4" r="1.5"/><circle cx="486.1" cy="490.5" r="1.5"/><circle cx="486.7" cy="490.5" r="1.5"/><circle cx="487.3" cy="490.6" r="1.5"/><circle cx="487.9" cy="490.6" r="1.5"/><circle cx="488.5" cy="490.7" r="1.5"/><circle cx="489.1" cy="490.8" r="1.5"/><circle cx="489.7" cy="490.8" r="1.5"/><circle cx="490.3" cy="490.9" r="1.5"/><circle cx="490.9" cy="490.9" r="1.5"/><circle cx="491.5" cy="491" r="1.5"/><circle cx="492.1" cy="491" r="1.5"/><circle cx="492.6" cy="491" r="1.5"/><circle cx="493.2" cy="491.1" r="1.5"/><circle cx="493.8" cy="491.1" r="1.5"/><circle cx="494.4" cy="491.2" r="1.5"/><circle cx="495" cy="491.2" r="1.5"/><circle cx="495.6" cy="491.3" r="1.5"/><circle cx="496.2" cy="491.3" r="1.5"/><circle cx="496.8" cy="491.3" r="1.5"/><circle cx="497.4" cy="491.4" r="1.5"/><circle cx="498" cy="491.4" r="1.5"/><circle cx="498.6" cy="491.4" r="1.5"/><circle cx="499.2" cy="491.5" r="1.5"/><circle cx="499.8" cy="491.5" r="1.5"/><circle cx="500.4" cy="491.5" r="1.5"/><circle cx="501" cy="491.6" r="1.5"/><circle cx="501.6" cy="491.6" r="1.5"/><circle cx="502.2" cy="491.6" r="1.5"/><circle cx="502.8" cy="491.7" r="1.5"/><circle cx="503.4" cy="491.7" r="1.5"/><circle cx="504" cy="491.7" r="1.5"/><circle cx="504.5" cy="491.7" r="1.5"/><circle cx="505.1" cy="491.8" r="1.5"/><circle cx="505.7" cy="491.8" r="1.5"/><circle cx="506.3" cy="491.8" r="1.5"/><circle cx="506.9" cy="491.8" r="1.5"/></g>
</g>
<g clip-path="url(#cBd)">
<polyline points="569,478.2 569.5,477.9 570,477.6 570.5,477.2 571,476.8 571.5,476.4 572,476 572.5,475.6 573,475.2 573.5,474.8 574,474.3 574.5,473.9 575,473.4 575.5,472.9 576,472.3 576.5,471.8 577,471.2 577.5,470.7 578,470.1 578.5,469.4 579,468.8 579.5,468.1 580,467.4 580.5,466.7 581,465.9 581.5,465.1 582,464.3 582.5,463.5 583,462.6 583.5,461.6 584,460.7 584.5,459.7 585,458.6 585.5,457.5 586,456.4 586.5,455.2 587,453.9 587.5,452.6 588,451.3 588.5,449.9 589,448.4 589.5,446.8 590,445.2 590.5,443.5 591,441.7 591.5,439.8 592,437.9 592.5,435.8 593,433.7 593.5,431.5 594,429.1 594.5,426.7 595,424.1 595.5,421.4 596,418.6 596.5,415.7 597,412.6 597.5,409.4 598,406.1 598.5,402.7 599,399.1 599.5,395.4 600,391.5 600.5,387.5 601,383.4 601.5,379.2 602,374.9 602.5,370.6 603,366.1 603.5,361.7 604,357.2 604.5,352.7 605,348.3 605.5,344 606,339.8 606.5,335.8 607,332 607.5,328.5 608,325.3 608.5,322.5 609,320.1 609.5,318.2 610,316.7 610.5,315.8 611,315.3 611.1,315.3 611.5,315.4 612,316.1 612.5,317.2 613,318.9 613.5,321 614,323.6 614.5,326.6 615,329.9 615.5,333.5 616,337.4 616.5,341.5 617,345.7 617.5,350.1 618,354.5 618.5,359 619,363.5 619.5,367.9 620,372.3 620.5,376.7 621,380.9 621.5,385.1 622,389.1 622.5,393.1 623,396.9 623.5,400.5 624,404.1 624.5,407.5 625,410.7 625.5,413.9 626,416.9 626.5,419.7 627,422.5 627.5,425.1 628,427.7 628.5,430.1 629,432.4 629.5,434.6 630,436.7 630.5,438.7 631,440.6 631.5,442.4 632,444.2 632.5,445.8 633,447.4 633.5,449 634,450.4 634.5,451.8 635,453.2 635.5,454.4 636,455.7 636.5,456.8 637,458 637.5,459 638,460.1 638.5,461.1 639,462 639.5,462.9 640,463.8 640.5,464.6 641,465.5 641.5,466.2 642,467 642.5,467.7 643,468.4 643.5,469.1 644,469.7 644.5,470.3 645,470.9 645.5,471.5 646,472 646.5,472.6 647,473.1 647.5,473.6 648,474 648.5,474.5 649,475 649.5,475.4 650,475.8 650.5,476.2 651,476.6 651.5,477 652,477.3 652.5,477.7 653,478 653.5,478.4 654,478.7" fill="none" stroke="#333" stroke-width="0.9" stroke-linejoin="round" />
<polyline points="507.2,489.4 507.7,489.4 508.1,489.3 508.6,489.3 509,489.2 509.5,489.2 510,489.1 510.4,489.1 510.9,489 511.3,489 511.8,488.9 512.3,488.8 512.7,488.8 513.2,488.7 513.6,488.7 514.1,488.6 514.6,488.6 515,488.5 515.5,488.4 515.9,488.4 516.4,488.3 516.9,488.2 517.3,488.2 517.8,488.1 518.2,488 518.7,488 519.2,487.9 519.6,487.8 520.1,487.7 520.5,487.7 521,487.6 521.5,487.5 521.9,487.4 522.4,487.3 522.8,487.2 523.3,487.1 523.8,487.1 524.2,487 524.7,486.9 525.1,486.8 525.6,486.7 526.1,486.6 526.5,486.5 527,486.3 527.4,486.2 527.9,486.1 528.4,486 528.8,485.9 529.3,485.8 529.7,485.6 530.2,485.5 530.7,485.4 531.1,485.2 531.6,485.1 532,484.9 532.5,484.8 533,484.6 533.4,484.5 533.9,484.3 534.3,484.2 534.8,484 535.3,483.8 535.7,483.6 536.2,483.4 536.6,483.3 537.1,483.1 537.6,482.9 538,482.6 538.5,482.4 538.9,482.2 539.4,482 539.9,481.7 540.3,481.5 540.8,481.2 541.2,480.9 541.7,480.7 542.2,480.4 542.6,480.1 543.1,479.8 543.5,479.4 544,479.1 544.5,478.8 544.9,478.4 545.4,478 545.8,477.6 546.3,477.2 546.8,476.8 547.2,476.3 547.7,475.9 548.1,475.4 548.6,474.9 549.1,474.4 549.5,473.8 550,473.2 550.4,472.6 550.9,472 551.4,471.3 551.8,470.6 552.3,469.9 552.7,469.1 553.2,468.3 553.7,467.4 554.1,466.5 554.6,465.5 555,464.5 555.5,463.4 556,462.2 556.4,461 556.9,459.7 557.3,458.4 557.8,456.9 558.3,455.3 558.7,453.7 559.2,451.9 559.6,450 560.1,447.9 560.6,445.8 561,443.4 561.5,440.9 561.9,438.3 562.4,435.4 562.9,432.3 563.3,429 563.8,425.4 564.2,421.6 564.7,417.6 565.2,413.2 565.6,408.6 566.1,403.7 566.5,398.5 567,393.1 567.5,387.5 567.9,381.7 568.4,375.8 568.8,370 569.3,364.3 569.8,358.9 570.2,354 570.7,349.7 571.1,346.3 571.6,343.8 572.1,342.1 572.5,341.1 573,340.6 573.4,340.4 573.7,340.4 573.9,340.5 574.4,341.2 574.8,342.4 575.3,343.8 575.7,345.5 576.2,347.4 576.7,349.5 577.1,351.7 577.6,354.2 578,356.8 578.5,359.5 579,362.4 579.4,365.4 579.9,368.5 580.3,371.6 580.8,374.8 581.3,378 581.7,381.3 582.2,384.5 582.6,387.7 583.1,390.9 583.6,394.1 584,397.2 584.5,400.3 584.9,403.3 585.4,406.2 585.9,409.1 586.3,411.9 586.8,414.6 587.2,417.2 587.7,419.7 588.2,422.2 588.6,424.6 589.1,426.9 589.5,429.1 590,431.2 590.5,433.3 590.9,435.3 591.4,437.2 591.8,439.1 592.3,440.8 592.8,442.5 593.2,444.2 593.7,445.7 594.1,447.3 594.6,448.7 595.1,450.1 595.5,451.5 596,452.8 596.4,454 596.9,455.2 597.4,456.3 597.8,457.4 598.3,458.5 598.7,459.5 599.2,460.5 599.7,461.5 600.1,462.4 600.6,463.2 601,464.1 601.5,464.9 602,465.7 602.4,466.4 602.9,467.2 603.3,467.9 603.8,468.5 604.3,469.2 604.7,469.8 605.2,470.4 605.6,471 606.1,471.6 606.6,472.1 607,472.6 607.5,473.2 607.9,473.6 608.4,474.1 608.9,474.6 609.3,475 609.8,475.5 610.2,475.9 610.7,476.3 611.2,476.7 611.6,477 612.1,477.4 612.5,477.8 613,478.1 613.5,478.4 613.9,478.8 614.4,479.1 614.8,479.4 615.3,479.7 615.8,480 616.2,480.2 616.7,480.5 617.1,480.8 617.6,481 618.1,481.3 618.5,481.5 619,481.7 619.4,482 619.9,482.2 620.4,482.4 620.8,482.6 621.3,482.8 621.7,483 622.2,483.2 622.7,483.4 623.1,483.6 623.6,483.8 624,483.9 624.5,484.1 625,484.3 625.4,484.4 625.9,484.6 626.3,484.7 626.8,484.9 627.3,485 627.7,485.2 628.2,485.3 628.6,485.4 629.1,485.6 629.6,485.7 630,485.8 630.5,486 630.9,486.1 631.4,486.2 631.9,486.3 632.3,486.4 632.8,486.5 633.2,486.6 633.7,486.7 634.2,486.8 634.6,486.9 635.1,487 635.5,487.1 636,487.2 636.5,487.3 636.9,487.4 637.4,487.5 637.8,487.6 638.3,487.7" fill="none" stroke="#ff5050" stroke-width="0.6" stroke-linejoin="round" />
<g fill="#f00"><circle cx="507.2" cy="489.4" r="1.5"/><circle cx="507.7" cy="489.4" r="1.5"/><circle cx="508.1" cy="489.3" r="1.5"/><circle cx="508.6" cy="489.3" r="1.5"/><circle cx="509" cy="489.2" r="1.5"/><circle cx="509.5" cy="489.2" r="1.5"/><circle cx="510" cy="489.1" r="1.5"/><circle cx="510.4" cy="489.1" r="1.5"/><circle cx="510.9" cy="489" r="1.5"/><circle cx="511.3" cy="489" r="1.5"/><circle cx="511.8" cy="488.9" r="1.5"/><circle cx="512.3" cy="488.8" r="1.5"/><circle cx="512.7" cy="488.8" r="1.5"/><circle cx="513.2" cy="488.7" r="1.5"/><circle cx="513.6" cy="488.7" r="1.5"/><circle cx="514.1" cy="488.6" r="1.5"/><circle cx="514.6" cy="488.6" r="1.5"/><circle cx="515" cy="488.5" r="1.5"/><circle cx="515.5" cy="488.4" r="1.5"/><circle cx="515.9" cy="488.4" r="1.5"/><circle cx="516.4" cy="488.3" r="1.5"/><circle cx="516.9" cy="488.2" r="1.5"/><circle cx="517.3" cy="488.2" r="1.5"/><circle cx="517.8" cy="488.1" r="1.5"/><circle cx="518.2" cy="488" r="1.5"/><circle cx="518.7" cy="488" r="1.5"/><circle cx="519.2" cy="487.9" r="1.5"/><circle cx="519.6" cy="487.8" r="1.5"/><circle cx="520.1" cy="487.7" r="1.5"/><circle cx="520.5" cy="487.7" r="1.5"/><circle cx="521" cy="487.6" r="1.5"/><circle cx="521.5" cy="487.5" r="1.5"/><circle cx="521.9" cy="487.4" r="1.5"/><circle cx="522.4" cy="487.3" r="1.5"/><circle cx="522.8" cy="487.2" r="1.5"/><circle cx="523.3" cy="487.1" r="1.5"/><circle cx="523.8" cy="487.1" r="1.5"/><circle cx="524.2" cy="487" r="1.5"/><circle cx="524.7" cy="486.9" r="1.5"/><circle cx="525.1" cy="486.8" r="1.5"/><circle cx="525.6" cy="486.7" r="1.5"/><circle cx="526.1" cy="486.6" r="1.5"/><circle cx="526.5" cy="486.5" r="1.5"/><circle cx="527" cy="486.3" r="1.5"/><circle cx="527.4" cy="486.2" r="1.5"/><circle cx="527.9" cy="486.1" r="1.5"/><circle cx="528.4" cy="486" r="1.5"/><circle cx="528.8" cy="485.9" r="1.5"/><circle cx="529.3" cy="485.8" r="1.5"/><circle cx="529.7" cy="485.6" r="1.5"/><circle cx="530.2" cy="485.5" r="1.5"/><circle cx="530.7" cy="485.4" r="1.5"/><circle cx="531.1" cy="485.2" r="1.5"/><circle cx="531.6" cy="485.1" r="1.5"/><circle cx="532" cy="484.9" r="1.5"/><circle cx="532.5" cy="484.8" r="1.5"/><circle cx="533" cy="484.6" r="1.5"/><circle cx="533.4" cy="484.5" r="1.5"/><circle cx="533.9" cy="484.3" r="1.5"/><circle cx="534.3" cy="484.2" r="1.5"/><circle cx="534.8" cy="484" r="1.5"/><circle cx="535.3" cy="483.8" r="1.5"/><circle cx="535.7" cy="483.6" r="1.5"/><circle cx="536.2" cy="483.4" r="1.5"/><circle cx="536.6" cy="483.3" r="1.5"/><circle cx="537.1" cy="483.1" r="1.5"/><circle cx="537.6" cy="482.9" r="1.5"/><circle cx="538" cy="482.6" r="1.5"/><circle cx="538.5" cy="482.4" r="1.5"/><circle cx="538.9" cy="482.2" r="1.5"/><circle cx="539.4" cy="482" r="1.5"/><circle cx="539.9" cy="481.7" r="1.5"/><circle cx="540.3" cy="481.5" r="1.5"/><circle cx="540.8" cy="481.2" r="1.5"/><circle cx="541.2" cy="480.9" r="1.5"/><circle cx="541.7" cy="480.7" r="1.5"/><circle cx="542.2" cy="480.4" r="1.5"/><circle cx="542.6" cy="480.1" r="1.5"/><circle cx="543.1" cy="479.8" r="1.5"/><circle cx="543.5" cy="479.4" r="1.5"/><circle cx="544" cy="479.1" r="1.5"/><circle cx="544.5" cy="478.8" r="1.5"/><circle cx="544.9" cy="478.4" r="1.5"/><circle cx="545.4" cy="478" r="1.5"/><circle cx="545.8" cy="477.6" r="1.5"/><circle cx="546.3" cy="477.2" r="1.5"/><circle cx="546.8" cy="476.8" r="1.5"/><circle cx="547.2" cy="476.3" r="1.5"/><circle cx="547.7" cy="475.9" r="1.5"/><circle cx="548.1" cy="475.4" r="1.5"/><circle cx="548.6" cy="474.9" r="1.5"/><circle cx="549.1" cy="474.4" r="1.5"/><circle cx="549.5" cy="473.8" r="1.5"/><circle cx="550" cy="473.2" r="1.5"/><circle cx="550.4" cy="472.6" r="1.5"/><circle cx="550.9" cy="472" r="1.5"/><circle cx="551.4" cy="471.3" r="1.5"/><circle cx="551.8" cy="470.6" r="1.5"/><circle cx="552.3" cy="469.9" r="1.5"/><circle cx="552.7" cy="469.1" r="1.5"/><circle cx="553.2" cy="468.3" r="1.5"/><circle cx="553.7" cy="467.4" r="1.5"/><circle cx="554.1" cy="466.5" r="1.5"/><circle cx="554.6" cy="465.5" r="1.5"/><circle cx="555" cy="464.5" r="1.5"/><circle cx="555.5" cy="463.4" r="1.5"/><circle cx="556" cy="462.2" r="1.5"/><circle cx="556.4" cy="461" r="1.5"/><circle cx="556.9" cy="459.7" r="1.5"/><circle cx="557.3" cy="458.4" r="1.5"/><circle cx="557.8" cy="456.9" r="1.5"/><circle cx="558.3" cy="455.3" r="1.5"/><circle cx="558.7" cy="453.7" r="1.5"/><circle cx="559.2" cy="451.9" r="1.5"/><circle cx="559.6" cy="450" r="1.5"/><circle cx="560.1" cy="447.9" r="1.5"/><circle cx="560.6" cy="445.8" r="1.5"/><circle cx="561" cy="443.4" r="1.5"/><circle cx="561.5" cy="440.9" r="1.5"/><circle cx="561.9" cy="438.3" r="1.5"/><circle cx="562.4" cy="435.4" r="1.5"/><circle cx="562.9" cy="432.3" r="1.5"/><circle cx="563.3" cy="429" r="1.5"/><circle cx="563.8" cy="425.4" r="1.5"/><circle cx="564.2" cy="421.6" r="1.5"/><circle cx="564.7" cy="417.6" r="1.5"/><circle cx="565.2" cy="413.2" r="1.5"/><circle cx="565.6" cy="408.6" r="1.5"/><circle cx="566.1" cy="403.7" r="1.5"/><circle cx="566.5" cy="398.5" r="1.5"/><circle cx="567" cy="393.1" r="1.5"/><circle cx="567.5" cy="387.5" r="1.5"/><circle cx="567.9" cy="381.7" r="1.5"/><circle cx="568.4" cy="375.8" r="1.5"/><circle cx="568.8" cy="370" r="1.5"/><circle cx="569.3" cy="364.3" r="1.5"/><circle cx="569.8" cy="358.9" r="1.5"/><circle cx="570.2" cy="354" r="1.5"/><circle cx="570.7" cy="349.7" r="1.5"/><circle cx="571.1" cy="346.3" r="1.5"/><circle cx="571.6" cy="343.8" r="1.5"/><circle cx="572.1" cy="342.1" r="1.5"/><circle cx="572.5" cy="341.1" r="1.5"/><circle cx="573" cy="340.6" r="1.5"/><circle cx="573.4" cy="340.4" r="1.5"/><circle cx="573.7" cy="340.4" r="1.5"/><circle cx="573.9" cy="340.5" r="1.5"/><circle cx="574.4" cy="341.2" r="1.5"/><circle cx="574.8" cy="342.4" r="1.5"/><circle cx="575.3" cy="343.8" r="1.5"/><circle cx="575.7" cy="345.5" r="1.5"/><circle cx="576.2" cy="347.4" r="1.5"/><circle cx="576.7" cy="349.5" r="1.5"/><circle cx="577.1" cy="351.7" r="1.5"/><circle cx="577.6" cy="354.2" r="1.5"/><circle cx="578" cy="356.8" r="1.5"/><circle cx="578.5" cy="359.5" r="1.5"/><circle cx="579" cy="362.4" r="1.5"/><circle cx="579.4" cy="365.4" r="1.5"/><circle cx="579.9" cy="368.5" r="1.5"/><circle cx="580.3" cy="371.6" r="1.5"/><circle cx="580.8" cy="374.8" r="1.5"/><circle cx="581.3" cy="378" r="1.5"/><circle cx="581.7" cy="381.3" r="1.5"/><circle cx="582.2" cy="384.5" r="1.5"/><circle cx="582.6" cy="387.7" r="1.5"/><circle cx="583.1" cy="390.9" r="1.5"/><circle cx="583.6" cy="394.1" r="1.5"/><circle cx="584" cy="397.2" r="1.5"/><circle cx="584.5" cy="400.3" r="1.5"/><circle cx="584.9" cy="403.3" r="1.5"/><circle cx="585.4" cy="406.2" r="1.5"/><circle cx="585.9" cy="409.1" r="1.5"/><circle cx="586.3" cy="411.9" r="1.5"/><circle cx="586.8" cy="414.6" r="1.5"/><circle cx="587.2" cy="417.2" r="1.5"/><circle cx="587.7" cy="419.7" r="1.5"/><circle cx="588.2" cy="422.2" r="1.5"/><circle cx="588.6" cy="424.6" r="1.5"/><circle cx="589.1" cy="426.9" r="1.5"/><circle cx="589.5" cy="429.1" r="1.5"/><circle cx="590" cy="431.2" r="1.5"/><circle cx="590.5" cy="433.3" r="1.5"/><circle cx="590.9" cy="435.3" r="1.5"/><circle cx="591.4" cy="437.2" r="1.5"/><circle cx="591.8" cy="439.1" r="1.5"/><circle cx="592.3" cy="440.8" r="1.5"/><circle cx="592.8" cy="442.5" r="1.5"/><circle cx="593.2" cy="444.2" r="1.5"/><circle cx="593.7" cy="445.7" r="1.5"/><circle cx="594.1" cy="447.3" r="1.5"/><circle cx="594.6" cy="448.7" r="1.5"/><circle cx="595.1" cy="450.1" r="1.5"/><circle cx="595.5" cy="451.5" r="1.5"/><circle cx="596" cy="452.8" r="1.5"/><circle cx="596.4" cy="454" r="1.5"/><circle cx="596.9" cy="455.2" r="1.5"/><circle cx="597.4" cy="456.3" r="1.5"/><circle cx="597.8" cy="457.4" r="1.5"/><circle cx="598.3" cy="458.5" r="1.5"/><circle cx="598.7" cy="459.5" r="1.5"/><circle cx="599.2" cy="460.5" r="1.5"/><circle cx="599.7" cy="461.5" r="1.5"/><circle cx="600.1" cy="462.4" r="1.5"/><circle cx="600.6" cy="463.2" r="1.5"/><circle cx="601" cy="464.1" r="1.5"/><circle cx="601.5" cy="464.9" r="1.5"/><circle cx="602" cy="465.7" r="1.5"/><circle cx="602.4" cy="466.4" r="1.5"/><circle cx="602.9" cy="467.2" r="1.5"/><circle cx="603.3" cy="467.9" r="1.5"/><circle cx="603.8" cy="468.5" r="1.5"/><circle cx="604.3" cy="469.2" r="1.5"/><circle cx="604.7" cy="469.8" r="1.5"/><circle cx="605.2" cy="470.4" r="1.5"/><circle cx="605.6" cy="471" r="1.5"/><circle cx="606.1" cy="471.6" r="1.5"/><circle cx="606.6" cy="472.1" r="1.5"/><circle cx="607" cy="472.6" r="1.5"/><circle cx="607.5" cy="473.2" r="1.5"/><circle cx="607.9" cy="473.6" r="1.5"/><circle cx="608.4" cy="474.1" r="1.5"/><circle cx="608.9" cy="474.6" r="1.5"/><circle cx="609.3" cy="475" r="1.5"/><circle cx="609.8" cy="475.5" r="1.5"/><circle cx="610.2" cy="475.9" r="1.5"/><circle cx="610.7" cy="476.3" r="1.5"/><circle cx="611.2" cy="476.7" r="1.5"/><circle cx="611.6" cy="477" r="1.5"/><circle cx="612.1" cy="477.4" r="1.5"/><circle cx="612.5" cy="477.8" r="1.5"/><circle cx="613" cy="478.1" r="1.5"/><circle cx="613.5" cy="478.4" r="1.5"/><circle cx="613.9" cy="478.8" r="1.5"/><circle cx="614.4" cy="479.1" r="1.5"/><circle cx="614.8" cy="479.4" r="1.5"/><circle cx="615.3" cy="479.7" r="1.5"/><circle cx="615.8" cy="480" r="1.5"/><circle cx="616.2" cy="480.2" r="1.5"/><circle cx="616.7" cy="480.5" r="1.5"/><circle cx="617.1" cy="480.8" r="1.5"/><circle cx="617.6" cy="481" r="1.5"/><circle cx="618.1" cy="481.3" r="1.5"/><circle cx="618.5" cy="481.5" r="1.5"/><circle cx="619" cy="481.7" r="1.5"/><circle cx="619.4" cy="482" r="1.5"/><circle cx="619.9" cy="482.2" r="1.5"/><circle cx="620.4" cy="482.4" r="1.5"/><circle cx="620.8" cy="482.6" r="1.5"/><circle cx="621.3" cy="482.8" r="1.5"/><circle cx="621.7" cy="483" r="1.5"/><circle cx="622.2" cy="483.2" r="1.5"/><circle cx="622.7" cy="483.4" r="1.5"/><circle cx="623.1" cy="483.6" r="1.5"/><circle cx="623.6" cy="483.8" r="1.5"/><circle cx="624" cy="483.9" r="1.5"/><circle cx="624.5" cy="484.1" r="1.5"/><circle cx="625" cy="484.3" r="1.5"/><circle cx="625.4" cy="484.4" r="1.5"/><circle cx="625.9" cy="484.6" r="1.5"/><circle cx="626.3" cy="484.7" r="1.5"/><circle cx="626.8" cy="484.9" r="1.5"/><circle cx="627.3" cy="485" r="1.5"/><circle cx="627.7" cy="485.2" r="1.5"/><circle cx="628.2" cy="485.3" r="1.5"/><circle cx="628.6" cy="485.4" r="1.5"/><circle cx="629.1" cy="485.6" r="1.5"/><circle cx="629.6" cy="485.7" r="1.5"/><circle cx="630" cy="485.8" r="1.5"/><circle cx="630.5" cy="486" r="1.5"/><circle cx="630.9" cy="486.1" r="1.5"/><circle cx="631.4" cy="486.2" r="1.5"/><circle cx="631.9" cy="486.3" r="1.5"/><circle cx="632.3" cy="486.4" r="1.5"/><circle cx="632.8" cy="486.5" r="1.5"/><circle cx="633.2" cy="486.6" r="1.5"/><circle cx="633.7" cy="486.7" r="1.5"/><circle cx="634.2" cy="486.8" r="1.5"/><circle cx="634.6" cy="486.9" r="1.5"/><circle cx="635.1" cy="487" r="1.5"/><circle cx="635.5" cy="487.1" r="1.5"/><circle cx="636" cy="487.2" r="1.5"/><circle cx="636.5" cy="487.3" r="1.5"/><circle cx="636.9" cy="487.4" r="1.5"/><circle cx="637.4" cy="487.5" r="1.5"/><circle cx="637.8" cy="487.6" r="1.5"/><circle cx="638.3" cy="487.7" r="1.5"/></g>
</g>
<line x1="355.6" y1="270.6" x2="659.2" y2="270.6" stroke="#333" stroke-width="1.2"/>
<line x1="355.6" y1="493.2" x2="659.2" y2="493.2" stroke="#333" stroke-width="1.2"/>
<line x1="355.6" y1="270" x2="355.6" y2="493.8" stroke="#333" stroke-width="1.2"/>
<line x1="507.2" y1="270.6" x2="507.2" y2="493.2" stroke="#666" stroke-width="1.1"/>
<line x1="659.2" y1="270" x2="659.2" y2="493.8" stroke="#777" stroke-width="1.3"/>
<line x1="365.2" y1="493.2" x2="365.2" y2="490.2" stroke="#333" stroke-width="1.0"/>
<line x1="365.2" y1="270.6" x2="365.2" y2="273.6" stroke="#333" stroke-width="1.0"/>
<line x1="375.1" y1="493.2" x2="375.1" y2="490.2" stroke="#333" stroke-width="1.0"/>
<line x1="375.1" y1="270.6" x2="375.1" y2="273.6" stroke="#333" stroke-width="1.0"/>
<line x1="385.1" y1="493.2" x2="385.1" y2="488.2" stroke="#333" stroke-width="1.0"/>
<line x1="385.1" y1="270.6" x2="385.1" y2="275.6" stroke="#333" stroke-width="1.0"/>
<line x1="395.1" y1="493.2" x2="395.1" y2="490.2" stroke="#333" stroke-width="1.0"/>
<line x1="395.1" y1="270.6" x2="395.1" y2="273.6" stroke="#333" stroke-width="1.0"/>
<line x1="405" y1="493.2" x2="405" y2="490.2" stroke="#333" stroke-width="1.0"/>
<line x1="405" y1="270.6" x2="405" y2="273.6" stroke="#333" stroke-width="1.0"/>
<line x1="415" y1="493.2" x2="415" y2="488.2" stroke="#333" stroke-width="1.0"/>
<line x1="415" y1="270.6" x2="415" y2="275.6" stroke="#333" stroke-width="1.0"/>
<line x1="425" y1="493.2" x2="425" y2="490.2" stroke="#333" stroke-width="1.0"/>
<line x1="425" y1="270.6" x2="425" y2="273.6" stroke="#333" stroke-width="1.0"/>
<line x1="434.9" y1="493.2" x2="434.9" y2="490.2" stroke="#333" stroke-width="1.0"/>
<line x1="434.9" y1="270.6" x2="434.9" y2="273.6" stroke="#333" stroke-width="1.0"/>
<line x1="444.9" y1="493.2" x2="444.9" y2="488.2" stroke="#333" stroke-width="1.0"/>
<line x1="444.9" y1="270.6" x2="444.9" y2="275.6" stroke="#333" stroke-width="1.0"/>
<line x1="454.9" y1="493.2" x2="454.9" y2="490.2" stroke="#333" stroke-width="1.0"/>
<line x1="454.9" y1="270.6" x2="454.9" y2="273.6" stroke="#333" stroke-width="1.0"/>
<line x1="464.8" y1="493.2" x2="464.8" y2="490.2" stroke="#333" stroke-width="1.0"/>
<line x1="464.8" y1="270.6" x2="464.8" y2="273.6" stroke="#333" stroke-width="1.0"/>
<line x1="474.8" y1="493.2" x2="474.8" y2="488.2" stroke="#333" stroke-width="1.0"/>
<line x1="474.8" y1="270.6" x2="474.8" y2="275.6" stroke="#333" stroke-width="1.0"/>
<line x1="484.8" y1="493.2" x2="484.8" y2="490.2" stroke="#333" stroke-width="1.0"/>
<line x1="484.8" y1="270.6" x2="484.8" y2="273.6" stroke="#333" stroke-width="1.0"/>
<line x1="494.7" y1="493.2" x2="494.7" y2="490.2" stroke="#333" stroke-width="1.0"/>
<line x1="494.7" y1="270.6" x2="494.7" y2="273.6" stroke="#333" stroke-width="1.0"/>
<line x1="504.7" y1="493.2" x2="504.7" y2="488.2" stroke="#333" stroke-width="1.0"/>
<line x1="504.7" y1="270.6" x2="504.7" y2="275.6" stroke="#333" stroke-width="1.0"/>
<text x="355.2" y="507.4" font-size="12.8" text-anchor="middle" >30</text>
<text x="385.1" y="507.4" font-size="12.8" text-anchor="middle" >35</text>
<text x="415" y="507.4" font-size="12.8" text-anchor="middle" >40</text>
<text x="444.9" y="507.4" font-size="12.8" text-anchor="middle" >45</text>
<text x="474.8" y="507.4" font-size="12.8" text-anchor="middle" >50</text>
<line x1="530.2" y1="493.2" x2="530.2" y2="488.2" stroke="#333" stroke-width="1.0"/>
<line x1="530.2" y1="270.6" x2="530.2" y2="275.6" stroke="#333" stroke-width="1.0"/>
<line x1="544.5" y1="493.2" x2="544.5" y2="490.2" stroke="#333" stroke-width="1.0"/>
<line x1="544.5" y1="270.6" x2="544.5" y2="273.6" stroke="#333" stroke-width="1.0"/>
<line x1="558.8" y1="493.2" x2="558.8" y2="490.2" stroke="#333" stroke-width="1.0"/>
<line x1="558.8" y1="270.6" x2="558.8" y2="273.6" stroke="#333" stroke-width="1.0"/>
<line x1="573.1" y1="493.2" x2="573.1" y2="488.2" stroke="#333" stroke-width="1.0"/>
<line x1="573.1" y1="270.6" x2="573.1" y2="275.6" stroke="#333" stroke-width="1.0"/>
<line x1="587.4" y1="493.2" x2="587.4" y2="490.2" stroke="#333" stroke-width="1.0"/>
<line x1="587.4" y1="270.6" x2="587.4" y2="273.6" stroke="#333" stroke-width="1.0"/>
<line x1="601.6" y1="493.2" x2="601.6" y2="490.2" stroke="#333" stroke-width="1.0"/>
<line x1="601.6" y1="270.6" x2="601.6" y2="273.6" stroke="#333" stroke-width="1.0"/>
<line x1="615.9" y1="493.2" x2="615.9" y2="488.2" stroke="#333" stroke-width="1.0"/>
<line x1="615.9" y1="270.6" x2="615.9" y2="275.6" stroke="#333" stroke-width="1.0"/>
<line x1="630.2" y1="493.2" x2="630.2" y2="490.2" stroke="#333" stroke-width="1.0"/>
<line x1="630.2" y1="270.6" x2="630.2" y2="273.6" stroke="#333" stroke-width="1.0"/>
<line x1="644.5" y1="493.2" x2="644.5" y2="490.2" stroke="#333" stroke-width="1.0"/>
<line x1="644.5" y1="270.6" x2="644.5" y2="273.6" stroke="#333" stroke-width="1.0"/>
<text x="530.2" y="507.4" font-size="12.8" text-anchor="middle" >170</text>
<text x="573.1" y="507.4" font-size="12.8" text-anchor="middle" >180</text>
<text x="615.9" y="507.4" font-size="12.8" text-anchor="middle" >190</text>
<text x="658.8" y="507.4" font-size="12.8" text-anchor="middle" >200</text>
<line x1="355.6" y1="477.4" x2="358.6" y2="477.4" stroke="#333" stroke-width="1.0"/>
<line x1="355.6" y1="461.5" x2="360.6" y2="461.5" stroke="#333" stroke-width="1.0"/>
<line x1="355.6" y1="445.5" x2="358.6" y2="445.5" stroke="#333" stroke-width="1.0"/>
<line x1="355.6" y1="429.6" x2="360.6" y2="429.6" stroke="#333" stroke-width="1.0"/>
<line x1="355.6" y1="413.6" x2="358.6" y2="413.6" stroke="#333" stroke-width="1.0"/>
<line x1="355.6" y1="397.7" x2="360.6" y2="397.7" stroke="#333" stroke-width="1.0"/>
<line x1="355.6" y1="381.8" x2="358.6" y2="381.8" stroke="#333" stroke-width="1.0"/>
<line x1="355.6" y1="365.8" x2="360.6" y2="365.8" stroke="#333" stroke-width="1.0"/>
<line x1="355.6" y1="349.8" x2="358.6" y2="349.8" stroke="#333" stroke-width="1.0"/>
<line x1="355.6" y1="333.9" x2="360.6" y2="333.9" stroke="#333" stroke-width="1.0"/>
<line x1="355.6" y1="317.9" x2="358.6" y2="317.9" stroke="#333" stroke-width="1.0"/>
<line x1="355.6" y1="302" x2="360.6" y2="302" stroke="#333" stroke-width="1.0"/>
<line x1="355.6" y1="286" x2="358.6" y2="286" stroke="#333" stroke-width="1.0"/>
<text x="382.2" y="464.8" font-size="12.8" text-anchor="end" >10</text>
<text x="382.2" y="432.9" font-size="12.8" text-anchor="end" >20</text>
<text x="382.2" y="401" font-size="12.8" text-anchor="end" >30</text>
<text x="382.2" y="369.1" font-size="12.8" text-anchor="end" >40</text>
<text x="382.2" y="337.2" font-size="12.8" text-anchor="end" >50</text>
<text x="382.2" y="305.3" font-size="12.8" text-anchor="end" >60</text>
<text x="382.2" y="284.4" font-size="12.8" text-anchor="end" >70</text>
<line x1="507.2" y1="471.1" x2="511.7" y2="471.1" stroke="#333" stroke-width="1.0"/>
<line x1="507.2" y1="448.8" x2="511.7" y2="448.8" stroke="#333" stroke-width="1.0"/>
<line x1="507.2" y1="426.4" x2="511.7" y2="426.4" stroke="#333" stroke-width="1.0"/>
<line x1="507.2" y1="404.1" x2="511.7" y2="404.1" stroke="#333" stroke-width="1.0"/>
<line x1="507.2" y1="381.7" x2="511.7" y2="381.7" stroke="#333" stroke-width="1.0"/>
<line x1="507.2" y1="359.3" x2="511.7" y2="359.3" stroke="#333" stroke-width="1.0"/>
<line x1="507.2" y1="337" x2="511.7" y2="337" stroke="#333" stroke-width="1.0"/>
<line x1="507.2" y1="314.6" x2="511.7" y2="314.6" stroke="#333" stroke-width="1.0"/>
<line x1="507.2" y1="292.3" x2="511.7" y2="292.3" stroke="#333" stroke-width="1.0"/>
<text x="514.5" y="474.4" font-size="12.8" text-anchor="start" >0.4</text>
<text x="514.5" y="452.1" font-size="12.8" text-anchor="start" >0.8</text>
<text x="514.5" y="429.7" font-size="12.8" text-anchor="start" >1.2</text>
<text x="514.5" y="407.4" font-size="12.8" text-anchor="start" >1.6</text>
<text x="514.5" y="385" font-size="12.8" text-anchor="start" >2.0</text>
<text x="514.5" y="362.6" font-size="12.8" text-anchor="start" >2.4</text>
<text x="514.5" y="340.3" font-size="12.8" text-anchor="start" >2.8</text>
<text x="514.5" y="317.9" font-size="12.8" text-anchor="start" >3.2</text>
<text x="514.5" y="295.6" font-size="12.8" text-anchor="start" >3.6</text>
<line x1="501.2" y1="274.6" x2="506.2" y2="266.6" stroke="#fff" stroke-width="3"/>
<line x1="502.2" y1="275.1" x2="508.2" y2="266.1" stroke="#444" stroke-width="0.9"/>
<line x1="506.2" y1="275.1" x2="512.2" y2="266.1" stroke="#444" stroke-width="0.9"/>
<line x1="501.2" y1="497.2" x2="506.2" y2="489.2" stroke="#fff" stroke-width="3"/>
<line x1="502.2" y1="497.7" x2="508.2" y2="488.7" stroke="#444" stroke-width="0.9"/>
<line x1="506.2" y1="497.7" x2="512.2" y2="488.7" stroke="#444" stroke-width="0.9"/>
<rect x="383.1" y="278.1" width="17.7" height="14.7" fill="#fff" stroke="#444" stroke-width="1.0"/>
<rect x="534.1" y="276.9" width="17.7" height="15.4" fill="#fff" stroke="#444" stroke-width="1.0"/>
<rect x="355.6" y="478.3" width="17" height="14.9" fill="#fff" stroke="#444" stroke-width="1.0"/>
<rect x="630" y="278.4" width="22.8" height="14.7" fill="#fff" stroke="#444" stroke-width="1.0"/>
<text x="390.5" y="289.2" font-size="11.7" text-anchor="middle" font-family='"Liberation Sans", sans-serif' style='stroke-width:0.1px'>A</text>
<text x="542.1" y="288.7" font-size="11.7" text-anchor="middle" font-family='"Liberation Sans", sans-serif' style='stroke-width:0.1px'>B</text>
<text x="359.5" y="489.5" font-size="15.5" text-anchor="start" font-family='"Liberation Serif", serif' style='stroke-width:0.1px'>d)</text>
<text x="640.9" y="289.8" font-size="14" text-anchor="middle" font-family='"Liberation Serif", serif' style='stroke-width:0.1px'>1 g</text>
<text x="465.9" y="519.7" font-size="13" text-anchor="start" >Frequency (Hz)</text>
<text transform="translate(347.1,389.3) rotate(-90)" font-size="13" text-anchor="middle">Power (&#956;W)</text>
<text transform="translate(500.9,388.9) rotate(-90)" font-size="13" text-anchor="middle">Power (&#956;W)</text>
<rect x="224.1" y="13.5" width="98.2" height="28.8" fill="#fff" stroke="#444" stroke-width="1.0"/>
<line x1="231" y1="22.2" x2="256" y2="22.2" stroke="#444" stroke-width="1.2"/>
<text x="258" y="25.6" font-size="11" text-anchor="start" style='stroke-width:0.08px'>Hybrid model</text>
<line x1="231" y1="36" x2="256" y2="36" stroke="#ff8080" stroke-width="1.7"/>
<circle cx="243.6" cy="36" r="1.8" fill="#f00"/>
<text x="258" y="39.6" font-size="11" text-anchor="start" style='stroke-width:0.08px'>Measured</text>
</svg></body></html>
